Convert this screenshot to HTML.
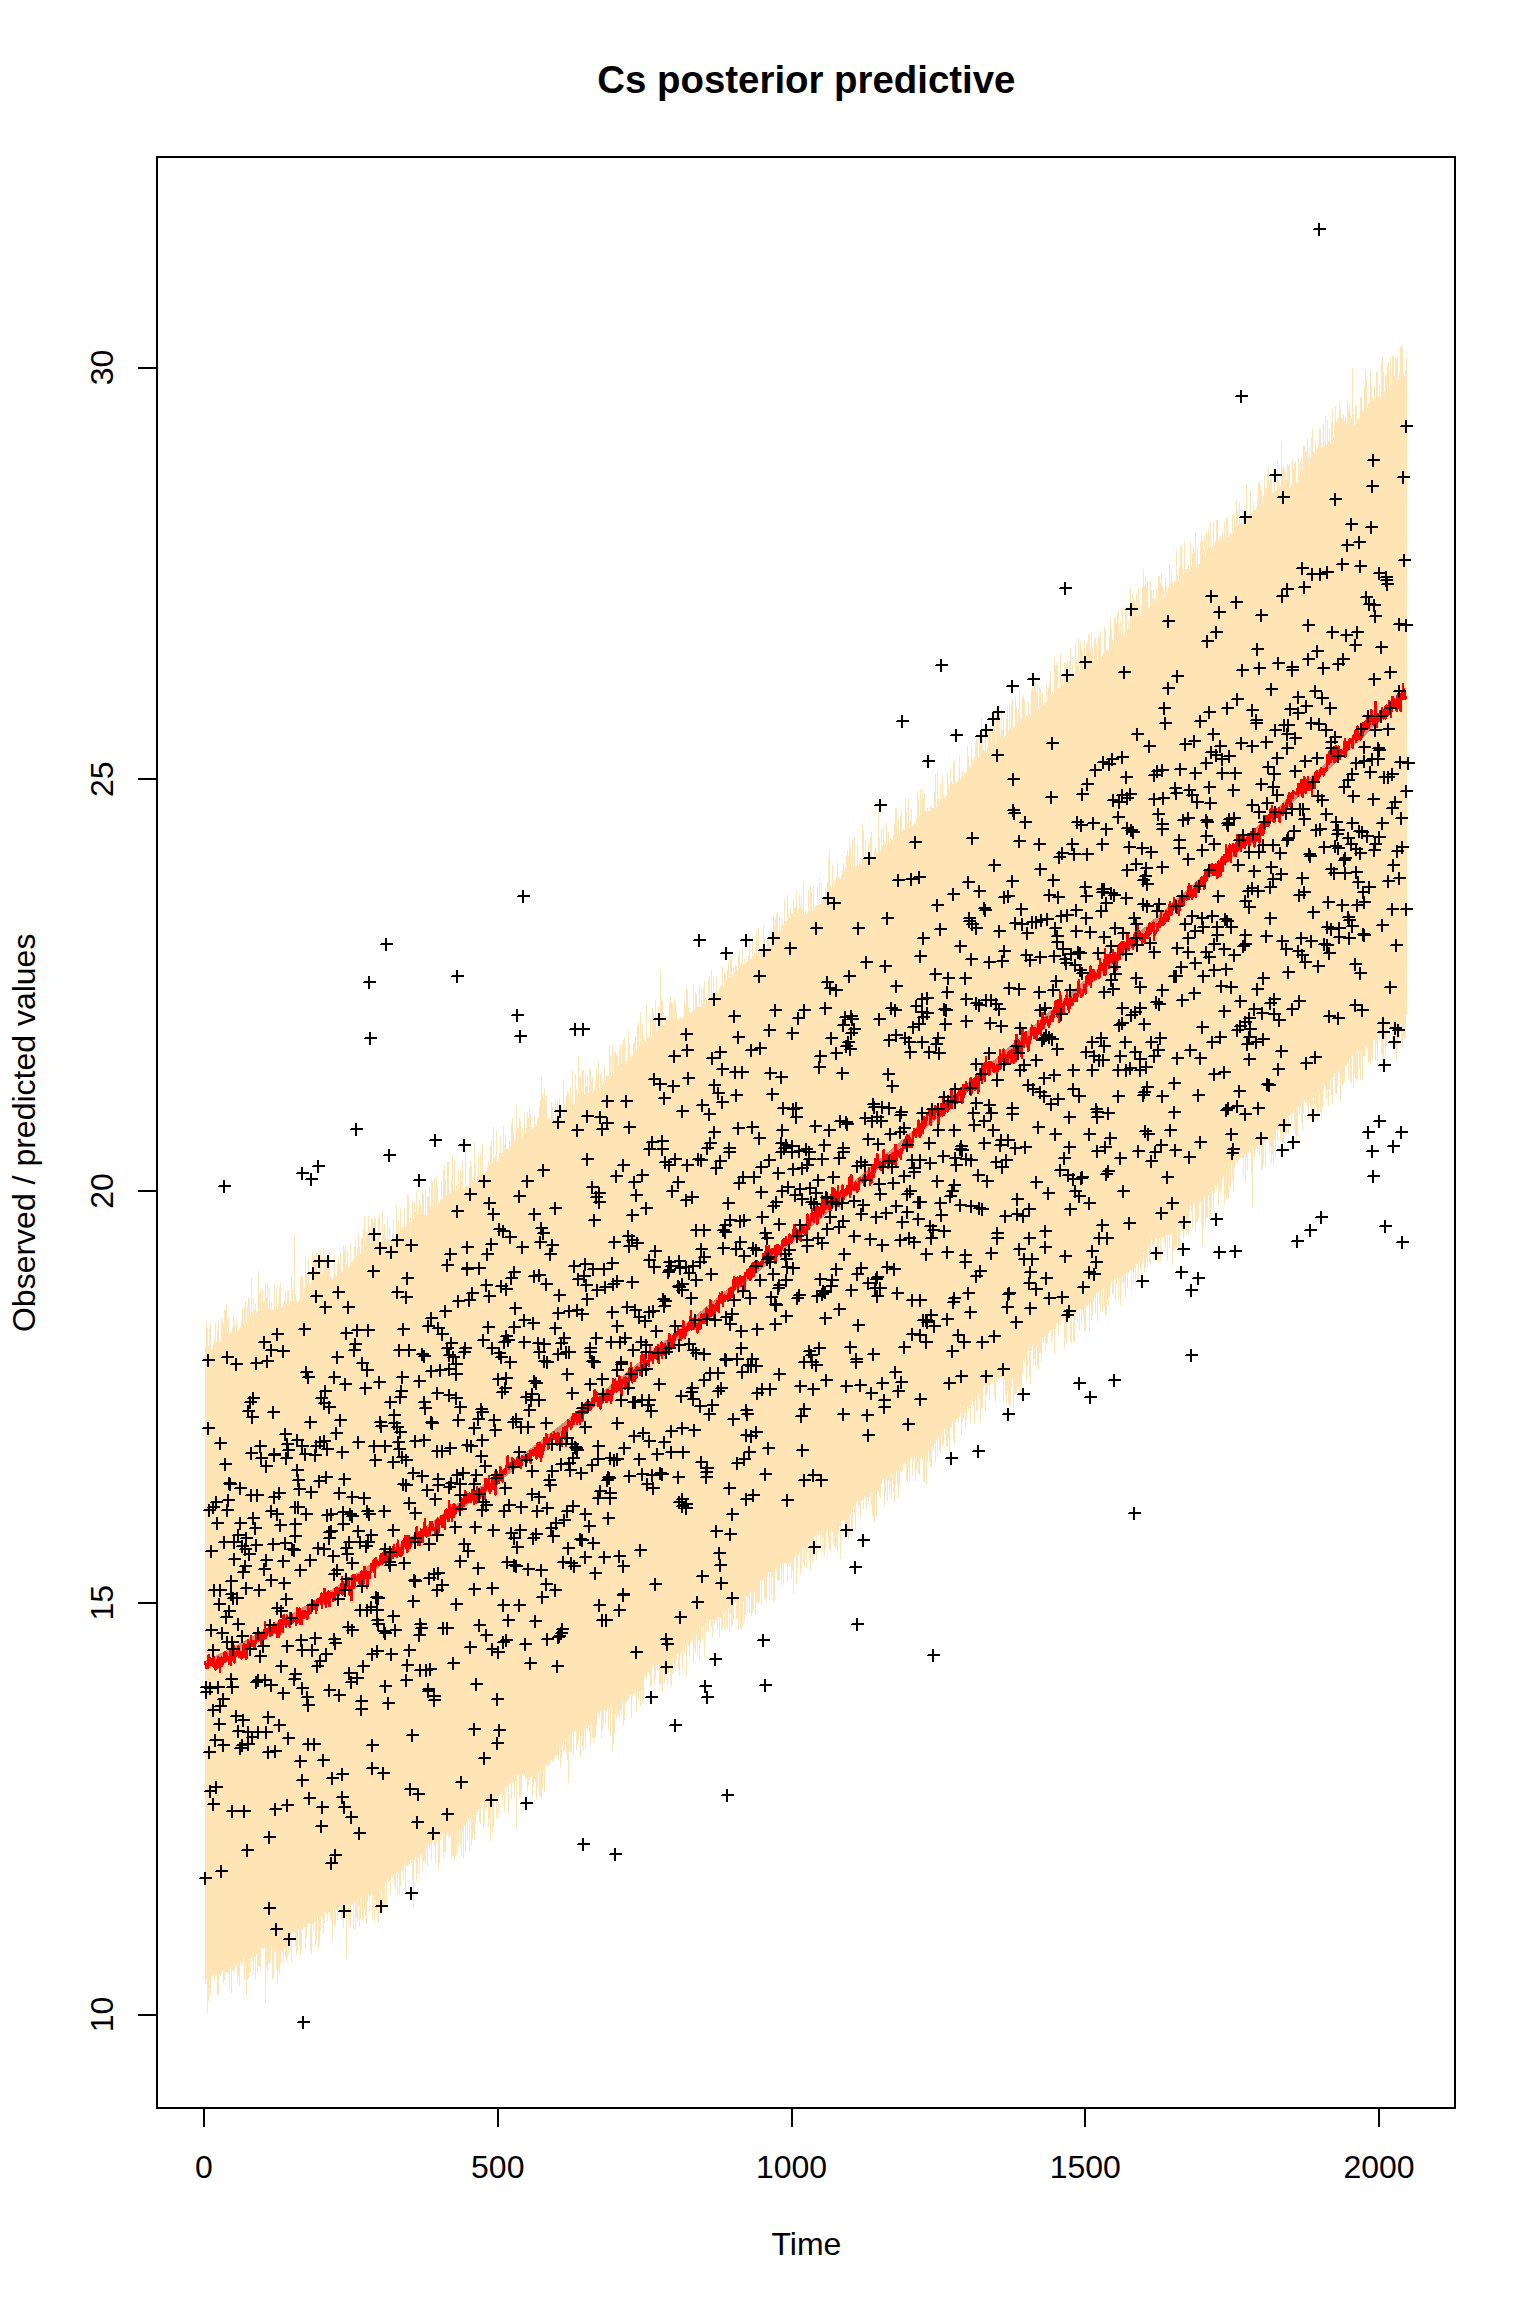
<!DOCTYPE html>
<html><head><meta charset="utf-8"><title>Cs posterior predictive</title>
<style>html,body{margin:0;padding:0;background:#fff}svg{display:block}text{font-family:"Liberation Sans",Arial,sans-serif;font-size:32px;fill:#000}</style></head>
<body><svg width="1536" height="2304" viewBox="0 0 1536 2304">
<rect width="1536" height="2304" fill="#fff"/>
<g shape-rendering="crispEdges">
<path fill="#FFE4B5" d="M205 1347V1347H206V1322H207V1328H208V1346H209V1329H210V1323H211V1350H212V1349H213V1345H214V1339H215V1322H216V1342H217V1330H218V1320H219V1342H220V1341H221V1318H222V1321H223V1323H224V1310H225V1310H226V1304H227V1332H228V1318H229V1333H230V1333H231V1332H232V1327H233V1314H234V1324H235V1332H236V1319H237V1331H238V1330H239V1330H240V1327H241V1320H242V1308H243V1324H244V1306H245V1301H246V1322H247V1306H248V1298H249V1298H250V1315H251V1278H252V1312H253V1298H254V1310H255V1304H256V1313H257V1311H258V1271H259V1294H260V1291H261V1311H262V1289H263V1303H264V1301H265V1283H266V1297H267V1283H268V1308H269V1287H270V1309H271V1303H272V1310H273V1310H274V1284H275V1309H276V1289H277V1309H278V1304H279V1287H280V1283H281V1308H282V1307H283V1304H284V1300H285V1290H286V1304H287V1291H288V1290H289V1305H290V1301H291V1275H292V1290H293V1301H294V1235H295V1294H296V1300H297V1302H298V1301H299V1299H300V1277H301V1275H302V1276H303V1294H304V1288H305V1256H306V1273H307V1282H308V1259H309V1286H310V1284H311V1282H312V1251H313V1258H314V1256H315V1258H316V1253H317V1274H318V1273H319V1267H320V1250H321V1257H322V1274H323V1249H324V1258H325V1257H326V1260H327V1264H328V1258H329V1252H330V1277H331V1276H332V1279H333V1277H334V1255H335V1273H336V1276H337V1263H338V1258H339V1269H340V1252H341V1272H342V1271H343V1245H344V1250H345V1247H346V1264H347V1251H348V1267H349V1266H350V1244H351V1262H352V1262H353V1261H354V1247H355V1240H356V1256H357V1248H358V1234H359V1247H360V1254H361V1239H362V1238H363V1229H364V1216H365V1247H366V1231H367V1233H368V1216H369V1225H370V1243H371V1218H372V1219H373V1223H374V1217H375V1219H376V1240H377V1239H378V1217H379V1215H380V1242H381V1242H382V1211H383V1234H384V1224H385V1236H386V1242H387V1218H388V1239H389V1228H390V1240H391V1239H392V1235H393V1219H394V1239H395V1236H396V1205H397V1236H398V1220H399V1232H400V1208H401V1230H402V1227H403V1228H404V1207H405V1227H406V1226H407V1194H408V1196H409V1222H410V1218H411V1222H412V1202H413V1219H414V1202H415V1212H416V1191H417V1215H418V1207H419V1200H420V1204H421V1215H422V1189H423V1195H424V1215H425V1189H426V1215H427V1196H428V1197H429V1186H430V1207H431V1179H432V1182H433V1208H434V1178H435V1200H436V1176H437V1187H438V1203H439V1202H440V1200H441V1182H442V1199H443V1170H444V1165H445V1181H446V1195H447V1161H448V1161H449V1192H450V1193H451V1180H452V1155H453V1190H454V1159H455V1191H456V1185H457V1190H458V1170H459V1187H460V1171H461V1181H462V1161H463V1189H464V1188H465V1150H466V1186H467V1185H468V1186H469V1168H470V1161H471V1166H472V1180H473V1181H474V1143H475V1163H476V1182H477V1177H478V1156H479V1175H480V1154H481V1175H482V1144H483V1176H484V1173H485V1174H486V1171H487V1167H488V1162H489V1165H490V1145H491V1140H492V1163H493V1127H494V1158H495V1155H496V1131H497V1161H498V1159H499V1153H500V1137H501V1153H502V1153H503V1126H504V1145H505V1135H506V1149H507V1149H508V1149H509V1141H510V1146H511V1124H512V1118H513V1131H514V1141H515V1139H516V1106H517V1128H518V1128H519V1118H520V1121H521V1139H522V1128H523V1137H524V1113H525V1133H526V1128H527V1112H528V1117H529V1107H530V1114H531V1127H532V1129H533V1127H534V1116H535V1124H536V1126H537V1119H538V1117H539V1106H540V1100H541V1076H542V1094H543V1098H544V1089H545V1104H546V1096H547V1119H548V1118H549V1118H550V1120H551V1102H552V1107H553V1117H554V1121H555V1100H556V1119H557V1100H558V1109H559V1098H560V1119H561V1105H562V1118H563V1080H564V1104H565V1115H566V1095H567V1091H568V1093H569V1109H570V1087H571V1103H572V1071H573V1105H574V1103H575V1074H576V1089H577V1096H578V1056H579V1078H580V1076H581V1091H582V1070H583V1070H584V1095H585V1073H586V1086H587V1076H588V1093H589V1068H590V1070H591V1081H592V1078H593V1093H594V1090H595V1082H596V1069H597V1075H598V1062H599V1087H600V1075H601V1072H602V1085H603V1081H604V1067H605V1083H606V1075H607V1076H608V1076H609V1046H610V1056H611V1076H612V1045H613V1073H614V1053H615V1051H616V1055H617V1056H618V1065H619V1050H620V1045H621V1064H622V1044H623V1040H624V1038H625V1064H626V1061H627V1061H628V1031H629V1043H630V1054H631V1058H632V1055H633V1044H634V1042H635V1036H636V1050H637V1025H638V1022H639V1046H640V1012H641V1044H642V1023H643V1036H644V1042H645V1042H646V1005H647V1038H648V1036H649V1037H650V1019H651V1036H652V1008H653V1012H654V1024H655V1000H656V1031H657V1028H658V1007H659V1020H660V970H661V999H662V1000H663V1025H664V1025H665V1016H666V1017H667V1020H668V1018H669V1003H670V997H671V1002H672V1003H673V1020H674V999H675V1002H676V1011H677V1021H678V1020H679V1018H680V1017H681V1019H682V1018H683V1018H684V1001H685V1004H686V988H687V990H688V1007H689V1011H690V1013H691V1012H692V1011H693V984H694V1010H695V992H696V994H697V1006H698V1007H699V986H700V1007H701V988H702V1004H703V988H704V982H705V1004H706V1000H707V1002H708V978H709V976H710V1000H711V970H712V996H713V977H714V997H715V992H716V977H717V991H718V993H719V988H720V986H721V985H722V967H723V986H724V971H725V974H726V980H727V970H728V962H729V977H730V956H731V959H732V975H733V966H734V972H735V965H736V966H737V970H738V956H739V951H740V965H741V963H742V949H743V964H744V959H745V963H746V962H747V961H748V956H749V934H750V959H751V958H752V937H753V956H754V953H755V953H756V930H757V955H758V928H759V952H760V950H761V947H762V953H763V925H764V939H765V951H766V948H767V939H768V940H769V931H770V946H771V930H772V941H773V916H774V925H775V919H776V914H777V912H778V934H779V917H780V931H781V918H782V924H783V925H784V899H785V921H786V921H787V895H788V913H789V917H790V908H791V914H792V913H793V900H794V908H795V907H796V890H797V913H798V909H799V895H800V905H801V898H802V909H803V882H804V914H805V911H806V914H807V913H808V890H809V911H810V886H811V892H812V911H813V886H814V907H815V906H816V905H817V887H818V905H819V878H820V904H821V883H822V902H823V899H824V898H825V889H826V893H827V882H828V858H829V850H830V885H831V888H832V865H833V888H834V880H835V884H836V877H837V863H838V877H839V878H840V879H841V875H842V870H843V863H844V871H845V868H846V855H847V850H848V856H849V842H850V847H851V867H852V839H853V864H854V837H855V866H856V866H857V846H858V866H859V863H860V862H861V864H862V824H863V831H864V857H865V840H866V860H867V861H868V842H869V857H870V837H871V832H872V858H873V857H874V852H875V847H876V852H877V854H878V809H879V838H880V851H881V829H882V846H883V827H884V841H885V844H886V823H887V845H888V832H889V842H890V838H891V839H892V840H893V835H894V824H895V808H896V808H897V834H898V819H899V833H900V816H901V812H902V831H903V828H904V830H905V798H906V811H907V824H908V799H909V828H910V821H911V809H912V826H913V825H914V823H915V824H916V818H917V791H918V799H919V816H920V789H921V815H922V790H923V798H924V793H925V811H926V812H927V808H928V811H929V811H930V807H931V806H932V808H933V808H934V792H935V774H936V807H937V771H938V799H939V802H940V783H941V799H942V776H943V795H944V798H945V796H946V796H947V773H948V784H949V790H950V769H951V782H952V784H953V762H954V760H955V781H956V783H957V782H958V778H959V756H960V779H961V777H962V771H963V776H964V774H965V772H966V772H967V746H968V756H969V765H970V768H971V746H972V760H973V764H974V757H975V743H976V739H977V739H978V758H979V735H980V733H981V718H982V732H983V750H984V751H985V732H986V752H987V747H988V729H989V730H990V726H991V742H992V732H993V726H994V721H995V744H996V708H997V707H998V719H999V714H1000V738H1001V709H1002V729H1003V719H1004V737H1005V736H1006V719H1007V706H1008V731H1009V705H1010V728H1011V705H1012V700H1013V728H1014V727H1015V696H1016V707H1017V722H1018V710H1019V690H1020V721H1021V717H1022V698H1023V695H1024V700H1025V720H1026V715H1027V716H1028V701H1029V713H1030V717H1031V690H1032V688H1033V691H1034V682H1035V682H1036V692H1037V683H1038V709H1039V687H1040V689H1041V702H1042V693H1043V705H1044V703H1045V702H1046V684H1047V701H1048V688H1049V682H1050V671H1051V695H1052V692H1053V694H1054V657H1055V665H1056V663H1057V665H1058V688H1059V689H1060V654H1061V684H1062V679H1063V685H1064V662H1065V684H1066V663H1067V660H1068V679H1069V661H1070V648H1071V678H1072V662H1073V679H1074V677H1075V644H1076V661H1077V665H1078V639H1079V672H1080V643H1081V649H1082V651H1083V669H1084V640H1085V668H1086V644H1087V642H1088V634H1089V635H1090V651H1091V632H1092V647H1093V661H1094V639H1095V637H1096V644H1097V659H1098V637H1099V636H1100V631H1101V657H1102V655H1103V653H1104V627H1105V630H1106V651H1107V650H1108V650H1109V636H1110V617H1111V629H1112V639H1113V643H1114V618H1115V617H1116V623H1117V613H1118V610H1119V633H1120V621H1121V635H1122V607H1123V635H1124V633H1125V613H1126V605H1127V629H1128V621H1129V630H1130V588H1131V602H1132V594H1133V599H1134V602H1135V605H1136V594H1137V617H1138V588H1139V605H1140V615H1141V604H1142V587H1143V569H1144V586H1145V578H1146V587H1147V581H1148V608H1149V607H1150V580H1151V590H1152V598H1153V590H1154V601H1155V598H1156V589H1157V604H1158V576H1159V576H1160V583H1161V573H1162V585H1163V588H1164V597H1165V578H1166V586H1167V592H1168V587H1169V564H1170V584H1171V570H1172V582H1173V586H1174V580H1175V582H1176V551H1177V575H1178V581H1179V567H1180V546H1181V547H1182V567H1183V575H1184V541H1185V569H1186V569H1187V569H1188V565H1189V570H1190V542H1191V566H1192V553H1193V547H1194V551H1195V532H1196V568H1197V548H1198V564H1199V564H1200V542H1201V536H1202V540H1203V550H1204V536H1205V558H1206V531H1207V551H1208V529H1209V548H1210V522H1211V549H1212V547H1213V522H1214V545H1215V541H1216V520H1217V520H1218V540H1219V536H1220V540H1221V536H1222V533H1223V540H1224V521H1225V536H1226V518H1227V518H1228V537H1229V536H1230V532H1231V535H1232V514H1233V533H1234V516H1235V527H1236V500H1237V511H1238V525H1239V502H1240V524H1241V518H1242V523H1243V510H1244V517H1245V510H1246V484H1247V518H1248V516H1249V514H1250V491H1251V513H1252V511H1253V502H1254V510H1255V510H1256V507H1257V501H1258V483H1259V481H1260V486H1261V490H1262V503H1263V496H1264V476H1265V488H1266V488H1267V474H1268V467H1269V483H1270V479H1271V477H1272V493H1273V493H1274V470H1275V491H1276V490H1277V460H1278V479H1279V485H1280V486H1281V442H1282V467H1283V466H1284V470H1285V472H1286V480H1287V464H1288V466H1289V464H1290V487H1291V485H1292V460H1293V469H1294V463H1295V462H1296V483H1297V482H1298V458H1299V476H1300V461H1301V457H1302V469H1303V446H1304V446H1305V452H1306V451H1307V439H1308V461H1309V447H1310V458H1311V438H1312V428H1313V451H1314V453H1315V439H1316V449H1317V448H1318V443H1319V429H1320V429H1321V448H1322V447H1323V424H1324V446H1325V416H1326V445H1327V420H1328V441H1329V428H1330V443H1331V422H1332V410H1333V437H1334V425H1335V407H1336V422H1337V419H1338V417H1339V403H1340V409H1341V418H1342V418H1343V414H1344V421H1345V417H1346V423H1347V401H1348V409H1349V403H1350V415H1351V418H1352V368H1353V415H1354V425H1355V406H1356V405H1357V420H1358V418H1359V419H1360V397H1361V396H1362V411H1363V410H1364V387H1365V370H1366V379H1367V408H1368V404H1369V403H1370V371H1371V385H1372V398H1373V400H1374V386H1375V399H1376V371H1377V372H1378V396H1379V385H1380V397H1381V364H1382V357H1383V372H1384V391H1385V376H1386V374H1387V366H1388V363H1389V390H1390V358H1391V385H1392V355H1393V357H1394V376H1395V359H1396V360H1397V357H1398V380H1399V372H1400V347H1401V345H1402V348H1403V373H1404V376H1405V370H1406V357H1407V1015H1406V1038H1405V1039H1404V1037H1403V1048H1402V1042H1401V1024H1400V1039H1399V1029H1398V1050H1397V1060H1396V1054H1395V1043H1394V1028H1393V1041H1392V1028H1391V1029H1390V1039H1389V1026H1388V1031H1387V1045H1386V1054H1385V1039H1384V1057H1383V1057H1382V1054H1381V1032H1380V1041H1379V1035H1378V1065H1377V1044H1376V1060H1375V1039H1374V1040H1373V1059H1372V1056H1371V1065H1370V1062H1369V1063H1368V1048H1367V1049H1366V1047H1365V1056H1364V1057H1363V1080H1362V1052H1361V1080H1360V1069H1359V1051H1358V1080H1357V1081H1356V1078H1355V1074H1354V1087H1353V1056H1352V1083H1351V1082H1350V1059H1349V1079H1348V1062H1347V1065H1346V1066H1345V1081H1344V1084H1343V1086H1342V1084H1341V1101H1340V1073H1339V1070H1338V1087H1337V1094H1336V1093H1335V1073H1334V1077H1333V1104H1332V1095H1331V1080H1330V1090H1329V1106H1328V1089H1327V1099H1326V1087H1325V1085H1324V1089H1323V1107H1322V1118H1321V1112H1320V1094H1319V1113H1318V1121H1317V1108H1316V1104H1315V1119H1314V1097H1313V1119H1312V1115H1311V1107H1310V1103H1309V1121H1308V1106H1307V1103H1306V1103H1305V1100H1304V1113H1303V1130H1302V1122H1301V1107H1300V1114H1299V1106H1298V1136H1297V1141H1296V1135H1295V1130H1294V1110H1293V1113H1292V1128H1291V1115H1290V1115H1289V1134H1288V1119H1287V1134H1286V1136H1285V1121H1284V1143H1283V1150H1282V1123H1281V1139H1280V1127H1279V1129H1278V1141H1277V1130H1276V1158H1275V1140H1274V1165H1273V1154H1272V1164H1271V1146H1270V1153H1269V1140H1268V1136H1267V1138H1266V1167H1265V1142H1264V1165H1263V1169H1262V1170H1261V1142H1260V1156H1259V1145H1258V1149H1257V1147H1256V1151H1255V1157H1254V1147H1253V1207H1252V1174H1251V1153H1250V1151H1249V1153H1248V1171H1247V1157H1246V1180H1245V1154H1244V1176H1243V1158H1242V1157H1241V1158H1240V1159H1239V1160H1238V1162H1237V1162H1236V1160H1235V1168H1234V1192H1233V1180H1232V1163H1231V1188H1230V1185H1229V1198H1228V1200H1227V1199H1226V1194H1225V1204H1224V1176H1223V1178H1222V1189H1221V1193H1220V1184H1219V1205H1218V1184H1217V1189H1216V1185H1215V1193H1214V1211H1213V1191H1212V1209H1211V1219H1210V1224H1209V1195H1208V1218H1207V1218H1206V1226H1205V1198H1204V1229H1203V1246H1202V1224H1201V1201H1200V1202H1199V1219H1198V1222H1197V1222H1196V1232H1195V1204H1194V1202H1193V1228H1192V1212H1191V1206H1190V1212H1189V1234H1188V1220H1187V1235H1186V1223H1185V1229H1184V1238H1183V1234H1182V1227H1181V1225H1180V1246H1179V1248H1178V1226H1177V1248H1176V1246H1175V1251H1174V1251H1173V1265H1172V1233H1171V1235H1170V1248H1169V1235H1168V1261H1167V1235H1166V1248H1165V1243H1164V1238H1163V1237H1162V1236H1161V1261H1160V1238H1159V1263H1158V1255H1157V1239H1156V1237H1155V1243H1154V1260H1153V1246H1152V1238H1151V1264H1150V1263H1149V1246H1148V1267H1147V1258H1146V1268H1145V1272H1144V1252H1143V1263H1142V1274H1141V1269H1140V1259H1139V1281H1138V1264H1137V1264H1136V1285H1135V1269H1134V1284H1133V1271H1132V1290H1131V1270H1130V1270H1129V1273H1128V1288H1127V1273H1126V1297H1125V1282H1124V1285H1123V1276H1122V1283H1121V1305H1120V1280H1119V1299H1118V1278H1117V1284H1116V1301H1115V1279H1114V1294H1113V1294H1112V1281H1111V1286H1110V1297H1109V1305H1108V1300H1107V1315H1106V1316H1105V1306H1104V1288H1103V1311H1102V1289H1101V1311H1100V1303H1099V1292H1098V1321H1097V1293H1096V1313H1095V1296H1094V1302H1093V1315H1092V1320H1091V1303H1090V1332H1089V1304H1088V1306H1087V1305H1086V1330H1085V1331H1084V1317H1083V1310H1082V1324H1081V1309H1080V1331H1079V1310H1078V1323H1077V1313H1076V1320H1075V1343H1074V1341H1073V1315H1072V1343H1071V1341H1070V1313H1069V1318H1068V1317H1067V1343H1066V1338H1065V1349H1064V1320H1063V1319H1062V1318H1061V1325H1060V1321H1059V1335H1058V1322H1057V1324H1056V1329H1055V1353H1054V1329H1053V1338H1052V1343H1051V1330H1050V1331H1049V1333H1048V1343H1047V1344H1046V1351H1045V1337H1044V1343H1043V1338H1042V1361H1041V1353H1040V1353H1039V1369H1038V1366H1037V1346H1036V1367H1035V1359H1034V1365H1033V1345H1032V1351H1031V1384H1030V1376H1029V1351H1028V1367H1027V1380H1026V1357H1025V1363H1024V1360H1023V1374H1022V1385H1021V1392H1020V1391H1019V1387H1018V1387H1017V1394H1016V1394H1015V1395H1014V1420H1013V1378H1012V1388H1011V1406H1010V1406H1009V1403H1008V1391H1007V1403H1006V1394H1005V1380H1004V1404H1003V1377H1002V1381H1001V1377H1000V1378H999V1379H998V1377H997V1382H996V1402H995V1397H994V1377H993V1383H992V1381H991V1384H990V1400H989V1385H988V1393H987V1396H986V1411H985V1385H984V1389H983V1409H982V1408H981V1421H980V1399H979V1393H978V1412H977V1410H976V1397H975V1423H974V1406H973V1401H972V1405H971V1424H970V1408H969V1410H968V1406H967V1420H966V1429H965V1413H964V1418H963V1422H962V1435H961V1413H960V1417H959V1422H958V1418H957V1419H956V1423H955V1444H954V1439H953V1422H952V1427H951V1428H950V1451H949V1439H948V1447H947V1447H946V1434H945V1429H944V1445H943V1446H942V1432H941V1453H940V1450H939V1436H938V1457H937V1440H936V1463H935V1444H934V1450H933V1447H932V1468H931V1466H930V1462H929V1451H928V1461H927V1484H926V1452H925V1482H924V1481H923V1460H922V1455H921V1459H920V1475H919V1474H918V1462H917V1470H916V1481H915V1456H914V1463H913V1476H912V1457H911V1460H910V1482H909V1468H908V1482H907V1480H906V1462H905V1463H904V1464H903V1471H902V1472H901V1470H900V1486H899V1498H898V1485H897V1471H896V1486H895V1502H894V1492H893V1475H892V1499H891V1486H890V1495H889V1480H888V1501H887V1477H886V1492H885V1506H884V1479H883V1480H882V1484H881V1498H880V1496H879V1492H878V1490H877V1516H876V1494H875V1522H874V1516H873V1517H872V1505H871V1492H870V1497H869V1501H868V1497H867V1509H866V1499H865V1496H864V1509H863V1500H862V1501H861V1517H860V1509H859V1506H858V1501H857V1502H856V1530H855V1513H854V1507H853V1532H852V1538H851V1514H850V1535H849V1539H848V1535H847V1535H846V1535H845V1521H844V1519H843V1521H842V1521H841V1559H840V1526H839V1533H838V1552H837V1546H836V1549H835V1547H834V1543H833V1532H832V1528H831V1551H830V1550H829V1543H828V1529H827V1531H826V1550H825V1556H824V1537H823V1552H822V1531H821V1545H820V1536H819V1534H818V1535H817V1560H816V1537H815V1536H814V1555H813V1562H812V1542H811V1570H810V1558H809V1543H808V1552H807V1568H806V1550H805V1567H804V1563H803V1547H802V1569H801V1574H800V1551H799V1556H798V1568H797V1584H796V1557H795V1558H794V1593H793V1571H792V1579H791V1563H790V1566H789V1564H788V1581H787V1564H786V1563H785V1563H784V1584H783V1566H782V1585H781V1565H780V1580H779V1581H778V1581H777V1570H776V1568H775V1600H774V1602H773V1577H772V1595H771V1572H770V1600H769V1572H768V1577H767V1601H766V1598H765V1598H764V1578H763V1580H762V1605H761V1581H760V1602H759V1604H758V1601H757V1603H756V1615H755V1592H754V1610H753V1613H752V1616H751V1592H750V1613H749V1598H748V1613H747V1596H746V1615H745V1620H744V1601H743V1626H742V1631H741V1628H740V1600H739V1629H738V1618H737V1619H736V1602H735V1603H734V1619H733V1624H732V1627H731V1614H730V1632H729V1608H728V1630H727V1628H726V1610H725V1630H724V1613H723V1628H722V1631H721V1617H720V1638H719V1617H718V1630H717V1620H716V1620H715V1625H714V1619H713V1637H712V1627H711V1620H710V1620H709V1632H708V1623H707V1632H706V1623H705V1657H704V1626H703V1640H702V1627H701V1643H700V1661H699V1640H698V1655H697V1634H696V1653H695V1649H694V1663H693V1641H692V1640H691V1643H690V1657H689V1646H688V1643H687V1677H686V1646H685V1653H684V1648H683V1670H682V1651H681V1653H680V1676H679V1670H678V1654H677V1659H676V1667H675V1667H674V1657H673V1674H672V1687H671V1684H670V1668H669V1673H668V1685H667V1661H666V1660H665V1683H664V1664H663V1692H662V1684H661V1683H660V1685H659V1664H658V1670H657V1665H656V1679H655V1686H654V1665H653V1666H652V1687H651V1687H650V1676H649V1672H648V1672H647V1678H646V1676H645V1677H644V1699H643V1700H642V1689H641V1706H640V1691H639V1699H638V1691H637V1712H636V1695H635V1693H634V1694H633V1696H632V1718H631V1695H630V1696H629V1699H628V1701H627V1703H626V1701H625V1720H624V1726H623V1701H622V1715H621V1710H620V1718H619V1716H618V1704H617V1718H616V1713H615V1733H614V1744H613V1752H612V1704H611V1736H610V1709H609V1729H608V1707H607V1712H606V1723H605V1710H604V1723H603V1730H602V1738H601V1710H600V1718H599V1714H598V1713H597V1726H596V1736H595V1743H594V1738H593V1738H592V1721H591V1745H590V1732H589V1725H588V1729H587V1728H586V1749H585V1731H584V1751H583V1746H582V1736H581V1757H580V1732H579V1740H578V1744H577V1750H576V1731H575V1731H574V1756H573V1732H572V1753H571V1752H570V1734H569V1783H568V1760H567V1754H566V1739H565V1750H564V1753H563V1745H562V1759H561V1767H560V1748H559V1760H558V1755H557V1755H556V1756H555V1758H554V1762H553V1761H552V1760H551V1761H550V1766H549V1763H548V1767H547V1765H546V1766H545V1792H544V1770H543V1789H542V1799H541V1796H540V1796H539V1772H538V1789H537V1800H536V1782H535V1779H534V1787H533V1795H532V1777H531V1777H530V1780H529V1785H528V1791H527V1778H526V1781H525V1775H524V1776H523V1774H522V1792H521V1797H520V1797H519V1775H518V1776H517V1828H516V1781H515V1798H514V1782H513V1783H512V1799H511V1783H510V1784H509V1813H508V1788H507V1787H506V1788H505V1812H504V1795H503V1806H502V1792H501V1794H500V1794H499V1815H498V1796H497V1819H496V1796H495V1801H494V1827H493V1833H492V1800H491V1841H490V1818H489V1827H488V1798H487V1810H486V1800H485V1823H484V1828H483V1803H482V1807H481V1824H480V1822H479V1809H478V1812H477V1815H476V1824H475V1840H474V1834H473V1839H472V1846H471V1818H470V1851H469V1819H468V1840H467V1823H466V1852H465V1826H464V1858H463V1830H462V1856H461V1845H460V1829H459V1847H458V1830H457V1855H456V1856H455V1861H454V1856H453V1856H452V1859H451V1834H450V1836H449V1838H448V1832H447V1836H446V1852H445V1852H444V1858H443V1833H442V1835H441V1840H440V1863H439V1869H438V1837H437V1841H436V1863H435V1846H434V1840H433V1842H432V1861H431V1846H430V1850H429V1844H428V1866H427V1848H426V1864H425V1859H424V1861H423V1872H422V1854H421V1854H420V1874H419V1858H418V1873H417V1881H416V1857H415V1860H414V1908H413V1880H412V1863H411V1859H410V1865H409V1864H408V1866H407V1866H406V1893H405V1865H404V1880H403V1871H402V1869H401V1886H400V1895H399V1874H398V1896H397V1872H396V1890H395V1886H394V1875H393V1878H392V1876H391V1895H390V1881H389V1882H388V1880H387V1904H386V1882H385V1906H384V1908H383V1911H382V1890H381V1902H380V1903H379V1923H378V1903H377V1910H376V1900H375V1921H374V1896H373V1919H372V1894H371V1896H370V1913H369V1895H368V1902H367V1924H366V1916H365V1909H364V1918H363V1920H362V1896H361V1919H360V1927H359V1906H358V1922H357V1918H356V1930H355V1902H354V1929H353V1904H352V1902H351V1928H350V1927H349V1918H348V1904H347V1959H346V1902H345V1904H344V1928H343V1918H342V1920H341V1907H340V1907H339V1908H338V1920H337V1910H336V1924H335V1926H334V1909H333V1940H332V1921H331V1918H330V1913H329V1912H328V1921H327V1913H326V1912H325V1923H324V1934H323V1918H322V1916H321V1931H320V1945H319V1949H318V1917H317V1941H316V1945H315V1921H314V1931H313V1924H312V1955H311V1950H310V1924H309V1923H308V1924H307V1938H306V1949H305V1927H304V1925H303V1930H302V1949H301V1956H300V1946H299V1929H298V1951H297V1955H296V1946H295V1932H294V1932H293V1934H292V1962H291V1935H290V1936H289V1954H288V1957H287V1962H286V1958H285V1949H284V1964H283V1952H282V1951H281V1963H280V1974H279V1970H278V1983H277V1969H276V1946H275V1952H274V1979H273V1979H272V1946H271V1959H270V1964H269V1964H268V1971H267V1967H266V2003H265V1947H264V1949H263V1948H262V1948H261V1971H260V1967H259V1966H258V1973H257V1954H256V1980H255V1957H254V1975H253V1961H252V1957H251V1973H250V1959H249V1978H248V1980H247V1995H246V1961H245V1980H244V1958H243V1966H242V1964H241V1962H240V1987H239V1976H238V1983H237V1965H236V1966H235V1971H234V1973H233V1970H232V1993H231V1967H230V1990H229V1974H228V1972H227V1972H226V1972H225V1980H224V1983H223V1971H222V1973H221V1976H220V1975H219V1995H218V1996H217V1975H216V1976H215V1981H214V1975H213V1976H212V1976H211V1994H210V1988H209V2001H208V2013H207V1979H206V1984H205Z"/>
<polygon fill="#CD8C78" points="204.6,1661.4 209.3,1659.1 214,1656.7 218.7,1654.3 223.4,1651.9 228.1,1649.5 232.8,1647 237.5,1644.5 242.2,1642 246.9,1639.5 251.6,1636.9 256.3,1634.3 261,1631.7 265.7,1629 270.4,1626.4 275.1,1623.7 279.8,1621 284.5,1618.2 289.2,1615.4 293.9,1612.7 298.6,1609.8 303.3,1607 308,1604.2 312.7,1601.3 317.4,1598.4 322.1,1595.5 326.8,1592.5 331.5,1589.6 336.2,1586.6 340.9,1583.6 345.6,1580.5 350.3,1577.5 355,1574.4 359.7,1571.4 364.4,1568.3 369.1,1565.1 373.8,1562 378.5,1558.8 383.2,1555.7 387.9,1552.5 392.6,1549.3 397.3,1546 402,1542.8 406.7,1539.5 411.4,1536.3 416.1,1533 420.8,1529.7 425.5,1526.3 430.2,1523 434.9,1519.6 439.6,1516.3 444.3,1512.9 449,1509.5 453.7,1506.1 458.4,1502.6 463.1,1499.2 467.8,1495.7 472.5,1492.3 477.2,1488.8 481.9,1485.3 486.6,1481.8 491.3,1478.3 496,1474.7 500.7,1471.2 505.4,1467.6 510.1,1464.1 514.8,1460.5 519.5,1456.9 524.2,1453.3 528.9,1449.7 533.6,1446 538.3,1442.4 543,1438.7 547.7,1435.1 552.4,1431.4 557.1,1427.7 561.8,1424 566.5,1420.3 571.2,1416.6 575.9,1412.9 580.6,1409.2 585.3,1405.5 590,1401.7 594.7,1398 599.4,1394.2 604.1,1390.4 608.8,1386.6 613.5,1382.9 618.2,1379.1 622.9,1375.3 627.6,1371.4 632.3,1367.6 637,1363.8 641.7,1360 646.4,1356.1 651.1,1352.3 655.8,1348.4 660.5,1344.6 665.2,1340.7 669.9,1336.8 674.6,1333 679.3,1329.1 684,1325.2 688.7,1321.3 693.4,1317.4 698.1,1313.5 702.8,1309.6 707.5,1305.6 712.2,1301.7 716.9,1297.8 721.6,1293.8 726.3,1289.9 731,1286 735.7,1282 740.4,1278.1 745.1,1274.1 749.8,1270.1 754.5,1266.2 759.2,1262.2 763.9,1258.2 768.6,1254.2 773.3,1250.3 778,1246.3 782.7,1242.3 787.4,1238.3 792.1,1234.3 796.8,1230.3 801.5,1226.3 806.2,1222.3 810.9,1218.3 815.6,1214.3 820.3,1210.2 825,1206.2 829.7,1202.2 834.4,1198.2 839.1,1194.1 843.8,1190.1 848.5,1186.1 853.2,1182 857.9,1178 862.6,1173.9 867.3,1169.9 872,1165.8 876.7,1161.8 881.4,1157.7 886.1,1153.7 890.8,1149.6 895.5,1145.6 900.2,1141.5 904.9,1137.4 909.6,1133.4 914.3,1129.3 919,1125.2 923.7,1121.2 928.4,1117.1 933.1,1113 937.8,1108.9 942.5,1104.8 947.2,1100.8 951.9,1096.7 956.6,1092.6 961.3,1088.5 966,1084.4 970.7,1080.3 975.4,1076.2 980.1,1072.1 984.8,1068 989.5,1063.9 994.2,1059.8 998.9,1055.7 1003.6,1051.6 1008.3,1047.5 1013,1043.4 1017.7,1039.3 1022.4,1035.1 1027.1,1031 1031.8,1026.9 1036.5,1022.8 1041.2,1018.7 1045.9,1014.5 1050.6,1010.4 1055.3,1006.3 1060,1002.1 1064.7,998 1069.4,993.9 1074.1,989.7 1078.8,985.6 1083.5,981.5 1088.2,977.3 1092.9,973.2 1097.6,969 1102.3,964.9 1107,960.7 1111.7,956.5 1116.4,952.4 1121.1,948.2 1125.8,944 1130.5,939.9 1135.2,935.7 1139.9,931.5 1144.6,927.4 1149.3,923.2 1154,919 1158.7,914.8 1163.4,910.6 1168.1,906.4 1172.8,902.2 1177.5,898 1182.2,893.8 1186.9,889.6 1191.6,885.4 1196.3,881.2 1201,877 1205.7,872.7 1210.4,868.5 1215.1,864.3 1219.8,860 1224.5,855.8 1229.2,851.6 1233.9,847.3 1238.6,843.1 1243.3,838.8 1248,834.5 1252.7,830.3 1257.4,826 1262.1,821.7 1266.8,817.4 1271.5,813.1 1276.2,808.8 1280.9,804.5 1285.6,800.2 1290.3,795.9 1295,791.6 1299.7,787.3 1304.4,782.9 1309.1,778.6 1313.8,774.3 1318.5,769.9 1323.2,765.6 1327.9,761.2 1332.6,756.8 1337.3,752.4 1342,748.1 1346.7,743.7 1351.4,739.3 1356.1,734.8 1360.8,730.4 1365.5,726 1370.2,721.6 1374.9,717.1 1379.6,712.7 1384.3,708.2 1389,703.7 1393.7,699.3 1398.4,694.8 1403.1,690.3 1406,696.5 1401.3,701 1396.6,705.5 1391.9,710 1387.2,714.5 1382.5,718.9 1377.8,723.4 1373.1,727.9 1368.4,732.3 1363.7,736.7 1359,741.1 1354.3,745.6 1349.6,750 1344.9,754.4 1340.2,758.8 1335.5,763.1 1330.8,767.5 1326.1,771.9 1321.4,776.2 1316.7,780.6 1312,785 1307.3,789.3 1302.6,793.6 1297.9,798 1293.2,802.3 1288.5,806.6 1283.8,810.9 1279.1,815.2 1274.4,819.5 1269.7,823.8 1265,828.1 1260.3,832.4 1255.6,836.7 1250.9,840.9 1246.2,845.2 1241.5,849.5 1236.8,853.7 1232.1,858 1227.4,862.2 1222.7,866.5 1218,870.7 1213.3,874.9 1208.6,879.2 1203.9,883.4 1199.2,887.6 1194.5,891.8 1189.8,896 1185.1,900.2 1180.4,904.5 1175.7,908.7 1171,912.9 1166.3,917.1 1161.6,921.2 1156.9,925.4 1152.2,929.6 1147.5,933.8 1142.8,938 1138.1,942.2 1133.4,946.3 1128.7,950.5 1124,954.7 1119.3,958.8 1114.6,963 1109.9,967.2 1105.2,971.3 1100.5,975.5 1095.8,979.6 1091.1,983.8 1086.4,987.9 1081.7,992.1 1077,996.2 1072.3,1000.3 1067.6,1004.5 1062.9,1008.6 1058.2,1012.8 1053.5,1016.9 1048.8,1021 1044.1,1025.1 1039.4,1029.3 1034.7,1033.4 1030,1037.5 1025.3,1041.6 1020.6,1045.7 1015.9,1049.9 1011.2,1054 1006.5,1058.1 1001.8,1062.2 997.1,1066.3 992.4,1070.4 987.7,1074.5 983,1078.6 978.3,1082.7 973.6,1086.8 968.9,1090.9 964.2,1095 959.5,1099.1 954.8,1103.2 950.1,1107.3 945.4,1111.3 940.7,1115.4 936,1119.5 931.3,1123.6 926.6,1127.7 921.9,1131.7 917.2,1135.8 912.5,1139.9 907.8,1144 903.1,1148 898.4,1152.1 893.7,1156.1 889,1160.2 884.3,1164.3 879.6,1168.3 874.9,1172.4 870.2,1176.4 865.5,1180.5 860.8,1184.5 856.1,1188.6 851.4,1192.6 846.7,1196.6 842,1200.7 837.3,1204.7 832.6,1208.7 827.9,1212.8 823.2,1216.8 818.5,1220.8 813.8,1224.8 809.1,1228.8 804.4,1232.8 799.7,1236.8 795,1240.9 790.3,1244.9 785.6,1248.8 780.9,1252.8 776.2,1256.8 771.5,1260.8 766.8,1264.8 762.1,1268.8 757.4,1272.8 752.7,1276.7 748,1280.7 743.3,1284.6 738.6,1288.6 733.9,1292.6 729.2,1296.5 724.5,1300.4 719.8,1304.4 715.1,1308.3 710.4,1312.2 705.7,1316.2 701,1320.1 696.3,1324 691.6,1327.9 686.9,1331.8 682.2,1335.7 677.5,1339.6 672.8,1343.5 668.1,1347.3 663.4,1351.2 658.7,1355.1 654,1358.9 649.3,1362.8 644.6,1366.6 639.9,1370.5 635.2,1374.3 630.5,1378.1 625.8,1381.9 621.1,1385.7 616.4,1389.5 611.7,1393.3 607,1397.1 602.3,1400.9 597.6,1404.7 592.9,1408.4 588.2,1412.2 583.5,1415.9 578.8,1419.6 574.1,1423.4 569.4,1427.1 564.7,1430.8 560,1434.5 555.3,1438.2 550.6,1441.8 545.9,1445.5 541.2,1449.2 536.5,1452.8 531.8,1456.4 527.1,1460.1 522.4,1463.7 517.7,1467.3 513,1470.9 508.3,1474.5 503.6,1478 498.9,1481.6 494.2,1485.1 489.5,1488.6 484.8,1492.2 480.1,1495.7 475.4,1499.2 470.7,1502.6 466,1506.1 461.3,1509.6 456.6,1513 451.9,1516.4 447.2,1519.8 442.5,1523.2 437.8,1526.6 433.1,1530 428.4,1533.3 423.7,1536.6 419,1540 414.3,1543.3 409.6,1546.6 404.9,1549.8 400.2,1553.1 395.5,1556.3 390.8,1559.5 386.1,1562.7 381.4,1565.9 376.7,1569.1 372,1572.2 367.3,1575.4 362.6,1578.5 357.9,1581.6 353.2,1584.6 348.5,1587.7 343.8,1590.7 339.1,1593.8 334.4,1596.8 329.7,1599.7 325,1602.7 320.3,1605.6 315.6,1608.5 310.9,1611.4 306.2,1614.3 301.5,1617.1 296.8,1620 292.1,1622.8 287.4,1625.5 282.7,1628.3 278,1631 273.3,1633.7 268.6,1636.4 263.9,1639.1 259.2,1641.7 254.5,1644.3 249.8,1646.9 245.1,1649.5 240.4,1652 235.7,1654.5 231,1657 226.3,1659.5 221.6,1661.9 216.9,1664.3 212.2,1666.7 207.5,1669"/>
<polyline fill="none" stroke="#FF0000" stroke-width="2.4" stroke-linejoin="round" points="204.6,1664.2 205.2,1662.3 205.8,1665.1 206.3,1668.1 206.9,1665.4 207.5,1668 208.1,1662.1 208.7,1654.9 209.3,1664.5 209.9,1664.9 210.5,1658.6 211.1,1659.1 211.6,1660.1 212.2,1665.4 212.8,1660.4 213.4,1656.2 214,1666.9 214.6,1662 215.2,1669.5 215.8,1666 216.3,1668.8 216.9,1660.1 217.5,1665.4 218.1,1657 218.7,1657.5 219.3,1659.3 219.9,1671.6 220.4,1660.9 221,1658.2 221.6,1657.3 222.2,1666 222.8,1660.3 223.4,1662.9 224,1661.9 224.6,1651.9 225.2,1661.8 225.7,1657.6 226.3,1652.7 226.9,1660.5 227.5,1657.9 228.1,1656.7 228.7,1656.9 229.3,1663.7 229.8,1656.6 230.4,1649.7 231,1665.1 231.6,1652.1 232.2,1656 232.8,1659.9 233.4,1645.6 234,1652.1 234.6,1662.4 235.1,1655.3 235.7,1652.4 236.3,1656.3 236.9,1651.4 237.5,1655.1 238.1,1650.9 238.7,1646.5 239.2,1657.4 239.8,1652.4 240.4,1655.6 241,1652 241.6,1658.6 242.2,1654.9 242.8,1652.4 243.4,1646.1 243.9,1644.3 244.5,1657 245.1,1653.6 245.7,1645.4 246.3,1659 246.9,1650.3 247.5,1647.9 248.1,1640.1 248.7,1642.7 249.2,1647.6 249.8,1647.4 250.4,1646.2 251,1636.3 251.6,1646.3 252.2,1645.1 252.8,1641.1 253.3,1643.2 253.9,1643.2 254.5,1647.6 255.1,1641.3 255.7,1643.1 256.3,1634.1 256.9,1636.4 257.5,1639.6 258.1,1635.4 258.6,1640.4 259.2,1632.5 259.8,1637.7 260.4,1634.1 261,1643.7 261.6,1634.5 262.2,1645 262.8,1646.4 263.3,1636.7 263.9,1639.5 264.5,1633.4 265.1,1621.9 265.7,1637.9 266.3,1636.4 266.9,1631.6 267.4,1629.6 268,1632.8 268.6,1632.6 269.2,1627.3 269.8,1627.9 270.4,1635.9 271,1630.4 271.6,1629.4 272.1,1634.9 272.7,1627.5 273.3,1633.1 273.9,1623 274.5,1626.8 275.1,1627 275.7,1630.3 276.3,1627.4 276.9,1637.2 277.4,1632.2 278,1623.9 278.6,1636.9 279.2,1620.6 279.8,1634.2 280.4,1620.5 281,1628.8 281.6,1619.8 282.1,1622.9 282.7,1631.6 283.3,1616.4 283.9,1615 284.5,1622.8 285.1,1623.6 285.7,1622.8 286.2,1626.8 286.8,1615.5 287.4,1624 288,1621.1 288.6,1624.8 289.2,1623.7 289.8,1626.9 290.4,1613.1 290.9,1620.4 291.5,1614.2 292.1,1619.1 292.7,1622.6 293.3,1620.4 293.9,1621.4 294.5,1618.2 295.1,1620 295.6,1619.4 296.2,1624.9 296.8,1621.6 297.4,1608.2 298,1620.4 298.6,1622.2 299.2,1614.5 299.8,1608.5 300.4,1623.6 300.9,1616.6 301.5,1618.6 302.1,1624.4 302.7,1610.7 303.3,1614.5 303.9,1613.7 304.5,1617.8 305.1,1611.1 305.6,1616.1 306.2,1613.6 306.8,1618.5 307.4,1618.7 308,1604.7 308.6,1614.2 309.2,1609.5 309.8,1610.9 310.3,1612.6 310.9,1612.6 311.5,1606 312.1,1610.6 312.7,1609.3 313.3,1608 313.9,1601.3 314.4,1603.5 315,1604.6 315.6,1609.2 316.2,1613.2 316.8,1600.2 317.4,1599.6 318,1605 318.6,1600.9 319.1,1599.1 319.7,1598.4 320.3,1597.4 320.9,1604.3 321.5,1593.2 322.1,1607.6 322.7,1595.8 323.3,1597.3 323.9,1594.8 324.4,1588.9 325,1590.6 325.6,1604.2 326.2,1606.7 326.8,1592.8 327.4,1602.2 328,1596.4 328.6,1591.4 329.1,1604.2 329.7,1606.3 330.3,1593.2 330.9,1594 331.5,1595.1 332.1,1593.2 332.7,1597.7 333.2,1600.8 333.8,1593.2 334.4,1597.2 335,1600.4 335.6,1588.6 336.2,1591.3 336.8,1588.4 337.4,1595.6 338,1593.4 338.5,1594.9 339.1,1594 339.7,1587.9 340.3,1592.8 340.9,1586.4 341.5,1586.1 342.1,1576.8 342.6,1594.7 343.2,1582.2 343.8,1587.1 344.4,1586.4 345,1593.8 345.6,1588.1 346.2,1581.4 346.8,1585.5 347.4,1584.3 347.9,1586 348.5,1577.9 349.1,1583.9 349.7,1595.3 350.3,1586.9 350.9,1593.4 351.5,1600 352.1,1585.1 352.6,1574.9 353.2,1581.4 353.8,1587.7 354.4,1586.1 355,1574.7 355.6,1579.6 356.2,1579.9 356.8,1580.2 357.3,1579.4 357.9,1575 358.5,1576.1 359.1,1577.6 359.7,1584.1 360.3,1575.4 360.9,1581.5 361.5,1571.7 362,1584.1 362.6,1577.7 363.2,1576.7 363.8,1583.4 364.4,1566.7 365,1567.8 365.6,1577.7 366.1,1570.7 366.7,1572.4 367.3,1587.9 367.9,1572.1 368.5,1573.3 369.1,1572.1 369.7,1577.8 370.3,1572.9 370.9,1571.9 371.4,1564.1 372,1568.1 372.6,1569.4 373.2,1560.6 373.8,1571.2 374.4,1569.8 375,1576.9 375.6,1558.2 376.1,1560.9 376.7,1560.6 377.3,1561.4 377.9,1563.9 378.5,1562.8 379.1,1564.7 379.7,1563.9 380.2,1562 380.8,1553.7 381.4,1558.3 382,1561.1 382.6,1563.3 383.2,1563.2 383.8,1550.7 384.4,1556.1 385,1558 385.5,1559.8 386.1,1563.5 386.7,1557.5 387.3,1552.1 387.9,1558.5 388.5,1557.3 389.1,1556.9 389.6,1554.8 390.2,1563.6 390.8,1556.1 391.4,1559.1 392,1549.5 392.6,1558 393.2,1550.5 393.8,1545.2 394.4,1554.7 394.9,1556 395.5,1551.5 396.1,1552.2 396.7,1557.2 397.3,1549.1 397.9,1540.5 398.5,1552.3 399.1,1551.7 399.6,1555.8 400.2,1548.2 400.8,1556.2 401.4,1555.1 402,1541.9 402.6,1553.2 403.2,1542.2 403.8,1539.4 404.3,1545.8 404.9,1543.7 405.5,1535.8 406.1,1546.9 406.7,1548.5 407.3,1552.1 407.9,1544.1 408.5,1536 409,1538.2 409.6,1547.9 410.2,1547 410.8,1544.6 411.4,1539.8 412,1542 412.6,1539.2 413.1,1538.3 413.7,1541 414.3,1539.2 414.9,1537.4 415.5,1538.5 416.1,1534.9 416.7,1527.1 417.3,1533.5 417.9,1535.9 418.4,1544.8 419,1533.3 419.6,1545.3 420.2,1542 420.8,1529.5 421.4,1529.8 422,1534 422.6,1541.9 423.1,1534.4 423.7,1535.6 424.3,1528.2 424.9,1519.2 425.5,1529.7 426.1,1534.7 426.7,1536.5 427.2,1530.2 427.8,1530.5 428.4,1535.4 429,1528.3 429.6,1534.8 430.2,1522.4 430.8,1522.3 431.4,1521.9 432,1529.9 432.5,1524.3 433.1,1527.5 433.7,1528.5 434.3,1527.9 434.9,1532.7 435.5,1533.2 436.1,1520.8 436.6,1525.7 437.2,1523.2 437.8,1518.6 438.4,1532.8 439,1527.4 439.6,1521.8 440.2,1520.2 440.8,1523.9 441.4,1515.9 441.9,1519.8 442.5,1527 443.1,1525 443.7,1515.2 444.3,1516.5 444.9,1528.7 445.5,1510.8 446.1,1514.2 446.6,1509.7 447.2,1518.4 447.8,1517.4 448.4,1521.3 449,1501.1 449.6,1515.1 450.2,1505.1 450.8,1516.5 451.3,1511.5 451.9,1520.8 452.5,1513.3 453.1,1505.4 453.7,1516.7 454.3,1503.7 454.9,1507 455.5,1513.8 456,1510.3 456.6,1509.5 457.2,1506.7 457.8,1508.7 458.4,1509.7 459,1506.3 459.6,1509.6 460.2,1510.4 460.7,1503.3 461.3,1497.7 461.9,1510.1 462.5,1501.4 463.1,1504.5 463.7,1505.8 464.3,1495.5 464.9,1502.5 465.4,1491.3 466,1503.1 466.6,1496.4 467.2,1499.4 467.8,1501.8 468.4,1494.3 469,1497.9 469.6,1493.6 470.1,1496.7 470.7,1502 471.3,1496.4 471.9,1495.3 472.5,1490.1 473.1,1499.8 473.7,1494.9 474.2,1503.7 474.8,1490.7 475.4,1499.7 476,1503.3 476.6,1493.7 477.2,1487.2 477.8,1501.1 478.4,1498.5 478.9,1496.3 479.5,1498.1 480.1,1489.8 480.7,1495.8 481.3,1495.1 481.9,1487.8 482.5,1494.6 483.1,1487.9 483.7,1495.1 484.2,1496 484.8,1498.9 485.4,1478.7 486,1490 486.6,1486.5 487.2,1487.5 487.8,1486 488.4,1486.1 488.9,1475.7 489.5,1490.9 490.1,1493.2 490.7,1489.7 491.3,1490.9 491.9,1479.1 492.5,1478.2 493.1,1487.1 493.6,1488.8 494.2,1482.6 494.8,1472.6 495.4,1494.5 496,1475.9 496.6,1483.8 497.2,1471.8 497.8,1482.5 498.3,1477.6 498.9,1483.4 499.5,1479.9 500.1,1466.6 500.7,1468.9 501.3,1474.8 501.9,1476.6 502.4,1481.4 503,1472.8 503.6,1470.2 504.2,1469.8 504.8,1469.2 505.4,1474.1 506,1467.8 506.6,1467.1 507.2,1459.3 507.7,1455.7 508.3,1465.8 508.9,1468.6 509.5,1464.3 510.1,1466.7 510.7,1466.9 511.3,1462.8 511.9,1467.6 512.4,1458.3 513,1461.7 513.6,1459.4 514.2,1461.4 514.8,1463.9 515.4,1464.8 516,1460.7 516.5,1462.1 517.1,1457.6 517.7,1458.6 518.3,1465.6 518.9,1457.7 519.5,1465.1 520.1,1461 520.7,1459 521.2,1468.3 521.8,1456.6 522.4,1456 523,1457.5 523.6,1458.7 524.2,1458.3 524.8,1461.3 525.4,1457.3 526,1458.6 526.5,1455 527.1,1461.7 527.7,1453.8 528.3,1454 528.9,1455.3 529.5,1456.7 530.1,1451.1 530.7,1462.7 531.2,1451 531.8,1451.9 532.4,1451.4 533,1450.5 533.6,1455.7 534.2,1453.3 534.8,1448.2 535.4,1448.9 535.9,1449.7 536.5,1458.5 537.1,1447.2 537.7,1443.4 538.3,1443.8 538.9,1447.6 539.5,1456.7 540,1442.9 540.6,1448.3 541.2,1460.7 541.8,1444.7 542.4,1454.2 543,1452.8 543.6,1448.8 544.2,1438.1 544.8,1446.5 545.3,1442.6 545.9,1434.3 546.5,1434.7 547.1,1443.3 547.7,1443.6 548.3,1448.7 548.9,1445.2 549.5,1438.8 550,1438.5 550.6,1439.6 551.2,1434.5 551.8,1443.6 552.4,1439.3 553,1434.8 553.6,1435.2 554.2,1432.2 554.7,1435.5 555.3,1439 555.9,1435 556.5,1442 557.1,1445.1 557.7,1432.9 558.3,1436 558.9,1433.7 559.4,1444.1 560,1436.7 560.6,1437.6 561.2,1438.6 561.8,1445.7 562.4,1435.1 563,1428.1 563.5,1430.5 564.1,1435.3 564.7,1431.8 565.3,1427.2 565.9,1445.6 566.5,1431 567.1,1426.9 567.7,1425.7 568.2,1419.7 568.8,1422.2 569.4,1426.1 570,1425.6 570.6,1422.4 571.2,1428.9 571.8,1425.6 572.4,1419.9 573,1413.6 573.5,1424.3 574.1,1423 574.7,1421 575.3,1414.2 575.9,1420.8 576.5,1412.1 577.1,1424.4 577.7,1419.5 578.2,1418.9 578.8,1412.9 579.4,1410.8 580,1423.8 580.6,1419.9 581.2,1412.4 581.8,1417.1 582.4,1421 582.9,1406.6 583.5,1408.8 584.1,1408.2 584.7,1412.7 585.3,1404 585.9,1410.2 586.5,1402.5 587,1412.6 587.6,1411.8 588.2,1405.5 588.8,1409.9 589.4,1402 590,1403.7 590.6,1409.6 591.2,1403.8 591.8,1405.7 592.3,1398.5 592.9,1406.4 593.5,1405 594.1,1395.8 594.7,1390 595.3,1391 595.9,1401.1 596.5,1400 597,1392.7 597.6,1401.3 598.2,1405.6 598.8,1399.6 599.4,1397.6 600,1404.2 600.6,1408.4 601.2,1407 601.7,1395.6 602.3,1403 602.9,1399.4 603.5,1397.3 604.1,1394.9 604.7,1399.7 605.3,1395 605.9,1402.1 606.4,1399 607,1402.2 607.6,1390.3 608.2,1396.2 608.8,1399.6 609.4,1397.2 610,1396.1 610.5,1390.8 611.1,1402.6 611.7,1399.2 612.3,1395.2 612.9,1379.2 613.5,1387.1 614.1,1392.3 614.7,1387.4 615.2,1379.6 615.8,1391.3 616.4,1391.5 617,1382.4 617.6,1385.7 618.2,1384.1 618.8,1389.8 619.4,1376.2 620,1376.7 620.5,1382.2 621.1,1380.9 621.7,1394.8 622.3,1379.9 622.9,1383.7 623.5,1379.7 624.1,1377.7 624.7,1382.6 625.2,1389.1 625.8,1377.5 626.4,1382.8 627,1379.9 627.6,1380.8 628.2,1378.7 628.8,1388.7 629.4,1369.2 629.9,1373.7 630.5,1368.6 631.1,1363.3 631.7,1373.2 632.3,1382.4 632.9,1377 633.5,1378.2 634,1373.9 634.6,1370.2 635.2,1380.9 635.8,1367.8 636.4,1377.3 637,1367.1 637.6,1368.8 638.2,1369.5 638.8,1367.7 639.3,1369.8 639.9,1369.8 640.5,1375.1 641.1,1365.8 641.7,1355.3 642.3,1354.2 642.9,1357.3 643.5,1360.2 644,1367.2 644.6,1355.4 645.2,1363.1 645.8,1362.7 646.4,1363.5 647,1361.1 647.6,1363.5 648.2,1361.2 648.7,1366.1 649.3,1361.9 649.9,1347.3 650.5,1359.5 651.1,1360 651.7,1355.4 652.3,1354.1 652.9,1363.4 653.4,1358.1 654,1351.7 654.6,1354.7 655.2,1355 655.8,1346.9 656.4,1358.4 657,1353.8 657.5,1356.5 658.1,1345.2 658.7,1363.1 659.3,1355.8 659.9,1354.5 660.5,1347.5 661.1,1347.3 661.7,1342.5 662.2,1357.8 662.8,1344.8 663.4,1349.8 664,1351.2 664.6,1344.2 665.2,1351.4 665.8,1357 666.4,1347.2 667,1352.7 667.5,1347.5 668.1,1341.4 668.7,1341.1 669.3,1333.7 669.9,1342.7 670.5,1349.3 671.1,1344.5 671.7,1344.8 672.2,1345.9 672.8,1336.5 673.4,1341.7 674,1348.3 674.6,1333.5 675.2,1337.3 675.8,1334.3 676.4,1335.1 676.9,1331.8 677.5,1334.5 678.1,1327.6 678.7,1331.4 679.3,1331.1 679.9,1330.5 680.5,1340 681,1332.6 681.6,1332.6 682.2,1329.6 682.8,1337.5 683.4,1321 684,1328.7 684.6,1335.3 685.2,1337.5 685.8,1329.4 686.3,1328 686.9,1330.9 687.5,1326.2 688.1,1329.7 688.7,1322.9 689.3,1329.4 689.9,1325.4 690.5,1319.6 691,1310.7 691.6,1329.5 692.2,1326.3 692.8,1328 693.4,1319 694,1329 694.6,1325.2 695.2,1322.5 695.7,1327.2 696.3,1326.8 696.9,1324 697.5,1332.4 698.1,1328.6 698.7,1322.7 699.3,1319.4 699.9,1320.9 700.4,1329.1 701,1321.8 701.6,1314.7 702.2,1315.7 702.8,1318.8 703.4,1322.8 704,1314.3 704.5,1320.4 705.1,1323.2 705.7,1320.9 706.3,1308.5 706.9,1314.7 707.5,1309.3 708.1,1317.7 708.7,1309.8 709.2,1317.6 709.8,1314.9 710.4,1300.3 711,1309.1 711.6,1315.5 712.2,1312.8 712.8,1310.1 713.4,1304.9 714,1313.5 714.5,1319.7 715.1,1311.3 715.7,1309.2 716.3,1308.1 716.9,1301 717.5,1305.8 718.1,1302.5 718.6,1312.1 719.2,1300.8 719.8,1293.6 720.4,1300 721,1302 721.6,1301.9 722.2,1292.4 722.8,1306.2 723.4,1301.2 723.9,1297.4 724.5,1295.2 725.1,1300.8 725.7,1296.1 726.3,1298.5 726.9,1295.7 727.5,1296.4 728.1,1301.2 728.6,1294.5 729.2,1289.1 729.8,1298.3 730.4,1293.8 731,1288.4 731.6,1297.1 732.2,1289.8 732.8,1295.9 733.3,1283.6 733.9,1276.7 734.5,1277.7 735.1,1289.1 735.7,1283.4 736.3,1286.2 736.9,1285.7 737.5,1277.4 738,1292.2 738.6,1278.9 739.2,1284.2 739.8,1275.8 740.4,1281.8 741,1285.8 741.6,1280.1 742.1,1277.1 742.7,1280.3 743.3,1277.2 743.9,1282.1 744.5,1290.1 745.1,1273.3 745.7,1273.8 746.3,1276.1 746.9,1275.9 747.4,1270.1 748,1277.5 748.6,1278.2 749.2,1274.9 749.8,1266.9 750.4,1280.1 751,1265.6 751.6,1274.8 752.1,1276.7 752.7,1263.4 753.3,1270.1 753.9,1275.9 754.5,1270.3 755.1,1262.8 755.7,1260.8 756.2,1268.9 756.8,1263.8 757.4,1261.6 758,1268.3 758.6,1262.4 759.2,1263.9 759.8,1266 760.4,1265.2 761,1261.7 761.5,1261.4 762.1,1264 762.7,1262.8 763.3,1254.1 763.9,1258.4 764.5,1254.3 765.1,1252.2 765.6,1255 766.2,1245.5 766.8,1261.7 767.4,1252.5 768,1258.1 768.6,1246 769.2,1246.4 769.8,1265.6 770.4,1259.9 770.9,1250.7 771.5,1249.7 772.1,1249.6 772.7,1253.5 773.3,1250.3 773.9,1248.8 774.5,1252.3 775.1,1246 775.6,1263.2 776.2,1247.3 776.8,1255.8 777.4,1244.7 778,1250.7 778.6,1253.8 779.2,1246.6 779.8,1253 780.3,1252.6 780.9,1255.6 781.5,1246.9 782.1,1243.7 782.7,1240.4 783.3,1246.2 783.9,1239.3 784.5,1244.4 785,1244.5 785.6,1240.5 786.2,1237.4 786.8,1244.4 787.4,1243.4 788,1242.5 788.6,1240.7 789.1,1245.4 789.7,1234.5 790.3,1241.7 790.9,1236.5 791.5,1242.8 792.1,1235.9 792.7,1235.2 793.3,1239 793.9,1225.4 794.4,1233.7 795,1225.6 795.6,1229.4 796.2,1237.5 796.8,1235.4 797.4,1230.5 798,1231.9 798.6,1231.4 799.1,1232.6 799.7,1240.2 800.3,1231.1 800.9,1241.2 801.5,1226.8 802.1,1232.1 802.7,1231.5 803.2,1228.2 803.8,1225 804.4,1233.6 805,1234.7 805.6,1230.5 806.2,1235.1 806.8,1228.8 807.4,1214.6 808,1228.2 808.5,1218.5 809.1,1228.7 809.7,1219.2 810.3,1222 810.9,1220 811.5,1216.1 812.1,1209.2 812.6,1217 813.2,1216.8 813.8,1222.1 814.4,1213.2 815,1217.1 815.6,1210.8 816.2,1214.9 816.8,1204.7 817.4,1224.1 817.9,1214.5 818.5,1207.6 819.1,1213.6 819.7,1215.4 820.3,1211.9 820.9,1217.3 821.5,1208.7 822.1,1195.6 822.6,1201.9 823.2,1213.4 823.8,1211.5 824.4,1208.3 825,1200.2 825.6,1209.3 826.2,1207.9 826.8,1198.9 827.3,1198.4 827.9,1204.4 828.5,1207.7 829.1,1209.4 829.7,1204.3 830.3,1211.9 830.9,1195.4 831.5,1202.2 832,1195.7 832.6,1187.8 833.2,1191 833.8,1202.9 834.4,1191.6 835,1189.6 835.6,1199.3 836.1,1200 836.7,1195.1 837.3,1202.7 837.9,1185.9 838.5,1206.3 839.1,1199 839.7,1194.2 840.3,1193.7 840.9,1191.3 841.4,1190.5 842,1192.9 842.6,1185.4 843.2,1202.7 843.8,1191.1 844.4,1194.7 845,1190 845.6,1189.3 846.1,1195.2 846.7,1193.5 847.3,1185.7 847.9,1187.9 848.5,1193.2 849.1,1178.4 849.7,1176.8 850.2,1196.7 850.8,1187.1 851.4,1175 852,1184 852.6,1186.7 853.2,1188.8 853.8,1190.3 854.4,1188.2 855,1189.7 855.5,1182.4 856.1,1188.2 856.7,1188 857.3,1191.7 857.9,1185.1 858.5,1189.2 859.1,1185 859.6,1177.9 860.2,1181.1 860.8,1179.8 861.4,1180.1 862,1181.1 862.6,1181.5 863.2,1181.9 863.8,1175.7 864.4,1184.9 864.9,1171.4 865.5,1177.8 866.1,1181.4 866.7,1179.4 867.3,1179.8 867.9,1174.7 868.5,1178.8 869.1,1168.2 869.6,1177.9 870.2,1185.3 870.8,1176.5 871.4,1182.8 872,1171.7 872.6,1165.2 873.2,1166.9 873.8,1177 874.3,1173.4 874.9,1159.3 875.5,1166.6 876.1,1167.8 876.7,1161.7 877.3,1153.8 877.9,1159.5 878.5,1165.3 879,1163.7 879.6,1161.8 880.2,1168 880.8,1169.9 881.4,1163.6 882,1168.5 882.6,1163.4 883.1,1162.2 883.7,1149.7 884.3,1166.4 884.9,1162.1 885.5,1162 886.1,1158.3 886.7,1154.7 887.3,1162.5 887.9,1163.8 888.4,1167.8 889,1163.5 889.6,1155.2 890.2,1157.4 890.8,1162.6 891.4,1158.8 892,1156.1 892.6,1153.2 893.1,1158.6 893.7,1156.3 894.3,1164.3 894.9,1160.2 895.5,1144.9 896.1,1164.8 896.7,1154.4 897.2,1151 897.8,1153.6 898.4,1155.4 899,1150.9 899.6,1150.1 900.2,1150 900.8,1159 901.4,1149.2 902,1152.5 902.5,1150.3 903.1,1145.5 903.7,1142.7 904.3,1140.8 904.9,1147.6 905.5,1139.4 906.1,1137.5 906.6,1137.1 907.2,1135.1 907.8,1142.7 908.4,1142.2 909,1136.2 909.6,1147.3 910.2,1138.2 910.8,1141.5 911.4,1140 911.9,1146.7 912.5,1141.5 913.1,1136.2 913.7,1130.7 914.3,1129.4 914.9,1134.5 915.5,1134.4 916.1,1137.2 916.6,1129.9 917.2,1132.7 917.8,1127.5 918.4,1120.7 919,1129.6 919.6,1136.8 920.2,1132.7 920.8,1135.2 921.3,1133.2 921.9,1119.1 922.5,1124.2 923.1,1132.9 923.7,1120.7 924.3,1116.8 924.9,1124.8 925.5,1125.9 926,1123.4 926.6,1119.5 927.2,1117 927.8,1113.4 928.4,1112.7 929,1112.3 929.6,1110.8 930.1,1114 930.7,1125.2 931.3,1117.2 931.9,1114.3 932.5,1117.5 933.1,1110.2 933.7,1116.5 934.3,1119.1 934.9,1106.1 935.4,1109.8 936,1111.9 936.6,1107.7 937.2,1106.7 937.8,1110.2 938.4,1124.9 939,1115 939.6,1113.5 940.1,1116 940.7,1109.4 941.3,1103.7 941.9,1112.4 942.5,1115.5 943.1,1098.3 943.7,1111.2 944.2,1115.1 944.8,1106.9 945.4,1105.6 946,1111.3 946.6,1102.9 947.2,1109.4 947.8,1111.4 948.4,1105.2 949,1101.6 949.5,1108.8 950.1,1103.3 950.7,1105.1 951.3,1089.1 951.9,1107.6 952.5,1096 953.1,1103.2 953.6,1103.2 954.2,1098.2 954.8,1096.8 955.4,1094.3 956,1098.9 956.6,1103.3 957.2,1102.5 957.8,1096.3 958.4,1095.4 958.9,1090.5 959.5,1095.2 960.1,1091.1 960.7,1088.1 961.3,1094.8 961.9,1103 962.5,1100.8 963.1,1101.6 963.6,1084.8 964.2,1097.2 964.8,1085.5 965.4,1088.4 966,1081.8 966.6,1085 967.2,1090.3 967.8,1090.3 968.3,1088.2 968.9,1087.1 969.5,1090.3 970.1,1087.1 970.7,1077.7 971.3,1094.8 971.9,1083.8 972.5,1089.4 973,1083 973.6,1078.9 974.2,1083.1 974.8,1078.1 975.4,1090.2 976,1075.2 976.6,1083.7 977.1,1076.6 977.7,1078.4 978.3,1092.6 978.9,1082.2 979.5,1076.4 980.1,1068.7 980.7,1074.8 981.3,1074.4 981.9,1082.8 982.4,1067 983,1064.4 983.6,1073.3 984.2,1074.1 984.8,1081 985.4,1067.1 986,1056.8 986.6,1066.9 987.1,1063.5 987.7,1066.9 988.3,1074.5 988.9,1061.6 989.5,1074.9 990.1,1069 990.7,1065.9 991.2,1062.2 991.8,1064.2 992.4,1063.9 993,1069.7 993.6,1072 994.2,1064.4 994.8,1068.1 995.4,1070.9 996,1070.3 996.5,1065.7 997.1,1072.6 997.7,1069.5 998.3,1070.7 998.9,1060.6 999.5,1059 1000.1,1050.1 1000.6,1068.5 1001.2,1063.7 1001.8,1054.8 1002.4,1060.5 1003,1060.7 1003.6,1049.5 1004.2,1060.1 1004.8,1064.1 1005.4,1064.6 1005.9,1055.4 1006.5,1055.2 1007.1,1063.7 1007.7,1061.3 1008.3,1052.7 1008.9,1052.1 1009.5,1058.2 1010.1,1051 1010.6,1050.8 1011.2,1063 1011.8,1054.6 1012.4,1050.3 1013,1055 1013.6,1062.9 1014.2,1052.5 1014.8,1046.4 1015.3,1041.4 1015.9,1061.1 1016.5,1034.9 1017.1,1054.3 1017.7,1042.7 1018.3,1040.6 1018.9,1041.5 1019.5,1045.4 1020,1051.9 1020.6,1041.8 1021.2,1048.5 1021.8,1057.7 1022.4,1028.5 1023,1039.4 1023.6,1032.9 1024.2,1047.1 1024.7,1033.8 1025.3,1032.7 1025.9,1032.4 1026.5,1040.4 1027.1,1046.2 1027.7,1040.3 1028.3,1050.6 1028.8,1047.5 1029.4,1037.4 1030,1042.7 1030.6,1037.8 1031.2,1036.9 1031.8,1025.5 1032.4,1028.4 1033,1035 1033.6,1027.8 1034.1,1037.9 1034.7,1034.9 1035.3,1027.7 1035.9,1038.6 1036.5,1032.9 1037.1,1037.9 1037.7,1029.6 1038.2,1020.9 1038.8,1033.1 1039.4,1027.2 1040,1032.7 1040.6,1033.4 1041.2,1033.3 1041.8,1018.2 1042.4,1012.8 1043,1022.2 1043.5,1028 1044.1,1019.7 1044.7,1024.6 1045.3,1017.9 1045.9,1019.9 1046.5,1019.3 1047.1,1016.8 1047.7,1022.5 1048.2,1020.9 1048.8,1027.2 1049.4,1019.7 1050,1024.2 1050.6,1016.7 1051.2,1020.4 1051.8,1014 1052.3,1011.5 1052.9,1020.8 1053.5,1016.9 1054.1,1017 1054.7,1007.3 1055.3,1001.6 1055.9,1005.6 1056.5,1011.5 1057.1,1001.2 1057.6,1016.6 1058.2,1000 1058.8,1011.1 1059.4,1022 1060,992.5 1060.6,997.8 1061.2,1011.4 1061.8,1004.6 1062.3,1006.2 1062.9,1004.2 1063.5,1012.3 1064.1,1007.7 1064.7,1001.2 1065.3,1002.2 1065.9,996.6 1066.5,1002.3 1067,989.9 1067.6,1006 1068.2,1000.4 1068.8,1011.7 1069.4,1007.9 1070,993.7 1070.6,1005.5 1071.2,997.3 1071.7,1000.1 1072.3,1005 1072.9,1000.9 1073.5,1001.4 1074.1,1000.8 1074.7,993.7 1075.3,993.8 1075.8,999.9 1076.4,1001.2 1077,994.3 1077.6,995.9 1078.2,989.3 1078.8,980.1 1079.4,989.2 1080,993.4 1080.6,993.5 1081.1,996.6 1081.7,996.3 1082.3,996.2 1082.9,992.3 1083.5,991.9 1084.1,984.9 1084.7,990.4 1085.2,988.6 1085.8,993.4 1086.4,977.4 1087,982.8 1087.6,975.2 1088.2,979.8 1088.8,975.3 1089.4,983.9 1090,977.9 1090.5,966.5 1091.1,986.8 1091.7,973.2 1092.3,969.7 1092.9,975.7 1093.5,973.2 1094.1,969.7 1094.7,979.4 1095.2,972.9 1095.8,979.1 1096.4,977.4 1097,976.4 1097.6,973.1 1098.2,970.9 1098.8,968.6 1099.3,978.2 1099.9,959 1100.5,962.9 1101.1,964.6 1101.7,970 1102.3,968 1102.9,963.9 1103.5,964.1 1104.1,975 1104.6,961.2 1105.2,948.8 1105.8,974.4 1106.4,958.3 1107,961.2 1107.6,963.4 1108.2,954.7 1108.8,968.3 1109.3,960.4 1109.9,952.8 1110.5,961.5 1111.1,962.2 1111.7,958.8 1112.3,961.5 1112.9,950 1113.5,963.1 1114,952.8 1114.6,964 1115.2,953 1115.8,956.8 1116.4,969.9 1117,955.2 1117.6,960.5 1118.2,956.6 1118.7,945.1 1119.3,959.2 1119.9,958.4 1120.5,944 1121.1,950.8 1121.7,942.4 1122.3,948.5 1122.8,954.6 1123.4,949.5 1124,941.8 1124.6,942.8 1125.2,947.4 1125.8,946.5 1126.4,946.8 1127,948.8 1127.6,934.4 1128.1,944.4 1128.7,950 1129.3,945.9 1129.9,938.7 1130.5,938.6 1131.1,942.3 1131.7,944.7 1132.2,940.4 1132.8,949.2 1133.4,946.7 1134,934.6 1134.6,941.2 1135.2,936 1135.8,931 1136.4,933.7 1137,936.7 1137.5,924.7 1138.1,932.4 1138.7,937.7 1139.3,931.3 1139.9,932.8 1140.5,939.5 1141.1,934.1 1141.7,935.1 1142.2,944.7 1142.8,934.6 1143.4,934.9 1144,935.5 1144.6,941.9 1145.2,934.6 1145.8,932.6 1146.3,931.6 1146.9,938.1 1147.5,928.1 1148.1,938 1148.7,932.3 1149.3,923.6 1149.9,934.3 1150.5,933 1151.1,924 1151.6,931.7 1152.2,930.9 1152.8,927.7 1153.4,922.7 1154,940.2 1154.6,932.3 1155.2,932.8 1155.8,932.8 1156.3,931.1 1156.9,930.5 1157.5,923.8 1158.1,929.8 1158.7,923.7 1159.3,921.7 1159.9,927.4 1160.5,922.1 1161,913.3 1161.6,919.9 1162.2,924.6 1162.8,920.9 1163.4,925 1164,917.9 1164.6,914.1 1165.2,922.7 1165.7,918.8 1166.3,911 1166.9,919.2 1167.5,914.8 1168.1,920.9 1168.7,919.1 1169.3,916.8 1169.8,901.8 1170.4,915 1171,915 1171.6,914.6 1172.2,911.8 1172.8,906.8 1173.4,908.6 1174,898 1174.6,907.2 1175.1,899.9 1175.7,905.5 1176.3,903.1 1176.9,913.4 1177.5,905.7 1178.1,904.7 1178.7,905 1179.2,914.6 1179.8,897.7 1180.4,903.8 1181,903.5 1181.6,901.9 1182.2,901.1 1182.8,897.1 1183.4,905.4 1184,903 1184.5,895.8 1185.1,896 1185.7,898.2 1186.3,898.6 1186.9,899.4 1187.5,894.6 1188.1,887.4 1188.7,898.8 1189.2,884.3 1189.8,887.4 1190.4,893.7 1191,886.5 1191.6,897.9 1192.2,898.7 1192.8,895.8 1193.3,890.4 1193.9,889.4 1194.5,889.8 1195.1,885.9 1195.7,897.3 1196.3,882.6 1196.9,892.3 1197.5,887.7 1198.1,885.9 1198.6,889.3 1199.2,889.9 1199.8,887.4 1200.4,881.6 1201,877.9 1201.6,877.5 1202.2,885.3 1202.8,883.7 1203.3,883.9 1203.9,876.1 1204.5,888.9 1205.1,870.8 1205.7,879.5 1206.3,880.6 1206.9,874.1 1207.5,869.9 1208,873.1 1208.6,868.7 1209.2,873.1 1209.8,866.7 1210.4,866.1 1211,872.8 1211.6,864 1212.2,870.3 1212.7,870.2 1213.3,875 1213.9,871.1 1214.5,864.8 1215.1,875.4 1215.7,864.4 1216.3,865.4 1216.8,865.2 1217.4,878 1218,866.1 1218.6,861.5 1219.2,868.5 1219.8,863.3 1220.4,876 1221,859.1 1221.6,865.6 1222.1,856.8 1222.7,870.8 1223.3,856.6 1223.9,861 1224.5,854.8 1225.1,863.5 1225.7,861.3 1226.2,845.4 1226.8,861.2 1227.4,859.9 1228,857 1228.6,860.4 1229.2,848 1229.8,844.6 1230.4,857 1231,861.9 1231.5,845.8 1232.1,845.6 1232.7,846.6 1233.3,844.2 1233.9,854.6 1234.5,850.3 1235.1,856.3 1235.7,856 1236.2,842.7 1236.8,851.1 1237.4,834.8 1238,846.2 1238.6,849.6 1239.2,841.5 1239.8,835.7 1240.4,842.4 1240.9,851.1 1241.5,842.2 1242.1,836.5 1242.7,846.1 1243.3,847.2 1243.9,837.3 1244.5,841.6 1245,847.8 1245.6,843.6 1246.2,845.2 1246.8,839.2 1247.4,839.8 1248,833.8 1248.6,835.8 1249.2,847.6 1249.8,836.6 1250.3,833.6 1250.9,835.5 1251.5,832 1252.1,840 1252.7,841.7 1253.3,831.1 1253.9,841.3 1254.5,846.7 1255,829.1 1255.6,838 1256.2,835.2 1256.8,840.5 1257.4,839.6 1258,838.1 1258.6,833.3 1259.2,828.8 1259.7,842.5 1260.3,825.6 1260.9,835.3 1261.5,834.1 1262.1,824.2 1262.7,827.7 1263.3,834.9 1263.9,816.2 1264.4,830.1 1265,823.6 1265.6,823.3 1266.2,816.2 1266.8,825.6 1267.4,817.2 1268,826 1268.5,815.5 1269.1,825 1269.7,822.3 1270.3,809.6 1270.9,817.5 1271.5,818.1 1272.1,806.1 1272.7,815.6 1273.2,821.4 1273.8,812.5 1274.4,822.2 1275,809.3 1275.6,808.3 1276.2,817.3 1276.8,817.1 1277.4,812.2 1278,812.5 1278.5,817.3 1279.1,808.5 1279.7,821.9 1280.3,812.7 1280.9,812 1281.5,810.7 1282.1,807.1 1282.7,814.7 1283.2,804.4 1283.8,807.9 1284.4,809.8 1285,813.1 1285.6,811.5 1286.2,802.7 1286.8,809.2 1287.4,803.1 1287.9,797.2 1288.5,796.8 1289.1,793.3 1289.7,802.7 1290.3,806.4 1290.9,794.5 1291.5,797.7 1292,792.8 1292.6,798.2 1293.2,791.3 1293.8,792.6 1294.4,792.8 1295,793.4 1295.6,793.5 1296.2,793.8 1296.8,793.4 1297.3,788.8 1297.9,796.4 1298.5,783.8 1299.1,793.2 1299.7,786.9 1300.3,792.2 1300.9,792.6 1301.5,780 1302,792.1 1302.6,796.9 1303.2,793.4 1303.8,790.9 1304.4,777.3 1305,787.3 1305.6,783 1306.2,793 1306.7,785.3 1307.3,783.2 1307.9,776.7 1308.5,789.6 1309.1,782.3 1309.7,783.4 1310.3,790.1 1310.9,784.2 1311.4,785.1 1312,795.6 1312.6,779.5 1313.2,779.3 1313.8,784 1314.4,788.3 1315,772.7 1315.5,778.6 1316.1,774 1316.7,771.3 1317.3,781 1317.9,773.2 1318.5,778.2 1319.1,776.6 1319.7,776.1 1320.2,775 1320.8,768.3 1321.4,772.9 1322,773.7 1322.6,773.6 1323.2,769.5 1323.8,775.4 1324.4,772.6 1325,769.4 1325.5,771.4 1326.1,768.2 1326.7,770.1 1327.3,755.3 1327.9,758.1 1328.5,762.1 1329.1,764 1329.7,751.2 1330.2,760.5 1330.8,762 1331.4,759.2 1332,758.5 1332.6,751.9 1333.2,758.9 1333.8,746.9 1334.4,762.2 1334.9,753.1 1335.5,761.6 1336.1,745.9 1336.7,756.8 1337.3,754.7 1337.9,748.9 1338.5,746.6 1339,758.7 1339.6,754 1340.2,759 1340.8,750.3 1341.4,751 1342,751.8 1342.6,753 1343.2,750.9 1343.8,752.2 1344.3,744.8 1344.9,739 1345.5,756.9 1346.1,746.6 1346.7,747.7 1347.3,742.3 1347.9,749.5 1348.5,744.6 1349,748.8 1349.6,738.9 1350.2,741.5 1350.8,742.4 1351.4,738.9 1352,741.6 1352.6,748 1353.2,735.9 1353.7,737 1354.3,738.7 1354.9,732 1355.5,730.2 1356.1,741.9 1356.7,739.6 1357.3,726.6 1357.9,726.6 1358.4,737.5 1359,739.3 1359.6,735.7 1360.2,734.3 1360.8,739.5 1361.4,730.2 1362,736.5 1362.5,735.5 1363.1,723.5 1363.7,731.4 1364.3,727.5 1364.9,723.1 1365.5,721.4 1366.1,727 1366.7,724.3 1367.2,728.3 1367.8,713.9 1368.4,719.2 1369,728 1369.6,721.5 1370.2,717.1 1370.8,717.8 1371.4,710.1 1372,712 1372.5,721.7 1373.1,718.8 1373.7,724.6 1374.3,716 1374.9,716 1375.5,701.9 1376.1,715.4 1376.7,726.7 1377.2,718.7 1377.8,714 1378.4,721 1379,718.5 1379.6,715.4 1380.2,711.2 1380.8,713.6 1381.4,717.1 1381.9,707.8 1382.5,714.6 1383.1,714 1383.7,718.4 1384.3,714.9 1384.9,706.9 1385.5,718.8 1386,710.2 1386.6,705.7 1387.2,711.2 1387.8,707.6 1388.4,714.6 1389,701.2 1389.6,702 1390.2,706.3 1390.8,716.6 1391.3,712.4 1391.9,701.2 1392.5,696.9 1393.1,704 1393.7,698.5 1394.3,708 1394.9,705.2 1395.5,703.7 1396,700.9 1396.6,710.9 1397.2,697.1 1397.8,694.5 1398.4,707.1 1399,707.6 1399.6,697.9 1400.2,702.6 1400.7,711.2 1401.3,693.5 1401.9,696.3 1402.5,699 1403.1,684.5 1403.7,694.3 1404.3,698.4 1404.9,693.1 1405.4,698.5 1406,696.3"/>
<path stroke="#000" stroke-width="2" fill="none" d="M523 890v13M386 938v13M457 970v13M369 976v13M517 1009v13M520 1030v13M370 1032v13M575 1023v13M583 1023v13M356 1123v13M435 1134v13M464 1139v13M389 1149v13M318 1160v13M302 1167v13M311 1173v13M419 1174v13M224 1180v13M560 1105v13M558 1116v13M587 1110v13M577 1124v13M543 1164v13M484 1175v13M527 1175v13M470 1188v13M519 1190v13M457 1205v13M489 1197v13M374 1228v13M397 1234v13M411 1239v13M380 1242v13M391 1246v13M319 1255v13M328 1255v13M313 1267v13M373 1265v13M407 1272v13M316 1290v13M338 1286v13M325 1301v13M348 1301v13M397 1286v13M406 1291v13M277 1328v13M304 1323v13M264 1336v13M271 1344v13M283 1345v13M208 1354v13M227 1351v13M236 1358v13M256 1357v13M267 1355v13M941 659v13M902 715v13M956 729v13M981 730v13M986 724v13M928 755v13M880 799v13M699 934v13M746 934v13M773 932v13M726 947v13M764 944v13M790 942v13M915 836v13M972 832v13M869 852v13M898 874v13M911 873v13M919 871v13M968 876v13M953 888v13M979 885v13M937 899v13M828 892v13M834 897v13M887 912v13M816 922v13M858 922v13M940 923v13M759 970v13M866 956v13M885 960v13M920 950v13M849 970v13M827 976v13M836 984v13M714 993v13M659 1013v13M734 1010v13M775 1004v13M686 1028v13M738 1031v13M769 1024v13M674 1050v13M687 1044v13M712 1052v13M720 1046v13M751 1044v13M760 1042v13M654 1073v13M660 1078v13M673 1080v13M688 1072v13M607 1095v13M626 1095v13M1241 390v13M1065 582v13M1275 469v13M1131 603v13M1012 680v13M1033 673v13M998 706v13M993 713v13M1283 491v13M1245 511v13M1373 454v13M1372 480v13M1335 493v13M1351 518v13M1371 521v13M1347 539v13M1359 536v13M1302 562v13M1312 568v13M1320 568v13M1327 566v13M1342 558v13M1360 560v13M1379 567v13M1386 574v13M1287 583v13M1282 590v13M1304 581v13M1211 590v13M1236 596v13M1219 606v13M1261 609v13M1168 615v13M1216 626v13M1207 635v13M1308 619v13M1366 591v13M1369 598v13M1374 599v13M1375 610v13M1085 656v13M1067 669v13M1124 666v13M1177 670v13M1168 682v13M1052 737v13M997 749v13M1164 702v13M1165 717v13M1137 728v13M1200 715v13M1319 223v13M1406 420v13M1403 471v13M1404 554v13M1386 571v13M1387 578v13M303 2016v13M411 1887v13M381 1900v13M344 1905v13M583 1838v13M526 1797v13M289 1933v13M276 1923v13M269 1902v13M205 1872v13M221 1865v13M331 1857v13M335 1849v13M247 1844v13M359 1827v13M433 1827v13M321 1820v13M417 1816v13M351 1811v13M447 1808v13M244 1805v13M275 1803v13M287 1799v13M322 1801v13M344 1801v13M213 1798v13M491 1794v13M309 1792v13M342 1791v13M418 1788v13M410 1783v13M210 1785v13M216 1781v13M461 1776v13M332 1772v13M342 1768v13M383 1767v13M372 1762v13M300 1755v13M323 1754v13M484 1752v13M209 1746v13M268 1746v13M275 1745v13M240 1742v13M242 1739v13M248 1738v13M223 1739v13M308 1738v13M314 1738v13M372 1739v13M497 1737v13M215 1734v13M288 1732v13M252 1731v13M412 1729v13M238 1725v13M248 1726v13M258 1726v13M266 1726v13M474 1723v13M499 1724v13M279 1719v13M219 1718v13M268 1711v13M236 1710v13M243 1714v13M213 1704v13M220 1700v13M361 1703v13M361 1695v13M308 1699v13M307 1691v13M388 1697v13M434 1694v13M497 1693v13M223 1693v13M339 1689v13M329 1684v13M283 1687v13M428 1683v13M428 1685v13M385 1680v13M476 1678v13M206 1681v13M210 1682v13M206 1686v13M218 1681v13M232 1681v13M258 1674v13M265 1674v13M271 1679v13M294 1673v13M295 1668v13M281 1660v13M351 1676v13M357 1672v13M349 1667v13M363 1660v13M406 1674v13M407 1659v13M420 1664v13M426 1664v13M430 1663v13M453 1657v13M530 1657v13M557 1660v13M317 1660v13M320 1655v13M260 1650v13M372 1648v13M377 1645v13M391 1648v13M409 1644v13M213 1644v13M233 1643v13M250 1643v13M302 1644v13M312 1644v13M470 1641v13M492 1643v13M498 1646v13M525 1638v13M335 1637v13M615 1848v13M727 1789v13M675 1719v13M651 1691v13M705 1680v13M707 1691v13M765 1679v13M715 1653v13M763 1634v13M857 1618v13M933 1649v13M855 1561v13M863 1534v13M846 1524v13M814 1541v13M951 1452v13M978 1445v13M666 1661v13M636 1646v13M666 1633v13M667 1638v13M680 1611v13M602 1614v13M606 1614v13M619 1604v13M697 1596v13M732 1592v13M623 1589v13M623 1588v13M655 1578v13M721 1577v13M702 1570v13M595 1567v13M720 1559v13M623 1560v13M719 1547v13M604 1551v13M619 1550v13M640 1544v13M593 1537v13M716 1525v13M730 1528v13M608 1512v13M732 1508v13M787 1494v13M746 1493v13M753 1489v13M679 1496v13M682 1493v13M686 1498v13M729 1482v13M804 1474v13M813 1469v13M821 1474v13M765 1468v13M802 1444v13M768 1442v13M868 1429v13M908 1418v13M843 1408v13M867 1409v13M884 1401v13M920 1393v13M801 1410v13M804 1403v13M884 1394v13M871 1387v13M898 1385v13M949 1377v13M961 1370v13M986 1370v13M901 1376v13M895 1366v13M882 1377v13M846 1380v13M860 1379v13M1134 1507v13M1008 1408v13M1023 1388v13M1090 1391v13M1079 1377v13M1114 1374v13M1191 1349v13M1191 1284v13M1198 1272v13M1181 1266v13M1142 1275v13M1156 1247v13M1183 1243v13M1219 1246v13M1235 1245v13M1216 1213v13M1184 1216v13M1297 1235v13M1310 1224v13M1321 1211v13M1385 1220v13M1373 1170v13M1372 1145v13M1368 1126v13M1379 1115v13M1384 1059v13M1282 1144v13M1293 1136v13M1313 1109v13M1284 1119v13M1003 1363v13M994 1330v13M1016 1316v13M1067 1309v13M1069 1305v13M1007 1301v13M1030 1302v13M1049 1292v13M1062 1291v13M1008 1288v13M1009 1287v13M1083 1281v13M1029 1277v13M1036 1283v13M1046 1272v13M1089 1266v13M1094 1268v13M1030 1266v13M1096 1256v13M1024 1253v13M1032 1253v13M1065 1250v13M1092 1245v13M1019 1243v13M1045 1241v13M991 1247v13M1099 1232v13M1107 1232v13M1029 1232v13M1045 1225v13M997 1227v13M997 1232v13M1102 1219v13M1129 1217v13M1005 1210v13M1017 1208v13M1023 1210v13M1029 1203v13M1070 1203v13M1089 1197v13M1161 1207v13M1172 1197v13M1017 1193v13M1048 1187v13M1075 1185v13M1123 1185v13M1036 1176v13M1167 1171v13M1060 1164v13M1068 1169v13M1073 1173v13M1081 1172v13M1082 1171v13M1106 1168v13M1108 1165v13M1151 1155v13M1189 1151v13M1120 1152v13M1064 1152v13M1232 1147v13M1233 1143v13M1138 1145v13M1155 1146v13M1161 1139v13M1175 1144v13M1097 1145v13M1105 1141v13M1069 1141v13M1200 1136v13M1261 1132v13M1231 1128v13M1148 1128v13M1170 1124v13M1089 1128v13M1055 1128v13M1038 1121v13M1226 1104v13M1228 1102v13M1237 1100v13M1245 1108v13M1258 1102v13M1198 1089v13M1239 1085v13M1267 1078v13M1269 1079v13M1224 1066v13M1278 1063v13M1306 1057v13M1315 1051v13M1249 1053v13M1281 1045v13M1329 1010v13M1338 1012v13M1299 995v13M1292 1003v13M1401 1126v13M1393 1140v13M1402 1236v13M1394 1036v13M1383 1017v13M1383 1026v13M1395 1022v13M1398 1024v13M1355 999v13M1362 1004v13M1390 981v13M1355 958v13M1360 967v13M1396 939v13M1382 919v13M1392 903v13M1406 903v13M1263 1033v13M431 1312v13M428 1320v13M438 1322v13M442 1328v13M346 1327v13M357 1324v13M368 1324v13M403 1323v13M355 1338v13M354 1344v13M337 1351v13M362 1357v13M367 1364v13M399 1344v13M409 1344v13M422 1348v13M424 1350v13M431 1365v13M440 1364v13M306 1366v13M308 1371v13M334 1371v13M345 1378v13M379 1376v13M365 1382v13M402 1371v13M419 1375v13M325 1385v13M321 1392v13M324 1397v13M329 1401v13M401 1385v13M400 1391v13M390 1396v13M437 1387v13M424 1396v13M425 1402v13M253 1392v13M250 1396v13M248 1405v13M252 1411v13M273 1406v13M310 1416v13M340 1414v13M336 1427v13M380 1416v13M381 1420v13M394 1409v13M394 1417v13M397 1421v13M400 1426v13M431 1416v13M432 1417v13M415 1435v13M424 1434v13M208 1422v13M220 1437v13M225 1458v13M285 1428v13M287 1438v13M297 1434v13M302 1440v13M288 1444v13M286 1452v13M260 1440v13M251 1447v13M261 1452v13M274 1448v13M274 1449v13M266 1460v13M320 1436v13M324 1435v13M316 1440v13M327 1443v13M305 1448v13M315 1449v13M342 1446v13M358 1436v13M374 1440v13M385 1440v13M398 1436v13M399 1443v13M375 1454v13M393 1456v13M402 1451v13M406 1454v13M437 1445v13M442 1445v13M297 1464v13M326 1471v13M319 1475v13M344 1473v13M413 1467v13M422 1470v13M403 1478v13M406 1479v13M229 1477v13M230 1478v13M240 1482v13M298 1474v13M299 1483v13M251 1489v13M257 1489v13M279 1487v13M274 1491v13M311 1486v13M339 1487v13M352 1491v13M364 1492v13M438 1479v13M427 1484v13M435 1493v13M409 1497v13M415 1507v13M216 1496v13M228 1494v13M213 1501v13M209 1504v13M227 1504v13M271 1505v13M277 1508v13M295 1501v13M298 1501v13M306 1508v13M331 1508v13M327 1509v13M350 1508v13M352 1510v13M367 1505v13M369 1508v13M384 1505v13M217 1517v13M240 1517v13M253 1512v13M280 1519v13M295 1518v13M343 1518v13M255 1522v13M329 1526v13M331 1525v13M358 1525v13M371 1529v13M238 1529v13M246 1532v13M295 1530v13M415 1532v13M437 1529v13M211 1545v13M224 1536v13M234 1536v13M242 1540v13M245 1543v13M249 1548v13M256 1539v13M273 1538v13M285 1537v13M292 1543v13M294 1544v13M318 1542v13M324 1543v13M333 1550v13M349 1536v13M347 1548v13M360 1536v13M366 1540v13M368 1536v13M385 1543v13M390 1546v13M429 1538v13M415 1536v13M234 1553v13M245 1560v13M243 1566v13M266 1554v13M264 1563v13M283 1555v13M310 1554v13M300 1564v13M337 1564v13M334 1568v13M352 1557v13M389 1556v13M390 1559v13M404 1557v13M231 1575v13M271 1574v13M284 1577v13M246 1582v13M259 1584v13M414 1574v13M415 1575v13M429 1572v13M434 1568v13M438 1567v13M362 1580v13M345 1584v13M214 1584v13M220 1584v13M231 1588v13M233 1592v13M219 1598v13M286 1593v13M376 1591v13M378 1592v13M338 1593v13M413 1595v13M437 1584v13M442 1579v13M277 1602v13M281 1605v13M229 1605v13M226 1611v13M312 1599v13M291 1612v13M360 1604v13M367 1604v13M377 1604v13M377 1614v13M393 1610v13M238 1618v13M211 1624v13M222 1627v13M270 1619v13M258 1627v13M348 1621v13M352 1624v13M378 1618v13M384 1625v13M385 1627v13M395 1624v13M420 1618v13M421 1622v13M419 1629v13M443 1622v13M242 1630v13M232 1636v13M227 1636v13M263 1640v13M301 1634v13M315 1632v13M334 1633v13M434 1690v13M664 1092v13M682 1105v13M600 1111v13M607 1117v13M602 1123v13M629 1121v13M652 1136v13M662 1135v13M649 1143v13M662 1143v13M587 1153v13M623 1159v13M616 1170v13M642 1169v13M634 1176v13M675 1153v13M669 1159v13M678 1176v13M493 1208v13M592 1181v13M599 1187v13M596 1191v13M599 1196v13M636 1189v13M672 1185v13M646 1202v13M632 1209v13M555 1202v13M534 1208v13M594 1214v13M499 1223v13M503 1225v13M510 1231v13M541 1222v13M543 1227v13M540 1236v13M552 1239v13M550 1248v13M628 1230v13M614 1236v13M629 1240v13M637 1237v13M632 1234v13M467 1241v13M491 1238v13M487 1248v13M522 1241v13M450 1248v13M447 1259v13M467 1262v13M467 1263v13M479 1262v13M655 1245v13M649 1254v13M654 1261v13M669 1256v13M679 1255v13M669 1264v13M668 1266v13M680 1262v13M574 1260v13M612 1257v13M593 1263v13M604 1263v13M514 1266v13M511 1272v13M534 1270v13M539 1269v13M546 1278v13M584 1270v13M578 1273v13M586 1279v13M617 1275v13M613 1278v13M632 1276v13M605 1281v13M597 1284v13M486 1279v13M501 1280v13M506 1283v13M489 1290v13M472 1287v13M469 1294v13M458 1295v13M559 1289v13M587 1293v13M678 1280v13M679 1281v13M682 1284v13M663 1293v13M665 1295v13M664 1300v13M515 1302v13M558 1307v13M569 1305v13M577 1304v13M582 1308v13M612 1306v13M627 1301v13M635 1304v13M639 1311v13M645 1315v13M649 1306v13M653 1305v13M524 1314v13M533 1317v13M488 1321v13M514 1321v13M555 1322v13M617 1320v13M656 1325v13M675 1320v13M483 1334v13M506 1330v13M508 1334v13M504 1336v13M524 1336v13M538 1337v13M544 1338v13M564 1332v13M561 1337v13M596 1332v13M625 1332v13M620 1336v13M641 1336v13M646 1339v13M451 1337v13M447 1342v13M465 1342v13M492 1342v13M590 1342v13M669 1342v13M449 1349v13M453 1351v13M464 1346v13M456 1358v13M449 1363v13M456 1368v13M499 1347v13M501 1351v13M510 1356v13M539 1346v13M544 1355v13M547 1356v13M558 1348v13M566 1346v13M569 1346v13M592 1355v13M594 1356v13M590 1346v13M621 1356v13M621 1358v13M646 1346v13M658 1347v13M666 1346v13M567 1368v13M498 1373v13M506 1372v13M505 1382v13M534 1375v13M536 1377v13M590 1378v13M602 1373v13M642 1364v13M646 1363v13M631 1368v13M628 1382v13M659 1378v13M572 1387v13M449 1389v13M456 1392v13M526 1391v13M531 1394v13M603 1388v13M681 1390v13M460 1401v13M481 1403v13M482 1406v13M478 1413v13M494 1414v13M529 1404v13M516 1413v13M513 1416v13M621 1394v13M633 1396v13M635 1396v13M642 1394v13M649 1394v13M651 1405v13M582 1402v13M588 1399v13M582 1406v13M617 1417v13M474 1422v13M495 1424v13M528 1421v13M521 1421v13M546 1417v13M585 1421v13M634 1430v13M643 1427v13M649 1435v13M664 1436v13M671 1425v13M682 1422v13M482 1434v13M467 1439v13M471 1440v13M450 1442v13M567 1432v13M552 1438v13M572 1438v13M576 1442v13M577 1444v13M575 1441v13M598 1440v13M624 1442v13M481 1450v13M519 1446v13M526 1454v13M485 1460v13M573 1452v13M569 1457v13M561 1458v13M598 1453v13M610 1452v13M614 1454v13M617 1453v13M639 1453v13M657 1448v13M671 1446v13M683 1446v13M463 1467v13M476 1469v13M496 1469v13M496 1472v13M532 1465v13M552 1465v13M549 1474v13M550 1479v13M570 1464v13M581 1467v13M608 1471v13M607 1474v13M609 1472v13M629 1470v13M642 1468v13M652 1469v13M660 1467v13M662 1468v13M647 1478v13M653 1482v13M678 1471v13M451 1477v13M449 1481v13M460 1478v13M474 1478v13M460 1489v13M479 1488v13M483 1496v13M486 1499v13M482 1504v13M460 1503v13M532 1488v13M539 1491v13M509 1499v13M504 1505v13M521 1501v13M537 1505v13M547 1502v13M573 1500v13M567 1505v13M585 1508v13M600 1485v13M610 1487v13M598 1492v13M610 1492v13M682 1500v13M455 1521v13M475 1521v13M493 1524v13M564 1514v13M556 1517v13M551 1522v13M589 1520v13M520 1524v13M511 1527v13M514 1532v13M536 1528v13M533 1532v13M553 1530v13M464 1538v13M468 1545v13M517 1541v13M580 1533v13M582 1534v13M568 1542v13M585 1551v13M460 1555v13M478 1562v13M507 1556v13M514 1559v13M516 1560v13M563 1556v13M571 1557v13M574 1560v13M541 1564v13M546 1578v13M474 1583v13M492 1582v13M555 1584v13M542 1591v13M456 1598v13M503 1599v13M519 1599v13M508 1614v13M535 1615v13M479 1619v13M447 1622v13M562 1623v13M561 1627v13M486 1629v13M506 1634v13M503 1636v13M547 1633v13M830 982v13M804 1004v13M798 1012v13M825 1002v13M891 1002v13M895 1004v13M845 1011v13M851 1010v13M852 1013v13M879 1013v13M916 1000v13M922 993v13M922 1006v13M923 1011v13M854 1023v13M851 1027v13M831 1032v13M913 1021v13M919 1018v13M896 1029v13M889 1034v13M905 1032v13M909 1036v13M922 1036v13M848 1036v13M846 1040v13M850 1043v13M836 1047v13M820 1050v13M819 1061v13M910 1046v13M722 1063v13M735 1066v13M742 1066v13M781 1071v13M888 1068v13M892 1080v13M714 1079v13M718 1087v13M736 1089v13M772 1088v13M722 1096v13M702 1099v13M709 1108v13M783 1102v13M793 1103v13M796 1102v13M796 1111v13M873 1098v13M874 1101v13M882 1101v13M889 1102v13M900 1109v13M922 1107v13M865 1112v13M872 1115v13M877 1111v13M881 1115v13M840 1115v13M846 1116v13M847 1118v13M815 1120v13M829 1124v13M738 1122v13M752 1121v13M782 1124v13M714 1126v13M759 1132v13M904 1122v13M900 1126v13M890 1128v13M710 1137v13M707 1142v13M729 1142v13M781 1137v13M786 1139v13M792 1140v13M784 1142v13M868 1133v13M878 1138v13M907 1139v13M843 1142v13M806 1143v13M687 1159v13M698 1153v13M701 1154v13M720 1155v13M716 1162v13M729 1146v13M769 1154v13M761 1161v13M781 1146v13M792 1146v13M799 1145v13M809 1146v13M809 1153v13M822 1153v13M839 1152v13M843 1146v13M778 1167v13M793 1163v13M802 1162v13M807 1159v13M861 1156v13M857 1160v13M865 1159v13M889 1155v13M892 1161v13M912 1154v13M914 1162v13M914 1166v13M743 1171v13M739 1177v13M754 1171v13M818 1174v13M833 1171v13M865 1174v13M879 1178v13M893 1177v13M904 1170v13M910 1185v13M907 1188v13M880 1188v13M761 1186v13M788 1181v13M782 1185v13M800 1183v13M810 1182v13M795 1189v13M802 1193v13M826 1191v13M692 1191v13M686 1194v13M728 1197v13M776 1196v13M773 1200v13M811 1196v13M814 1198v13M832 1196v13M836 1198v13M842 1197v13M854 1195v13M863 1199v13M861 1208v13M896 1200v13M918 1196v13M886 1207v13M876 1211v13M907 1206v13M918 1213v13M762 1211v13M730 1214v13M744 1214v13M740 1215v13M779 1218v13M800 1219v13M830 1211v13M843 1215v13M696 1224v13M704 1224v13M725 1219v13M723 1224v13M725 1226v13M765 1227v13M767 1232v13M797 1230v13M827 1223v13M839 1221v13M854 1230v13M870 1233v13M882 1239v13M902 1216v13M900 1234v13M909 1232v13M914 1236v13M740 1236v13M736 1243v13M723 1242v13M753 1242v13M756 1244v13M807 1234v13M807 1240v13M818 1232v13M822 1237v13M701 1243v13M704 1251v13M700 1256v13M693 1260v13M686 1261v13M689 1267v13M768 1251v13M770 1256v13M767 1253v13M756 1260v13M789 1244v13M786 1253v13M787 1261v13M793 1262v13M844 1248v13M836 1263v13M861 1262v13M857 1268v13M887 1261v13M894 1263v13M711 1268v13M696 1274v13M760 1274v13M786 1274v13M779 1279v13M778 1282v13M820 1273v13M832 1274v13M831 1280v13M825 1286v13M817 1290v13M822 1288v13M823 1285v13M877 1271v13M875 1282v13M880 1282v13M851 1284v13M897 1287v13M743 1285v13M750 1292v13M734 1294v13M691 1292v13M771 1291v13M775 1298v13M776 1299v13M799 1289v13M797 1292v13M877 1290v13M912 1294v13M920 1294v13M839 1303v13M732 1308v13M786 1310v13M825 1312v13M695 1314v13M707 1313v13M715 1314v13M730 1318v13M775 1318v13M757 1323v13M741 1325v13M858 1319v13M923 1314v13M912 1328v13M920 1329v13M689 1338v13M693 1344v13M696 1347v13M704 1348v13M741 1342v13M737 1353v13M725 1353v13M726 1354v13M809 1345v13M811 1349v13M819 1342v13M804 1356v13M812 1356v13M816 1359v13M850 1341v13M873 1348v13M856 1356v13M904 1341v13M748 1359v13M751 1360v13M756 1360v13M742 1366v13M710 1367v13M718 1367v13M779 1368v13M826 1374v13M800 1380v13M813 1383v13M692 1382v13M691 1386v13M721 1382v13M718 1385v13M762 1383v13M757 1387v13M770 1383v13M693 1393v13M700 1400v13M712 1399v13M709 1408v13M746 1404v13M747 1408v13M733 1413v13M694 1424v13M746 1429v13M751 1430v13M756 1426v13M749 1446v13M744 1453v13M737 1457v13M701 1456v13M707 1462v13M706 1466v13M706 1471v13M686 1502v13M1149 740v13M1103 756v13M1109 758v13M1112 753v13M1122 751v13M1095 764v13M1126 771v13M1154 769v13M1157 765v13M1162 764v13M1013 773v13M1087 778v13M1082 788v13M1051 791v13M1122 789v13M1130 788v13M1113 794v13M1119 796v13M1154 793v13M1163 792v13M1013 804v13M1014 807v13M1025 816v13M1118 811v13M1158 808v13M1077 816v13M1081 819v13M1093 817v13M1106 823v13M1127 822v13M1131 824v13M1133 826v13M1162 818v13M1162 823v13M1019 835v13M1039 838v13M1072 838v13M1102 838v13M1129 841v13M1142 842v13M1151 846v13M1062 847v13M1059 851v13M1074 848v13M1087 848v13M1136 858v13M1127 864v13M1162 861v13M994 859v13M1040 863v13M1053 874v13M1145 870v13M1143 874v13M1147 878v13M1012 875v13M1049 889v13M1058 891v13M1085 881v13M1086 890v13M1102 886v13M1111 887v13M1114 889v13M1126 892v13M1004 891v13M1008 890v13M984 902v13M985 904v13M1021 903v13M1076 904v13M1106 897v13M1101 905v13M1143 898v13M1147 900v13M1157 905v13M969 912v13M969 915v13M972 918v13M976 922v13M999 925v13M1015 917v13M1022 918v13M1032 916v13M1036 916v13M1041 914v13M1047 913v13M1027 927v13M1061 910v13M1067 909v13M1055 922v13M1057 930v13M1086 912v13M1076 925v13M1090 926v13M1134 912v13M1136 918v13M1115 922v13M1123 927v13M1104 931v13M1136 932v13M960 940v13M971 953v13M1004 945v13M1002 955v13M989 956v13M1026 949v13M1030 954v13M1040 951v13M1054 950v13M1057 936v13M1063 943v13M1071 948v13M1078 946v13M1080 947v13M1066 957v13M1098 947v13M1111 940v13M1137 939v13M1150 937v13M1154 946v13M1114 961v13M1080 964v13M1082 967v13M935 968v13M948 972v13M965 972v13M1056 975v13M1053 984v13M1070 984v13M1111 974v13M1113 983v13M1115 968v13M1136 972v13M1140 981v13M1162 984v13M947 986v13M1009 982v13M1019 983v13M1039 986v13M927 992v13M966 993v13M976 997v13M979 999v13M986 994v13M991 994v13M996 998v13M999 1003v13M1122 1002v13M1140 1002v13M1135 1006v13M1131 1009v13M1156 996v13M1159 998v13M944 1003v13M946 1004v13M1040 1004v13M1061 1008v13M927 1007v13M945 1018v13M966 1015v13M990 1017v13M1001 1020v13M1020 1022v13M1119 1019v13M1144 1018v13M1046 1029v13M1042 1034v13M1049 1031v13M1052 1033v13M1044 1032v13M938 1032v13M936 1038v13M1092 1036v13M1101 1032v13M1104 1040v13M1125 1036v13M1151 1036v13M1160 1032v13M929 1046v13M939 1047v13M1016 1040v13M1057 1043v13M989 1047v13M1086 1046v13M1094 1050v13M1099 1054v13M1103 1054v13M1120 1050v13M1135 1046v13M1140 1053v13M1158 1044v13M1154 1050v13M1036 1054v13M1004 1058v13M976 1058v13M981 1068v13M1024 1059v13M1020 1064v13M1073 1064v13M1092 1064v13M1118 1064v13M1126 1064v13M1130 1062v13M1140 1064v13M1146 1061v13M1054 1069v13M1044 1072v13M997 1074v13M1028 1079v13M1033 1083v13M955 1083v13M1040 1086v13M1044 1090v13M1051 1098v13M1058 1093v13M1073 1083v13M1079 1090v13M1118 1090v13M1147 1081v13M1143 1089v13M1144 1086v13M1162 1090v13M944 1091v13M948 1095v13M932 1103v13M938 1103v13M955 1096v13M976 1097v13M989 1099v13M1012 1102v13M1012 1108v13M973 1107v13M991 1107v13M1097 1106v13M1097 1111v13M1108 1107v13M1069 1111v13M984 1115v13M974 1119v13M938 1124v13M954 1124v13M993 1124v13M929 1137v13M984 1137v13M1001 1134v13M1000 1139v13M1008 1134v13M1015 1142v13M1025 1141v13M961 1140v13M962 1144v13M960 1143v13M943 1150v13M955 1152v13M956 1159v13M966 1153v13M971 1154v13M930 1157v13M996 1156v13M1006 1154v13M1002 1161v13M978 1169v13M987 1175v13M937 1175v13M954 1179v13M952 1185v13M950 1190v13M940 1197v13M960 1199v13M971 1200v13M979 1202v13M982 1203v13M941 1209v13M930 1220v13M933 1224v13M944 1225v13M931 1232v13M926 1248v13M947 1246v13M965 1249v13M965 1256v13M980 1265v13M976 1270v13M954 1292v13M953 1296v13M931 1309v13M926 1314v13M927 1316v13M934 1320v13M947 1313v13M970 1306v13M958 1329v13M964 1336v13M926 1336v13M982 1336v13M952 1345v13M1399 618v13M1406 619v13M1332 626v13M1346 629v13M1357 626v13M1355 639v13M1381 641v13M1317 645v13M1308 653v13M1278 657v13M1292 661v13M1292 664v13M1259 662v13M1242 664v13M1323 662v13M1338 658v13M1343 653v13M1390 666v13M1271 683v13M1315 685v13M1322 692v13M1399 685v13M1298 691v13M1237 693v13M1227 702v13M1252 704v13M1290 703v13M1298 707v13M1306 700v13M1330 702v13M1256 714v13M1256 717v13M1368 710v13M1381 710v13M1390 702v13M1311 717v13M1319 718v13M1326 724v13M1284 719v13M1288 719v13M1275 724v13M1287 728v13M1295 732v13M1335 731v13M1331 736v13M1361 723v13M1375 724v13M1388 723v13M1213 728v13M1194 735v13M1185 738v13M1241 737v13M1252 740v13M1266 736v13M1220 740v13M1287 742v13M1331 742v13M1338 750v13M1317 752v13M1305 755v13M1277 752v13M1211 746v13M1229 750v13M1206 757v13M1222 753v13M1364 741v13M1378 742v13M1379 744v13M1364 755v13M1372 753v13M1378 753v13M1400 756v13M1408 757v13M1268 761v13M1274 768v13M1295 765v13M1180 763v13M1195 767v13M1222 767v13M1235 767v13M1370 766v13M1384 771v13M1388 771v13M1392 768v13M1352 768v13M1348 774v13M1313 776v13M1209 781v13M1233 784v13M1273 781v13M1344 781v13M1175 782v13M1176 787v13M1189 784v13M1192 789v13M1197 796v13M1210 797v13M1277 789v13M1318 790v13M1322 794v13M1353 790v13M1406 785v13M1395 796v13M1392 802v13M1252 799v13M1267 797v13M1259 806v13M1275 806v13M1292 803v13M1300 803v13M1303 803v13M1326 808v13M1183 814v13M1188 812v13M1206 814v13M1207 816v13M1229 813v13M1234 812v13M1227 817v13M1228 819v13M1401 812v13M1304 813v13M1336 816v13M1352 817v13M1382 817v13M1264 816v13M1253 828v13M1243 829v13M1239 834v13M1294 825v13M1288 832v13M1287 834v13M1320 823v13M1316 824v13M1338 824v13M1337 828v13M1359 825v13M1348 832v13M1367 830v13M1379 831v13M1375 838v13M1206 830v13M1179 834v13M1214 838v13M1179 842v13M1202 844v13M1263 839v13M1249 846v13M1259 846v13M1280 847v13M1309 848v13M1310 850v13M1324 841v13M1335 840v13M1338 842v13M1351 838v13M1356 843v13M1360 847v13M1374 844v13M1345 852v13M1344 854v13M1397 845v13M1402 841v13M1188 853v13M1238 859v13M1271 861v13M1393 859v13M1209 864v13M1254 865v13M1281 868v13M1273 873v13M1331 863v13M1334 867v13M1345 867v13M1356 866v13M1302 872v13M1399 872v13M1388 875v13M1199 880v13M1252 882v13M1248 885v13M1258 885v13M1270 881v13M1369 881v13M1363 886v13M1304 886v13M1299 889v13M1218 890v13M1182 890v13M1245 895v13M1249 901v13M1328 896v13M1342 899v13M1357 899v13M1176 900v13M1313 906v13M1192 910v13M1202 912v13M1212 910v13M1225 913v13M1227 915v13M1270 912v13M1348 911v13M1349 914v13M1185 918v13M1203 921v13M1231 921v13M1217 921v13M1352 920v13M1327 921v13M1331 923v13M1339 922v13M1195 925v13M1188 932v13M1217 929v13M1266 930v13M1301 932v13M1282 935v13M1363 928v13M1364 929v13M1349 932v13M1324 938v13M1327 939v13M1311 935v13M1245 938v13M1243 940v13M1286 943v13M1298 945v13M1214 938v13M1177 942v13M1188 946v13M1206 946v13M1224 943v13M1209 951v13M1234 949v13M1329 947v13M1302 949v13M1181 961v13M1195 957v13M1174 970v13M1176 970v13M1214 964v13M1226 963v13M1203 970v13M1305 956v13M1318 960v13M1288 966v13M1263 972v13M1221 980v13M1231 981v13M1194 987v13M1257 983v13M1182 994v13M1240 995v13M1274 993v13M1270 997v13M1224 1005v13M1254 1003v13M1262 1007v13M1274 1008v13M1279 1014v13M1249 1012v13M1245 1016v13M1240 1020v13M1237 1024v13M1250 1023v13M1249 1031v13M1247 1038v13M1256 1036v13M1202 1021v13M1220 1031v13M1212 1036v13M1190 1044v13M1177 1052v13M1174 1077v13M920 1154v13M1257 643v13M1146 862v13M968 1287v13M502 1386v13M1200 1052v13M302 1774v13M617 1364v13M1127 792v13M539 1394v13M505 1482v13M1018 1047v13M1286 807v13M726 1311v13M599 1599v13M842 1067v13M558 1631v13M256 1676v13M1209 706v13M671 1260v13M752 1353v13M665 1156v13M896 980v13M1362 826v13M679 1339v13M883 1161v13M1273 839v13M785 1248v13M1159 898v13M843 1019v13M1045 1002v13M445 1305v13M326 1648v13M231 1673v13M792 1027v13M1079 1190v13M302 1682v13M704 1374v13M1065 953v13M532 1388v13M1358 876v13M901 1106v13M1364 896v13M1214 1068v13M438 1473v13M923 932v13M343 1506v13M1373 793v13M1122 1017v13M827 1192v13M559 1630v13M371 1601v13M1245 929v13M633 1344v13M237 1592v13M856 1353v13M1374 673v13M868 1277v13M1110 1132v13M457 1469v13M816 1187v13M773 1268v13M329 1532v13M458 1414v13M1104 883v13M1261 778v13M876 1273v13M1339 931v13M1174 1106v13M1102 883v13M287 1640v13M1216 749v13M744 1250v13M920 1196v13M592 1459v13M611 1336v13M1104 986v13M346 1573v13M585 1258v13M1096 1103v13M393 1524v13M346 1542v13M1126 948v13M682 1278v13M269 1831v13M824 1139v13M970 1082v13M1075 959v13M770 1067v13M1356 757v13M513 1461v13M648 1399v13M1145 1125v13M232 1805v13M528 1563v13M560 1438v13"/><path stroke="#000" stroke-width="1" fill="none" d="M518 895.5h12M517 896.5h13M381 943.5h12M380 944.5h13M452 975.5h12M451 976.5h13M364 981.5h12M363 982.5h13M512 1014.5h12M511 1015.5h13M515 1035.5h12M514 1036.5h13M365 1037.5h12M364 1038.5h13M570 1028.5h12M569 1029.5h13M578 1028.5h12M577 1029.5h13M351 1128.5h12M350 1129.5h13M430 1139.5h12M429 1140.5h13M459 1144.5h12M458 1145.5h13M384 1154.5h12M383 1155.5h13M313 1165.5h12M312 1166.5h13M297 1172.5h12M296 1173.5h13M306 1178.5h12M305 1179.5h13M414 1179.5h12M413 1180.5h13M219 1185.5h12M218 1186.5h13M555 1110.5h12M554 1111.5h13M553 1121.5h12M552 1122.5h13M582 1115.5h12M581 1116.5h13M572 1129.5h12M571 1130.5h13M538 1169.5h12M537 1170.5h13M479 1180.5h12M478 1181.5h13M522 1180.5h12M521 1181.5h13M465 1193.5h12M464 1194.5h13M514 1195.5h12M513 1196.5h13M452 1210.5h12M451 1211.5h13M484 1202.5h12M483 1203.5h13M369 1233.5h12M368 1234.5h13M392 1239.5h12M391 1240.5h13M406 1244.5h12M405 1245.5h13M375 1247.5h12M374 1248.5h13M386 1251.5h12M385 1252.5h13M314 1260.5h12M313 1261.5h13M323 1260.5h12M322 1261.5h13M308 1272.5h12M307 1273.5h13M368 1270.5h12M367 1271.5h13M402 1277.5h12M401 1278.5h13M311 1295.5h12M310 1296.5h13M333 1291.5h12M332 1292.5h13M320 1306.5h12M319 1307.5h13M343 1306.5h12M342 1307.5h13M392 1291.5h12M391 1292.5h13M401 1296.5h12M400 1297.5h13M272 1333.5h12M271 1334.5h13M299 1328.5h12M298 1329.5h13M259 1341.5h12M258 1342.5h13M266 1349.5h12M265 1350.5h13M278 1350.5h12M277 1351.5h13M203 1359.5h12M202 1360.5h13M222 1356.5h12M221 1357.5h13M231 1363.5h12M230 1364.5h13M251 1362.5h12M250 1363.5h13M262 1360.5h12M261 1361.5h13M936 664.5h12M935 665.5h13M897 720.5h12M896 721.5h13M951 734.5h12M950 735.5h13M976 735.5h12M975 736.5h13M981 729.5h12M980 730.5h13M923 760.5h12M922 761.5h13M875 804.5h12M874 805.5h13M694 939.5h12M693 940.5h13M741 939.5h12M740 940.5h13M768 937.5h12M767 938.5h13M721 952.5h12M720 953.5h13M759 949.5h12M758 950.5h13M785 947.5h12M784 948.5h13M910 841.5h12M909 842.5h13M967 837.5h12M966 838.5h13M864 857.5h12M863 858.5h13M893 879.5h12M892 880.5h13M906 878.5h12M905 879.5h13M914 876.5h12M913 877.5h13M963 881.5h12M962 882.5h13M948 893.5h12M947 894.5h13M974 890.5h12M973 891.5h13M932 904.5h12M931 905.5h13M823 897.5h12M822 898.5h13M829 902.5h12M828 903.5h13M882 917.5h12M881 918.5h13M811 927.5h12M810 928.5h13M853 927.5h12M852 928.5h13M935 928.5h12M934 929.5h13M754 975.5h12M753 976.5h13M861 961.5h12M860 962.5h13M880 965.5h12M879 966.5h13M915 955.5h12M914 956.5h13M844 975.5h12M843 976.5h13M822 981.5h12M821 982.5h13M831 989.5h12M830 990.5h13M709 998.5h12M708 999.5h13M654 1018.5h12M653 1019.5h13M729 1015.5h12M728 1016.5h13M770 1009.5h12M769 1010.5h13M681 1033.5h12M680 1034.5h13M733 1036.5h12M732 1037.5h13M764 1029.5h12M763 1030.5h13M669 1055.5h12M668 1056.5h13M682 1049.5h12M681 1050.5h13M707 1057.5h12M706 1058.5h13M715 1051.5h12M714 1052.5h13M746 1049.5h12M745 1050.5h13M755 1047.5h12M754 1048.5h13M649 1078.5h12M648 1079.5h13M655 1083.5h12M654 1084.5h13M668 1085.5h12M667 1086.5h13M683 1077.5h12M682 1078.5h13M602 1100.5h12M601 1101.5h13M621 1100.5h12M620 1101.5h13M1236 395.5h12M1235 396.5h13M1060 587.5h12M1059 588.5h13M1270 474.5h12M1269 475.5h13M1126 608.5h12M1125 609.5h13M1007 685.5h12M1006 686.5h13M1028 678.5h12M1027 679.5h13M993 711.5h12M992 712.5h13M988 718.5h12M987 719.5h13M1278 496.5h12M1277 497.5h13M1240 516.5h12M1239 517.5h13M1368 459.5h12M1367 460.5h13M1367 485.5h12M1366 486.5h13M1330 498.5h12M1329 499.5h13M1346 523.5h12M1345 524.5h13M1366 526.5h12M1365 527.5h13M1342 544.5h12M1341 545.5h13M1354 541.5h12M1353 542.5h13M1297 567.5h12M1296 568.5h13M1307 573.5h12M1306 574.5h13M1315 573.5h12M1314 574.5h13M1322 571.5h12M1321 572.5h13M1337 563.5h12M1336 564.5h13M1355 565.5h12M1354 566.5h13M1374 572.5h12M1373 573.5h13M1381 579.5h12M1380 580.5h13M1282 588.5h12M1281 589.5h13M1277 595.5h12M1276 596.5h13M1299 586.5h12M1298 587.5h13M1206 595.5h12M1205 596.5h13M1231 601.5h12M1230 602.5h13M1214 611.5h12M1213 612.5h13M1256 614.5h12M1255 615.5h13M1163 620.5h12M1162 621.5h13M1211 631.5h12M1210 632.5h13M1202 640.5h12M1201 641.5h13M1303 624.5h12M1302 625.5h13M1361 596.5h12M1360 597.5h13M1364 603.5h12M1363 604.5h13M1369 604.5h12M1368 605.5h13M1370 615.5h12M1369 616.5h13M1080 661.5h12M1079 662.5h13M1062 674.5h12M1061 675.5h13M1119 671.5h12M1118 672.5h13M1172 675.5h12M1171 676.5h13M1163 687.5h12M1162 688.5h13M1047 742.5h12M1046 743.5h13M992 754.5h12M991 755.5h13M1159 707.5h12M1158 708.5h13M1160 722.5h12M1159 723.5h13M1132 733.5h12M1131 734.5h13M1195 720.5h12M1194 721.5h13M1314 228.5h12M1313 229.5h13M1401 425.5h12M1400 426.5h13M1398 476.5h12M1397 477.5h13M1399 559.5h12M1398 560.5h13M1381 576.5h12M1380 577.5h13M1382 583.5h12M1381 584.5h13M298 2021.5h12M297 2022.5h13M406 1892.5h12M405 1893.5h13M376 1905.5h12M375 1906.5h13M339 1910.5h12M338 1911.5h13M578 1843.5h12M577 1844.5h13M521 1802.5h12M520 1803.5h13M284 1938.5h12M283 1939.5h13M271 1928.5h12M270 1929.5h13M264 1907.5h12M263 1908.5h13M200 1877.5h12M199 1878.5h13M216 1870.5h12M215 1871.5h13M326 1862.5h12M325 1863.5h13M330 1854.5h12M329 1855.5h13M242 1849.5h12M241 1850.5h13M354 1832.5h12M353 1833.5h13M428 1832.5h12M427 1833.5h13M316 1825.5h12M315 1826.5h13M412 1821.5h12M411 1822.5h13M346 1816.5h12M345 1817.5h13M442 1813.5h12M441 1814.5h13M239 1810.5h12M238 1811.5h13M270 1808.5h12M269 1809.5h13M282 1804.5h12M281 1805.5h13M317 1806.5h12M316 1807.5h13M339 1806.5h12M338 1807.5h13M208 1803.5h12M207 1804.5h13M486 1799.5h12M485 1800.5h13M304 1797.5h12M303 1798.5h13M337 1796.5h12M336 1797.5h13M413 1793.5h12M412 1794.5h13M405 1788.5h12M404 1789.5h13M205 1790.5h12M204 1791.5h13M211 1786.5h12M210 1787.5h13M456 1781.5h12M455 1782.5h13M327 1777.5h12M326 1778.5h13M337 1773.5h12M336 1774.5h13M378 1772.5h12M377 1773.5h13M367 1767.5h12M366 1768.5h13M295 1760.5h12M294 1761.5h13M318 1759.5h12M317 1760.5h13M479 1757.5h12M478 1758.5h13M204 1751.5h12M203 1752.5h13M263 1751.5h12M262 1752.5h13M270 1750.5h12M269 1751.5h13M235 1747.5h12M234 1748.5h13M237 1744.5h12M236 1745.5h13M243 1743.5h12M242 1744.5h13M218 1744.5h12M217 1745.5h13M303 1743.5h12M302 1744.5h13M309 1743.5h12M308 1744.5h13M367 1744.5h12M366 1745.5h13M492 1742.5h12M491 1743.5h13M210 1739.5h12M209 1740.5h13M283 1737.5h12M282 1738.5h13M247 1736.5h12M246 1737.5h13M407 1734.5h12M406 1735.5h13M233 1730.5h12M232 1731.5h13M243 1731.5h12M242 1732.5h13M253 1731.5h12M252 1732.5h13M261 1731.5h12M260 1732.5h13M469 1728.5h12M468 1729.5h13M494 1729.5h12M493 1730.5h13M274 1724.5h12M273 1725.5h13M214 1723.5h12M213 1724.5h13M263 1716.5h12M262 1717.5h13M231 1715.5h12M230 1716.5h13M238 1719.5h12M237 1720.5h13M208 1709.5h12M207 1710.5h13M215 1705.5h12M214 1706.5h13M356 1708.5h12M355 1709.5h13M356 1700.5h12M355 1701.5h13M303 1704.5h12M302 1705.5h13M302 1696.5h12M301 1697.5h13M383 1702.5h12M382 1703.5h13M429 1699.5h12M428 1700.5h13M492 1698.5h12M491 1699.5h13M218 1698.5h12M217 1699.5h13M334 1694.5h12M333 1695.5h13M324 1689.5h12M323 1690.5h13M278 1692.5h12M277 1693.5h13M423 1688.5h12M422 1689.5h13M423 1690.5h12M422 1691.5h13M380 1685.5h12M379 1686.5h13M471 1683.5h12M470 1684.5h13M201 1686.5h12M200 1687.5h13M205 1687.5h12M204 1688.5h13M201 1691.5h12M200 1692.5h13M213 1686.5h12M212 1687.5h13M227 1686.5h12M226 1687.5h13M253 1679.5h12M252 1680.5h13M260 1679.5h12M259 1680.5h13M266 1684.5h12M265 1685.5h13M289 1678.5h12M288 1679.5h13M290 1673.5h12M289 1674.5h13M276 1665.5h12M275 1666.5h13M346 1681.5h12M345 1682.5h13M352 1677.5h12M351 1678.5h13M344 1672.5h12M343 1673.5h13M358 1665.5h12M357 1666.5h13M401 1679.5h12M400 1680.5h13M402 1664.5h12M401 1665.5h13M415 1669.5h12M414 1670.5h13M421 1669.5h12M420 1670.5h13M425 1668.5h12M424 1669.5h13M448 1662.5h12M447 1663.5h13M525 1662.5h12M524 1663.5h13M552 1665.5h12M551 1666.5h13M312 1665.5h12M311 1666.5h13M315 1660.5h12M314 1661.5h13M255 1655.5h12M254 1656.5h13M367 1653.5h12M366 1654.5h13M372 1650.5h12M371 1651.5h13M386 1653.5h12M385 1654.5h13M404 1649.5h12M403 1650.5h13M208 1649.5h12M207 1650.5h13M228 1648.5h12M227 1649.5h13M245 1648.5h12M244 1649.5h13M297 1649.5h12M296 1650.5h13M307 1649.5h12M306 1650.5h13M465 1646.5h12M464 1647.5h13M487 1648.5h12M486 1649.5h13M493 1651.5h12M492 1652.5h13M520 1643.5h12M519 1644.5h13M330 1642.5h12M329 1643.5h13M610 1853.5h12M609 1854.5h13M722 1794.5h12M721 1795.5h13M670 1724.5h12M669 1725.5h13M646 1696.5h12M645 1697.5h13M700 1685.5h12M699 1686.5h13M702 1696.5h12M701 1697.5h13M760 1684.5h12M759 1685.5h13M710 1658.5h12M709 1659.5h13M758 1639.5h12M757 1640.5h13M852 1623.5h12M851 1624.5h13M928 1654.5h12M927 1655.5h13M850 1566.5h12M849 1567.5h13M858 1539.5h12M857 1540.5h13M841 1529.5h12M840 1530.5h13M809 1546.5h12M808 1547.5h13M946 1457.5h12M945 1458.5h13M973 1450.5h12M972 1451.5h13M661 1666.5h12M660 1667.5h13M631 1651.5h12M630 1652.5h13M661 1638.5h12M660 1639.5h13M662 1643.5h12M661 1644.5h13M675 1616.5h12M674 1617.5h13M597 1619.5h12M596 1620.5h13M601 1619.5h12M600 1620.5h13M614 1609.5h12M613 1610.5h13M692 1601.5h12M691 1602.5h13M727 1597.5h12M726 1598.5h13M618 1594.5h12M617 1595.5h13M618 1593.5h12M617 1594.5h13M650 1583.5h12M649 1584.5h13M716 1582.5h12M715 1583.5h13M697 1575.5h12M696 1576.5h13M590 1572.5h12M589 1573.5h13M715 1564.5h12M714 1565.5h13M618 1565.5h12M617 1566.5h13M714 1552.5h12M713 1553.5h13M599 1556.5h12M598 1557.5h13M614 1555.5h12M613 1556.5h13M635 1549.5h12M634 1550.5h13M588 1542.5h12M587 1543.5h13M711 1530.5h12M710 1531.5h13M725 1533.5h12M724 1534.5h13M603 1517.5h12M602 1518.5h13M727 1513.5h12M726 1514.5h13M782 1499.5h12M781 1500.5h13M741 1498.5h12M740 1499.5h13M748 1494.5h12M747 1495.5h13M674 1501.5h12M673 1502.5h13M677 1498.5h12M676 1499.5h13M681 1503.5h12M680 1504.5h13M724 1487.5h12M723 1488.5h13M799 1479.5h12M798 1480.5h13M808 1474.5h12M807 1475.5h13M816 1479.5h12M815 1480.5h13M760 1473.5h12M759 1474.5h13M797 1449.5h12M796 1450.5h13M763 1447.5h12M762 1448.5h13M863 1434.5h12M862 1435.5h13M903 1423.5h12M902 1424.5h13M838 1413.5h12M837 1414.5h13M862 1414.5h12M861 1415.5h13M879 1406.5h12M878 1407.5h13M915 1398.5h12M914 1399.5h13M796 1415.5h12M795 1416.5h13M799 1408.5h12M798 1409.5h13M879 1399.5h12M878 1400.5h13M866 1392.5h12M865 1393.5h13M893 1390.5h12M892 1391.5h13M944 1382.5h12M943 1383.5h13M956 1375.5h12M955 1376.5h13M981 1375.5h12M980 1376.5h13M896 1381.5h12M895 1382.5h13M890 1371.5h12M889 1372.5h13M877 1382.5h12M876 1383.5h13M841 1385.5h12M840 1386.5h13M855 1384.5h12M854 1385.5h13M1129 1512.5h12M1128 1513.5h13M1003 1413.5h12M1002 1414.5h13M1018 1393.5h12M1017 1394.5h13M1085 1396.5h12M1084 1397.5h13M1074 1382.5h12M1073 1383.5h13M1109 1379.5h12M1108 1380.5h13M1186 1354.5h12M1185 1355.5h13M1186 1289.5h12M1185 1290.5h13M1193 1277.5h12M1192 1278.5h13M1176 1271.5h12M1175 1272.5h13M1137 1280.5h12M1136 1281.5h13M1151 1252.5h12M1150 1253.5h13M1178 1248.5h12M1177 1249.5h13M1214 1251.5h12M1213 1252.5h13M1230 1250.5h12M1229 1251.5h13M1211 1218.5h12M1210 1219.5h13M1179 1221.5h12M1178 1222.5h13M1292 1240.5h12M1291 1241.5h13M1305 1229.5h12M1304 1230.5h13M1316 1216.5h12M1315 1217.5h13M1380 1225.5h12M1379 1226.5h13M1368 1175.5h12M1367 1176.5h13M1367 1150.5h12M1366 1151.5h13M1363 1131.5h12M1362 1132.5h13M1374 1120.5h12M1373 1121.5h13M1379 1064.5h12M1378 1065.5h13M1277 1149.5h12M1276 1150.5h13M1288 1141.5h12M1287 1142.5h13M1308 1114.5h12M1307 1115.5h13M1279 1124.5h12M1278 1125.5h13M998 1368.5h12M997 1369.5h13M989 1335.5h12M988 1336.5h13M1011 1321.5h12M1010 1322.5h13M1062 1314.5h12M1061 1315.5h13M1064 1310.5h12M1063 1311.5h13M1002 1306.5h12M1001 1307.5h13M1025 1307.5h12M1024 1308.5h13M1044 1297.5h12M1043 1298.5h13M1057 1296.5h12M1056 1297.5h13M1003 1293.5h12M1002 1294.5h13M1004 1292.5h12M1003 1293.5h13M1078 1286.5h12M1077 1287.5h13M1024 1282.5h12M1023 1283.5h13M1031 1288.5h12M1030 1289.5h13M1041 1277.5h12M1040 1278.5h13M1084 1271.5h12M1083 1272.5h13M1089 1273.5h12M1088 1274.5h13M1025 1271.5h12M1024 1272.5h13M1091 1261.5h12M1090 1262.5h13M1019 1258.5h12M1018 1259.5h13M1027 1258.5h12M1026 1259.5h13M1060 1255.5h12M1059 1256.5h13M1087 1250.5h12M1086 1251.5h13M1014 1248.5h12M1013 1249.5h13M1040 1246.5h12M1039 1247.5h13M986 1252.5h12M985 1253.5h13M1094 1237.5h12M1093 1238.5h13M1102 1237.5h12M1101 1238.5h13M1024 1237.5h12M1023 1238.5h13M1040 1230.5h12M1039 1231.5h13M992 1232.5h12M991 1233.5h13M992 1237.5h12M991 1238.5h13M1097 1224.5h12M1096 1225.5h13M1124 1222.5h12M1123 1223.5h13M1000 1215.5h12M999 1216.5h13M1012 1213.5h12M1011 1214.5h13M1018 1215.5h12M1017 1216.5h13M1024 1208.5h12M1023 1209.5h13M1065 1208.5h12M1064 1209.5h13M1084 1202.5h12M1083 1203.5h13M1156 1212.5h12M1155 1213.5h13M1167 1202.5h12M1166 1203.5h13M1012 1198.5h12M1011 1199.5h13M1043 1192.5h12M1042 1193.5h13M1070 1190.5h12M1069 1191.5h13M1118 1190.5h12M1117 1191.5h13M1031 1181.5h12M1030 1182.5h13M1162 1176.5h12M1161 1177.5h13M1055 1169.5h12M1054 1170.5h13M1063 1174.5h12M1062 1175.5h13M1068 1178.5h12M1067 1179.5h13M1076 1177.5h12M1075 1178.5h13M1077 1176.5h12M1076 1177.5h13M1101 1173.5h12M1100 1174.5h13M1103 1170.5h12M1102 1171.5h13M1146 1160.5h12M1145 1161.5h13M1184 1156.5h12M1183 1157.5h13M1115 1157.5h12M1114 1158.5h13M1059 1157.5h12M1058 1158.5h13M1227 1152.5h12M1226 1153.5h13M1228 1148.5h12M1227 1149.5h13M1133 1150.5h12M1132 1151.5h13M1150 1151.5h12M1149 1152.5h13M1156 1144.5h12M1155 1145.5h13M1170 1149.5h12M1169 1150.5h13M1092 1150.5h12M1091 1151.5h13M1100 1146.5h12M1099 1147.5h13M1064 1146.5h12M1063 1147.5h13M1195 1141.5h12M1194 1142.5h13M1256 1137.5h12M1255 1138.5h13M1226 1133.5h12M1225 1134.5h13M1143 1133.5h12M1142 1134.5h13M1165 1129.5h12M1164 1130.5h13M1084 1133.5h12M1083 1134.5h13M1050 1133.5h12M1049 1134.5h13M1033 1126.5h12M1032 1127.5h13M1221 1109.5h12M1220 1110.5h13M1223 1107.5h12M1222 1108.5h13M1232 1105.5h12M1231 1106.5h13M1240 1113.5h12M1239 1114.5h13M1253 1107.5h12M1252 1108.5h13M1193 1094.5h12M1192 1095.5h13M1234 1090.5h12M1233 1091.5h13M1262 1083.5h12M1261 1084.5h13M1264 1084.5h12M1263 1085.5h13M1219 1071.5h12M1218 1072.5h13M1273 1068.5h12M1272 1069.5h13M1301 1062.5h12M1300 1063.5h13M1310 1056.5h12M1309 1057.5h13M1244 1058.5h12M1243 1059.5h13M1276 1050.5h12M1275 1051.5h13M1324 1015.5h12M1323 1016.5h13M1333 1017.5h12M1332 1018.5h13M1294 1000.5h12M1293 1001.5h13M1287 1008.5h12M1286 1009.5h13M1396 1131.5h12M1395 1132.5h13M1388 1145.5h12M1387 1146.5h13M1397 1241.5h12M1396 1242.5h13M1389 1041.5h12M1388 1042.5h13M1378 1022.5h12M1377 1023.5h13M1378 1031.5h12M1377 1032.5h13M1390 1027.5h12M1389 1028.5h13M1393 1029.5h12M1392 1030.5h13M1350 1004.5h12M1349 1005.5h13M1357 1009.5h12M1356 1010.5h13M1385 986.5h12M1384 987.5h13M1350 963.5h12M1349 964.5h13M1355 972.5h12M1354 973.5h13M1391 944.5h12M1390 945.5h13M1377 924.5h12M1376 925.5h13M1387 908.5h12M1386 909.5h13M1401 908.5h12M1400 909.5h13M1258 1038.5h12M1257 1039.5h13M426 1317.5h12M425 1318.5h13M423 1325.5h12M422 1326.5h13M433 1327.5h12M432 1328.5h13M437 1333.5h12M436 1334.5h13M341 1332.5h12M340 1333.5h13M352 1329.5h12M351 1330.5h13M363 1329.5h12M362 1330.5h13M398 1328.5h12M397 1329.5h13M350 1343.5h12M349 1344.5h13M349 1349.5h12M348 1350.5h13M332 1356.5h12M331 1357.5h13M357 1362.5h12M356 1363.5h13M362 1369.5h12M361 1370.5h13M394 1349.5h12M393 1350.5h13M404 1349.5h12M403 1350.5h13M417 1353.5h12M416 1354.5h13M419 1355.5h12M418 1356.5h13M426 1370.5h12M425 1371.5h13M435 1369.5h12M434 1370.5h13M301 1371.5h12M300 1372.5h13M303 1376.5h12M302 1377.5h13M329 1376.5h12M328 1377.5h13M340 1383.5h12M339 1384.5h13M374 1381.5h12M373 1382.5h13M360 1387.5h12M359 1388.5h13M397 1376.5h12M396 1377.5h13M414 1380.5h12M413 1381.5h13M320 1390.5h12M319 1391.5h13M316 1397.5h12M315 1398.5h13M319 1402.5h12M318 1403.5h13M324 1406.5h12M323 1407.5h13M396 1390.5h12M395 1391.5h13M395 1396.5h12M394 1397.5h13M385 1401.5h12M384 1402.5h13M432 1392.5h12M431 1393.5h13M419 1401.5h12M418 1402.5h13M420 1407.5h12M419 1408.5h13M248 1397.5h12M247 1398.5h13M245 1401.5h12M244 1402.5h13M243 1410.5h12M242 1411.5h13M247 1416.5h12M246 1417.5h13M268 1411.5h12M267 1412.5h13M305 1421.5h12M304 1422.5h13M335 1419.5h12M334 1420.5h13M331 1432.5h12M330 1433.5h13M375 1421.5h12M374 1422.5h13M376 1425.5h12M375 1426.5h13M389 1414.5h12M388 1415.5h13M389 1422.5h12M388 1423.5h13M392 1426.5h12M391 1427.5h13M395 1431.5h12M394 1432.5h13M426 1421.5h12M425 1422.5h13M427 1422.5h12M426 1423.5h13M410 1440.5h12M409 1441.5h13M419 1439.5h12M418 1440.5h13M203 1427.5h12M202 1428.5h13M215 1442.5h12M214 1443.5h13M220 1463.5h12M219 1464.5h13M280 1433.5h12M279 1434.5h13M282 1443.5h12M281 1444.5h13M292 1439.5h12M291 1440.5h13M297 1445.5h12M296 1446.5h13M283 1449.5h12M282 1450.5h13M281 1457.5h12M280 1458.5h13M255 1445.5h12M254 1446.5h13M246 1452.5h12M245 1453.5h13M256 1457.5h12M255 1458.5h13M269 1453.5h12M268 1454.5h13M269 1454.5h12M268 1455.5h13M261 1465.5h12M260 1466.5h13M315 1441.5h12M314 1442.5h13M319 1440.5h12M318 1441.5h13M311 1445.5h12M310 1446.5h13M322 1448.5h12M321 1449.5h13M300 1453.5h12M299 1454.5h13M310 1454.5h12M309 1455.5h13M337 1451.5h12M336 1452.5h13M353 1441.5h12M352 1442.5h13M369 1445.5h12M368 1446.5h13M380 1445.5h12M379 1446.5h13M393 1441.5h12M392 1442.5h13M394 1448.5h12M393 1449.5h13M370 1459.5h12M369 1460.5h13M388 1461.5h12M387 1462.5h13M397 1456.5h12M396 1457.5h13M401 1459.5h12M400 1460.5h13M432 1450.5h12M431 1451.5h13M437 1450.5h12M436 1451.5h13M292 1469.5h12M291 1470.5h13M321 1476.5h12M320 1477.5h13M314 1480.5h12M313 1481.5h13M339 1478.5h12M338 1479.5h13M408 1472.5h12M407 1473.5h13M417 1475.5h12M416 1476.5h13M398 1483.5h12M397 1484.5h13M401 1484.5h12M400 1485.5h13M224 1482.5h12M223 1483.5h13M225 1483.5h12M224 1484.5h13M235 1487.5h12M234 1488.5h13M293 1479.5h12M292 1480.5h13M294 1488.5h12M293 1489.5h13M246 1494.5h12M245 1495.5h13M252 1494.5h12M251 1495.5h13M274 1492.5h12M273 1493.5h13M269 1496.5h12M268 1497.5h13M306 1491.5h12M305 1492.5h13M334 1492.5h12M333 1493.5h13M347 1496.5h12M346 1497.5h13M359 1497.5h12M358 1498.5h13M433 1484.5h12M432 1485.5h13M422 1489.5h12M421 1490.5h13M430 1498.5h12M429 1499.5h13M404 1502.5h12M403 1503.5h13M410 1512.5h12M409 1513.5h13M211 1501.5h12M210 1502.5h13M223 1499.5h12M222 1500.5h13M208 1506.5h12M207 1507.5h13M204 1509.5h12M203 1510.5h13M222 1509.5h12M221 1510.5h13M266 1510.5h12M265 1511.5h13M272 1513.5h12M271 1514.5h13M290 1506.5h12M289 1507.5h13M293 1506.5h12M292 1507.5h13M301 1513.5h12M300 1514.5h13M326 1513.5h12M325 1514.5h13M322 1514.5h12M321 1515.5h13M345 1513.5h12M344 1514.5h13M347 1515.5h12M346 1516.5h13M362 1510.5h12M361 1511.5h13M364 1513.5h12M363 1514.5h13M379 1510.5h12M378 1511.5h13M212 1522.5h12M211 1523.5h13M235 1522.5h12M234 1523.5h13M248 1517.5h12M247 1518.5h13M275 1524.5h12M274 1525.5h13M290 1523.5h12M289 1524.5h13M338 1523.5h12M337 1524.5h13M250 1527.5h12M249 1528.5h13M324 1531.5h12M323 1532.5h13M326 1530.5h12M325 1531.5h13M353 1530.5h12M352 1531.5h13M366 1534.5h12M365 1535.5h13M233 1534.5h12M232 1535.5h13M241 1537.5h12M240 1538.5h13M290 1535.5h12M289 1536.5h13M410 1537.5h12M409 1538.5h13M432 1534.5h12M431 1535.5h13M206 1550.5h12M205 1551.5h13M219 1541.5h12M218 1542.5h13M229 1541.5h12M228 1542.5h13M237 1545.5h12M236 1546.5h13M240 1548.5h12M239 1549.5h13M244 1553.5h12M243 1554.5h13M251 1544.5h12M250 1545.5h13M268 1543.5h12M267 1544.5h13M280 1542.5h12M279 1543.5h13M287 1548.5h12M286 1549.5h13M289 1549.5h12M288 1550.5h13M313 1547.5h12M312 1548.5h13M319 1548.5h12M318 1549.5h13M328 1555.5h12M327 1556.5h13M344 1541.5h12M343 1542.5h13M342 1553.5h12M341 1554.5h13M355 1541.5h12M354 1542.5h13M361 1545.5h12M360 1546.5h13M363 1541.5h12M362 1542.5h13M380 1548.5h12M379 1549.5h13M385 1551.5h12M384 1552.5h13M424 1543.5h12M423 1544.5h13M410 1541.5h12M409 1542.5h13M229 1558.5h12M228 1559.5h13M240 1565.5h12M239 1566.5h13M238 1571.5h12M237 1572.5h13M261 1559.5h12M260 1560.5h13M259 1568.5h12M258 1569.5h13M278 1560.5h12M277 1561.5h13M305 1559.5h12M304 1560.5h13M295 1569.5h12M294 1570.5h13M332 1569.5h12M331 1570.5h13M329 1573.5h12M328 1574.5h13M347 1562.5h12M346 1563.5h13M384 1561.5h12M383 1562.5h13M385 1564.5h12M384 1565.5h13M399 1562.5h12M398 1563.5h13M226 1580.5h12M225 1581.5h13M266 1579.5h12M265 1580.5h13M279 1582.5h12M278 1583.5h13M241 1587.5h12M240 1588.5h13M254 1589.5h12M253 1590.5h13M409 1579.5h12M408 1580.5h13M410 1580.5h12M409 1581.5h13M424 1577.5h12M423 1578.5h13M429 1573.5h12M428 1574.5h13M433 1572.5h12M432 1573.5h13M357 1585.5h12M356 1586.5h13M340 1589.5h12M339 1590.5h13M209 1589.5h12M208 1590.5h13M215 1589.5h12M214 1590.5h13M226 1593.5h12M225 1594.5h13M228 1597.5h12M227 1598.5h13M214 1603.5h12M213 1604.5h13M281 1598.5h12M280 1599.5h13M371 1596.5h12M370 1597.5h13M373 1597.5h12M372 1598.5h13M333 1598.5h12M332 1599.5h13M408 1600.5h12M407 1601.5h13M432 1589.5h12M431 1590.5h13M437 1584.5h12M436 1585.5h13M272 1607.5h12M271 1608.5h13M276 1610.5h12M275 1611.5h13M224 1610.5h12M223 1611.5h13M221 1616.5h12M220 1617.5h13M307 1604.5h12M306 1605.5h13M286 1617.5h12M285 1618.5h13M355 1609.5h12M354 1610.5h13M362 1609.5h12M361 1610.5h13M372 1609.5h12M371 1610.5h13M372 1619.5h12M371 1620.5h13M388 1615.5h12M387 1616.5h13M233 1623.5h12M232 1624.5h13M206 1629.5h12M205 1630.5h13M217 1632.5h12M216 1633.5h13M265 1624.5h12M264 1625.5h13M253 1632.5h12M252 1633.5h13M343 1626.5h12M342 1627.5h13M347 1629.5h12M346 1630.5h13M373 1623.5h12M372 1624.5h13M379 1630.5h12M378 1631.5h13M380 1632.5h12M379 1633.5h13M390 1629.5h12M389 1630.5h13M415 1623.5h12M414 1624.5h13M416 1627.5h12M415 1628.5h13M414 1634.5h12M413 1635.5h13M438 1627.5h12M437 1628.5h13M237 1635.5h12M236 1636.5h13M227 1641.5h12M226 1642.5h13M222 1641.5h12M221 1642.5h13M258 1645.5h12M257 1646.5h13M296 1639.5h12M295 1640.5h13M310 1637.5h12M309 1638.5h13M329 1638.5h12M328 1639.5h13M429 1695.5h12M428 1696.5h13M659 1097.5h12M658 1098.5h13M677 1110.5h12M676 1111.5h13M595 1116.5h12M594 1117.5h13M602 1122.5h12M601 1123.5h13M597 1128.5h12M596 1129.5h13M624 1126.5h12M623 1127.5h13M647 1141.5h12M646 1142.5h13M657 1140.5h12M656 1141.5h13M644 1148.5h12M643 1149.5h13M657 1148.5h12M656 1149.5h13M582 1158.5h12M581 1159.5h13M618 1164.5h12M617 1165.5h13M611 1175.5h12M610 1176.5h13M637 1174.5h12M636 1175.5h13M629 1181.5h12M628 1182.5h13M670 1158.5h12M669 1159.5h13M664 1164.5h12M663 1165.5h13M673 1181.5h12M672 1182.5h13M488 1213.5h12M487 1214.5h13M587 1186.5h12M586 1187.5h13M594 1192.5h12M593 1193.5h13M591 1196.5h12M590 1197.5h13M594 1201.5h12M593 1202.5h13M631 1194.5h12M630 1195.5h13M667 1190.5h12M666 1191.5h13M641 1207.5h12M640 1208.5h13M627 1214.5h12M626 1215.5h13M550 1207.5h12M549 1208.5h13M529 1213.5h12M528 1214.5h13M589 1219.5h12M588 1220.5h13M494 1228.5h12M493 1229.5h13M498 1230.5h12M497 1231.5h13M505 1236.5h12M504 1237.5h13M536 1227.5h12M535 1228.5h13M538 1232.5h12M537 1233.5h13M535 1241.5h12M534 1242.5h13M547 1244.5h12M546 1245.5h13M545 1253.5h12M544 1254.5h13M623 1235.5h12M622 1236.5h13M609 1241.5h12M608 1242.5h13M624 1245.5h12M623 1246.5h13M632 1242.5h12M631 1243.5h13M627 1239.5h12M626 1240.5h13M462 1246.5h12M461 1247.5h13M486 1243.5h12M485 1244.5h13M482 1253.5h12M481 1254.5h13M517 1246.5h12M516 1247.5h13M445 1253.5h12M444 1254.5h13M442 1264.5h12M441 1265.5h13M462 1267.5h12M461 1268.5h13M462 1268.5h12M461 1269.5h13M474 1267.5h12M473 1268.5h13M650 1250.5h12M649 1251.5h13M644 1259.5h12M643 1260.5h13M649 1266.5h12M648 1267.5h13M664 1261.5h12M663 1262.5h13M674 1260.5h12M673 1261.5h13M664 1269.5h12M663 1270.5h13M663 1271.5h12M662 1272.5h13M675 1267.5h12M674 1268.5h13M569 1265.5h12M568 1266.5h13M607 1262.5h12M606 1263.5h13M588 1268.5h12M587 1269.5h13M599 1268.5h12M598 1269.5h13M509 1271.5h12M508 1272.5h13M506 1277.5h12M505 1278.5h13M529 1275.5h12M528 1276.5h13M534 1274.5h12M533 1275.5h13M541 1283.5h12M540 1284.5h13M579 1275.5h12M578 1276.5h13M573 1278.5h12M572 1279.5h13M581 1284.5h12M580 1285.5h13M612 1280.5h12M611 1281.5h13M608 1283.5h12M607 1284.5h13M627 1281.5h12M626 1282.5h13M600 1286.5h12M599 1287.5h13M592 1289.5h12M591 1290.5h13M481 1284.5h12M480 1285.5h13M496 1285.5h12M495 1286.5h13M501 1288.5h12M500 1289.5h13M484 1295.5h12M483 1296.5h13M467 1292.5h12M466 1293.5h13M464 1299.5h12M463 1300.5h13M453 1300.5h12M452 1301.5h13M554 1294.5h12M553 1295.5h13M582 1298.5h12M581 1299.5h13M673 1285.5h12M672 1286.5h13M674 1286.5h12M673 1287.5h13M677 1289.5h12M676 1290.5h13M658 1298.5h12M657 1299.5h13M660 1300.5h12M659 1301.5h13M659 1305.5h12M658 1306.5h13M510 1307.5h12M509 1308.5h13M553 1312.5h12M552 1313.5h13M564 1310.5h12M563 1311.5h13M572 1309.5h12M571 1310.5h13M577 1313.5h12M576 1314.5h13M607 1311.5h12M606 1312.5h13M622 1306.5h12M621 1307.5h13M630 1309.5h12M629 1310.5h13M634 1316.5h12M633 1317.5h13M640 1320.5h12M639 1321.5h13M644 1311.5h12M643 1312.5h13M648 1310.5h12M647 1311.5h13M519 1319.5h12M518 1320.5h13M528 1322.5h12M527 1323.5h13M483 1326.5h12M482 1327.5h13M509 1326.5h12M508 1327.5h13M550 1327.5h12M549 1328.5h13M612 1325.5h12M611 1326.5h13M651 1330.5h12M650 1331.5h13M670 1325.5h12M669 1326.5h13M478 1339.5h12M477 1340.5h13M501 1335.5h12M500 1336.5h13M503 1339.5h12M502 1340.5h13M499 1341.5h12M498 1342.5h13M519 1341.5h12M518 1342.5h13M533 1342.5h12M532 1343.5h13M539 1343.5h12M538 1344.5h13M559 1337.5h12M558 1338.5h13M556 1342.5h12M555 1343.5h13M591 1337.5h12M590 1338.5h13M620 1337.5h12M619 1338.5h13M615 1341.5h12M614 1342.5h13M636 1341.5h12M635 1342.5h13M641 1344.5h12M640 1345.5h13M446 1342.5h12M445 1343.5h13M442 1347.5h12M441 1348.5h13M460 1347.5h12M459 1348.5h13M487 1347.5h12M486 1348.5h13M585 1347.5h12M584 1348.5h13M664 1347.5h12M663 1348.5h13M444 1354.5h12M443 1355.5h13M448 1356.5h12M447 1357.5h13M459 1351.5h12M458 1352.5h13M451 1363.5h12M450 1364.5h13M444 1368.5h12M443 1369.5h13M451 1373.5h12M450 1374.5h13M494 1352.5h12M493 1353.5h13M496 1356.5h12M495 1357.5h13M505 1361.5h12M504 1362.5h13M534 1351.5h12M533 1352.5h13M539 1360.5h12M538 1361.5h13M542 1361.5h12M541 1362.5h13M553 1353.5h12M552 1354.5h13M561 1351.5h12M560 1352.5h13M564 1351.5h12M563 1352.5h13M587 1360.5h12M586 1361.5h13M589 1361.5h12M588 1362.5h13M585 1351.5h12M584 1352.5h13M616 1361.5h12M615 1362.5h13M616 1363.5h12M615 1364.5h13M641 1351.5h12M640 1352.5h13M653 1352.5h12M652 1353.5h13M661 1351.5h12M660 1352.5h13M562 1373.5h12M561 1374.5h13M493 1378.5h12M492 1379.5h13M501 1377.5h12M500 1378.5h13M500 1387.5h12M499 1388.5h13M529 1380.5h12M528 1381.5h13M531 1382.5h12M530 1383.5h13M585 1383.5h12M584 1384.5h13M597 1378.5h12M596 1379.5h13M637 1369.5h12M636 1370.5h13M641 1368.5h12M640 1369.5h13M626 1373.5h12M625 1374.5h13M623 1387.5h12M622 1388.5h13M654 1383.5h12M653 1384.5h13M567 1392.5h12M566 1393.5h13M444 1394.5h12M443 1395.5h13M451 1397.5h12M450 1398.5h13M521 1396.5h12M520 1397.5h13M526 1399.5h12M525 1400.5h13M598 1393.5h12M597 1394.5h13M676 1395.5h12M675 1396.5h13M455 1406.5h12M454 1407.5h13M476 1408.5h12M475 1409.5h13M477 1411.5h12M476 1412.5h13M473 1418.5h12M472 1419.5h13M489 1419.5h12M488 1420.5h13M524 1409.5h12M523 1410.5h13M511 1418.5h12M510 1419.5h13M508 1421.5h12M507 1422.5h13M616 1399.5h12M615 1400.5h13M628 1401.5h12M627 1402.5h13M630 1401.5h12M629 1402.5h13M637 1399.5h12M636 1400.5h13M644 1399.5h12M643 1400.5h13M646 1410.5h12M645 1411.5h13M577 1407.5h12M576 1408.5h13M583 1404.5h12M582 1405.5h13M577 1411.5h12M576 1412.5h13M612 1422.5h12M611 1423.5h13M469 1427.5h12M468 1428.5h13M490 1429.5h12M489 1430.5h13M523 1426.5h12M522 1427.5h13M516 1426.5h12M515 1427.5h13M541 1422.5h12M540 1423.5h13M580 1426.5h12M579 1427.5h13M629 1435.5h12M628 1436.5h13M638 1432.5h12M637 1433.5h13M644 1440.5h12M643 1441.5h13M659 1441.5h12M658 1442.5h13M666 1430.5h12M665 1431.5h13M677 1427.5h12M676 1428.5h13M477 1439.5h12M476 1440.5h13M462 1444.5h12M461 1445.5h13M466 1445.5h12M465 1446.5h13M445 1447.5h12M444 1448.5h13M562 1437.5h12M561 1438.5h13M547 1443.5h12M546 1444.5h13M567 1443.5h12M566 1444.5h13M571 1447.5h12M570 1448.5h13M572 1449.5h12M571 1450.5h13M570 1446.5h12M569 1447.5h13M593 1445.5h12M592 1446.5h13M619 1447.5h12M618 1448.5h13M476 1455.5h12M475 1456.5h13M514 1451.5h12M513 1452.5h13M521 1459.5h12M520 1460.5h13M480 1465.5h12M479 1466.5h13M568 1457.5h12M567 1458.5h13M564 1462.5h12M563 1463.5h13M556 1463.5h12M555 1464.5h13M593 1458.5h12M592 1459.5h13M605 1457.5h12M604 1458.5h13M609 1459.5h12M608 1460.5h13M612 1458.5h12M611 1459.5h13M634 1458.5h12M633 1459.5h13M652 1453.5h12M651 1454.5h13M666 1451.5h12M665 1452.5h13M678 1451.5h12M677 1452.5h13M458 1472.5h12M457 1473.5h13M471 1474.5h12M470 1475.5h13M491 1474.5h12M490 1475.5h13M491 1477.5h12M490 1478.5h13M527 1470.5h12M526 1471.5h13M547 1470.5h12M546 1471.5h13M544 1479.5h12M543 1480.5h13M545 1484.5h12M544 1485.5h13M565 1469.5h12M564 1470.5h13M576 1472.5h12M575 1473.5h13M603 1476.5h12M602 1477.5h13M602 1479.5h12M601 1480.5h13M604 1477.5h12M603 1478.5h13M624 1475.5h12M623 1476.5h13M637 1473.5h12M636 1474.5h13M647 1474.5h12M646 1475.5h13M655 1472.5h12M654 1473.5h13M657 1473.5h12M656 1474.5h13M642 1483.5h12M641 1484.5h13M648 1487.5h12M647 1488.5h13M673 1476.5h12M672 1477.5h13M446 1482.5h12M445 1483.5h13M444 1486.5h12M443 1487.5h13M455 1483.5h12M454 1484.5h13M469 1483.5h12M468 1484.5h13M455 1494.5h12M454 1495.5h13M474 1493.5h12M473 1494.5h13M478 1501.5h12M477 1502.5h13M481 1504.5h12M480 1505.5h13M477 1509.5h12M476 1510.5h13M455 1508.5h12M454 1509.5h13M527 1493.5h12M526 1494.5h13M534 1496.5h12M533 1497.5h13M504 1504.5h12M503 1505.5h13M499 1510.5h12M498 1511.5h13M516 1506.5h12M515 1507.5h13M532 1510.5h12M531 1511.5h13M542 1507.5h12M541 1508.5h13M568 1505.5h12M567 1506.5h13M562 1510.5h12M561 1511.5h13M580 1513.5h12M579 1514.5h13M595 1490.5h12M594 1491.5h13M605 1492.5h12M604 1493.5h13M593 1497.5h12M592 1498.5h13M605 1497.5h12M604 1498.5h13M677 1505.5h12M676 1506.5h13M450 1526.5h12M449 1527.5h13M470 1526.5h12M469 1527.5h13M488 1529.5h12M487 1530.5h13M559 1519.5h12M558 1520.5h13M551 1522.5h12M550 1523.5h13M546 1527.5h12M545 1528.5h13M584 1525.5h12M583 1526.5h13M515 1529.5h12M514 1530.5h13M506 1532.5h12M505 1533.5h13M509 1537.5h12M508 1538.5h13M531 1533.5h12M530 1534.5h13M528 1537.5h12M527 1538.5h13M548 1535.5h12M547 1536.5h13M459 1543.5h12M458 1544.5h13M463 1550.5h12M462 1551.5h13M512 1546.5h12M511 1547.5h13M575 1538.5h12M574 1539.5h13M577 1539.5h12M576 1540.5h13M563 1547.5h12M562 1548.5h13M580 1556.5h12M579 1557.5h13M455 1560.5h12M454 1561.5h13M473 1567.5h12M472 1568.5h13M502 1561.5h12M501 1562.5h13M509 1564.5h12M508 1565.5h13M511 1565.5h12M510 1566.5h13M558 1561.5h12M557 1562.5h13M566 1562.5h12M565 1563.5h13M569 1565.5h12M568 1566.5h13M536 1569.5h12M535 1570.5h13M541 1583.5h12M540 1584.5h13M469 1588.5h12M468 1589.5h13M487 1587.5h12M486 1588.5h13M550 1589.5h12M549 1590.5h13M537 1596.5h12M536 1597.5h13M451 1603.5h12M450 1604.5h13M498 1604.5h12M497 1605.5h13M514 1604.5h12M513 1605.5h13M503 1619.5h12M502 1620.5h13M530 1620.5h12M529 1621.5h13M474 1624.5h12M473 1625.5h13M442 1627.5h12M441 1628.5h13M557 1628.5h12M556 1629.5h13M556 1632.5h12M555 1633.5h13M481 1634.5h12M480 1635.5h13M501 1639.5h12M500 1640.5h13M498 1641.5h12M497 1642.5h13M542 1638.5h12M541 1639.5h13M825 987.5h12M824 988.5h13M799 1009.5h12M798 1010.5h13M793 1017.5h12M792 1018.5h13M820 1007.5h12M819 1008.5h13M886 1007.5h12M885 1008.5h13M890 1009.5h12M889 1010.5h13M840 1016.5h12M839 1017.5h13M846 1015.5h12M845 1016.5h13M847 1018.5h12M846 1019.5h13M874 1018.5h12M873 1019.5h13M911 1005.5h12M910 1006.5h13M917 998.5h12M916 999.5h13M917 1011.5h12M916 1012.5h13M918 1016.5h12M917 1017.5h13M849 1028.5h12M848 1029.5h13M846 1032.5h12M845 1033.5h13M826 1037.5h12M825 1038.5h13M908 1026.5h12M907 1027.5h13M914 1023.5h12M913 1024.5h13M891 1034.5h12M890 1035.5h13M884 1039.5h12M883 1040.5h13M900 1037.5h12M899 1038.5h13M904 1041.5h12M903 1042.5h13M917 1041.5h12M916 1042.5h13M843 1041.5h12M842 1042.5h13M841 1045.5h12M840 1046.5h13M845 1048.5h12M844 1049.5h13M831 1052.5h12M830 1053.5h13M815 1055.5h12M814 1056.5h13M814 1066.5h12M813 1067.5h13M905 1051.5h12M904 1052.5h13M717 1068.5h12M716 1069.5h13M730 1071.5h12M729 1072.5h13M737 1071.5h12M736 1072.5h13M776 1076.5h12M775 1077.5h13M883 1073.5h12M882 1074.5h13M887 1085.5h12M886 1086.5h13M709 1084.5h12M708 1085.5h13M713 1092.5h12M712 1093.5h13M731 1094.5h12M730 1095.5h13M767 1093.5h12M766 1094.5h13M717 1101.5h12M716 1102.5h13M697 1104.5h12M696 1105.5h13M704 1113.5h12M703 1114.5h13M778 1107.5h12M777 1108.5h13M788 1108.5h12M787 1109.5h13M791 1107.5h12M790 1108.5h13M791 1116.5h12M790 1117.5h13M868 1103.5h12M867 1104.5h13M869 1106.5h12M868 1107.5h13M877 1106.5h12M876 1107.5h13M884 1107.5h12M883 1108.5h13M895 1114.5h12M894 1115.5h13M917 1112.5h12M916 1113.5h13M860 1117.5h12M859 1118.5h13M867 1120.5h12M866 1121.5h13M872 1116.5h12M871 1117.5h13M876 1120.5h12M875 1121.5h13M835 1120.5h12M834 1121.5h13M841 1121.5h12M840 1122.5h13M842 1123.5h12M841 1124.5h13M810 1125.5h12M809 1126.5h13M824 1129.5h12M823 1130.5h13M733 1127.5h12M732 1128.5h13M747 1126.5h12M746 1127.5h13M777 1129.5h12M776 1130.5h13M709 1131.5h12M708 1132.5h13M754 1137.5h12M753 1138.5h13M899 1127.5h12M898 1128.5h13M895 1131.5h12M894 1132.5h13M885 1133.5h12M884 1134.5h13M705 1142.5h12M704 1143.5h13M702 1147.5h12M701 1148.5h13M724 1147.5h12M723 1148.5h13M776 1142.5h12M775 1143.5h13M781 1144.5h12M780 1145.5h13M787 1145.5h12M786 1146.5h13M779 1147.5h12M778 1148.5h13M863 1138.5h12M862 1139.5h13M873 1143.5h12M872 1144.5h13M902 1144.5h12M901 1145.5h13M838 1147.5h12M837 1148.5h13M801 1148.5h12M800 1149.5h13M682 1164.5h12M681 1165.5h13M693 1158.5h12M692 1159.5h13M696 1159.5h12M695 1160.5h13M715 1160.5h12M714 1161.5h13M711 1167.5h12M710 1168.5h13M724 1151.5h12M723 1152.5h13M764 1159.5h12M763 1160.5h13M756 1166.5h12M755 1167.5h13M776 1151.5h12M775 1152.5h13M787 1151.5h12M786 1152.5h13M794 1150.5h12M793 1151.5h13M804 1151.5h12M803 1152.5h13M804 1158.5h12M803 1159.5h13M817 1158.5h12M816 1159.5h13M834 1157.5h12M833 1158.5h13M838 1151.5h12M837 1152.5h13M773 1172.5h12M772 1173.5h13M788 1168.5h12M787 1169.5h13M797 1167.5h12M796 1168.5h13M802 1164.5h12M801 1165.5h13M856 1161.5h12M855 1162.5h13M852 1165.5h12M851 1166.5h13M860 1164.5h12M859 1165.5h13M884 1160.5h12M883 1161.5h13M887 1166.5h12M886 1167.5h13M907 1159.5h12M906 1160.5h13M909 1167.5h12M908 1168.5h13M909 1171.5h12M908 1172.5h13M738 1176.5h12M737 1177.5h13M734 1182.5h12M733 1183.5h13M749 1176.5h12M748 1177.5h13M813 1179.5h12M812 1180.5h13M828 1176.5h12M827 1177.5h13M860 1179.5h12M859 1180.5h13M874 1183.5h12M873 1184.5h13M888 1182.5h12M887 1183.5h13M899 1175.5h12M898 1176.5h13M905 1190.5h12M904 1191.5h13M902 1193.5h12M901 1194.5h13M875 1193.5h12M874 1194.5h13M756 1191.5h12M755 1192.5h13M783 1186.5h12M782 1187.5h13M777 1190.5h12M776 1191.5h13M795 1188.5h12M794 1189.5h13M805 1187.5h12M804 1188.5h13M790 1194.5h12M789 1195.5h13M797 1198.5h12M796 1199.5h13M821 1196.5h12M820 1197.5h13M687 1196.5h12M686 1197.5h13M681 1199.5h12M680 1200.5h13M723 1202.5h12M722 1203.5h13M771 1201.5h12M770 1202.5h13M768 1205.5h12M767 1206.5h13M806 1201.5h12M805 1202.5h13M809 1203.5h12M808 1204.5h13M827 1201.5h12M826 1202.5h13M831 1203.5h12M830 1204.5h13M837 1202.5h12M836 1203.5h13M849 1200.5h12M848 1201.5h13M858 1204.5h12M857 1205.5h13M856 1213.5h12M855 1214.5h13M891 1205.5h12M890 1206.5h13M913 1201.5h12M912 1202.5h13M881 1212.5h12M880 1213.5h13M871 1216.5h12M870 1217.5h13M902 1211.5h12M901 1212.5h13M913 1218.5h12M912 1219.5h13M757 1216.5h12M756 1217.5h13M725 1219.5h12M724 1220.5h13M739 1219.5h12M738 1220.5h13M735 1220.5h12M734 1221.5h13M774 1223.5h12M773 1224.5h13M795 1224.5h12M794 1225.5h13M825 1216.5h12M824 1217.5h13M838 1220.5h12M837 1221.5h13M691 1229.5h12M690 1230.5h13M699 1229.5h12M698 1230.5h13M720 1224.5h12M719 1225.5h13M718 1229.5h12M717 1230.5h13M720 1231.5h12M719 1232.5h13M760 1232.5h12M759 1233.5h13M762 1237.5h12M761 1238.5h13M792 1235.5h12M791 1236.5h13M822 1228.5h12M821 1229.5h13M834 1226.5h12M833 1227.5h13M849 1235.5h12M848 1236.5h13M865 1238.5h12M864 1239.5h13M877 1244.5h12M876 1245.5h13M897 1221.5h12M896 1222.5h13M895 1239.5h12M894 1240.5h13M904 1237.5h12M903 1238.5h13M909 1241.5h12M908 1242.5h13M735 1241.5h12M734 1242.5h13M731 1248.5h12M730 1249.5h13M718 1247.5h12M717 1248.5h13M748 1247.5h12M747 1248.5h13M751 1249.5h12M750 1250.5h13M802 1239.5h12M801 1240.5h13M802 1245.5h12M801 1246.5h13M813 1237.5h12M812 1238.5h13M817 1242.5h12M816 1243.5h13M696 1248.5h12M695 1249.5h13M699 1256.5h12M698 1257.5h13M695 1261.5h12M694 1262.5h13M688 1265.5h12M687 1266.5h13M681 1266.5h12M680 1267.5h13M684 1272.5h12M683 1273.5h13M763 1256.5h12M762 1257.5h13M765 1261.5h12M764 1262.5h13M762 1258.5h12M761 1259.5h13M751 1265.5h12M750 1266.5h13M784 1249.5h12M783 1250.5h13M781 1258.5h12M780 1259.5h13M782 1266.5h12M781 1267.5h13M788 1267.5h12M787 1268.5h13M839 1253.5h12M838 1254.5h13M831 1268.5h12M830 1269.5h13M856 1267.5h12M855 1268.5h13M852 1273.5h12M851 1274.5h13M882 1266.5h12M881 1267.5h13M889 1268.5h12M888 1269.5h13M706 1273.5h12M705 1274.5h13M691 1279.5h12M690 1280.5h13M755 1279.5h12M754 1280.5h13M781 1279.5h12M780 1280.5h13M774 1284.5h12M773 1285.5h13M773 1287.5h12M772 1288.5h13M815 1278.5h12M814 1279.5h13M827 1279.5h12M826 1280.5h13M826 1285.5h12M825 1286.5h13M820 1291.5h12M819 1292.5h13M812 1295.5h12M811 1296.5h13M817 1293.5h12M816 1294.5h13M818 1290.5h12M817 1291.5h13M872 1276.5h12M871 1277.5h13M870 1287.5h12M869 1288.5h13M875 1287.5h12M874 1288.5h13M846 1289.5h12M845 1290.5h13M892 1292.5h12M891 1293.5h13M738 1290.5h12M737 1291.5h13M745 1297.5h12M744 1298.5h13M729 1299.5h12M728 1300.5h13M686 1297.5h12M685 1298.5h13M766 1296.5h12M765 1297.5h13M770 1303.5h12M769 1304.5h13M771 1304.5h12M770 1305.5h13M794 1294.5h12M793 1295.5h13M792 1297.5h12M791 1298.5h13M872 1295.5h12M871 1296.5h13M907 1299.5h12M906 1300.5h13M915 1299.5h12M914 1300.5h13M834 1308.5h12M833 1309.5h13M727 1313.5h12M726 1314.5h13M781 1315.5h12M780 1316.5h13M820 1317.5h12M819 1318.5h13M690 1319.5h12M689 1320.5h13M702 1318.5h12M701 1319.5h13M710 1319.5h12M709 1320.5h13M725 1323.5h12M724 1324.5h13M770 1323.5h12M769 1324.5h13M752 1328.5h12M751 1329.5h13M736 1330.5h12M735 1331.5h13M853 1324.5h12M852 1325.5h13M918 1319.5h12M917 1320.5h13M907 1333.5h12M906 1334.5h13M915 1334.5h12M914 1335.5h13M684 1343.5h12M683 1344.5h13M688 1349.5h12M687 1350.5h13M691 1352.5h12M690 1353.5h13M699 1353.5h12M698 1354.5h13M736 1347.5h12M735 1348.5h13M732 1358.5h12M731 1359.5h13M720 1358.5h12M719 1359.5h13M721 1359.5h12M720 1360.5h13M804 1350.5h12M803 1351.5h13M806 1354.5h12M805 1355.5h13M814 1347.5h12M813 1348.5h13M799 1361.5h12M798 1362.5h13M807 1361.5h12M806 1362.5h13M811 1364.5h12M810 1365.5h13M845 1346.5h12M844 1347.5h13M868 1353.5h12M867 1354.5h13M851 1361.5h12M850 1362.5h13M899 1346.5h12M898 1347.5h13M743 1364.5h12M742 1365.5h13M746 1365.5h12M745 1366.5h13M751 1365.5h12M750 1366.5h13M737 1371.5h12M736 1372.5h13M705 1372.5h12M704 1373.5h13M713 1372.5h12M712 1373.5h13M774 1373.5h12M773 1374.5h13M821 1379.5h12M820 1380.5h13M795 1385.5h12M794 1386.5h13M808 1388.5h12M807 1389.5h13M687 1387.5h12M686 1388.5h13M686 1391.5h12M685 1392.5h13M716 1387.5h12M715 1388.5h13M713 1390.5h12M712 1391.5h13M757 1388.5h12M756 1389.5h13M752 1392.5h12M751 1393.5h13M765 1388.5h12M764 1389.5h13M688 1398.5h12M687 1399.5h13M695 1405.5h12M694 1406.5h13M707 1404.5h12M706 1405.5h13M704 1413.5h12M703 1414.5h13M741 1409.5h12M740 1410.5h13M742 1413.5h12M741 1414.5h13M728 1418.5h12M727 1419.5h13M689 1429.5h12M688 1430.5h13M741 1434.5h12M740 1435.5h13M746 1435.5h12M745 1436.5h13M751 1431.5h12M750 1432.5h13M744 1451.5h12M743 1452.5h13M739 1458.5h12M738 1459.5h13M732 1462.5h12M731 1463.5h13M696 1461.5h12M695 1462.5h13M702 1467.5h12M701 1468.5h13M701 1471.5h12M700 1472.5h13M701 1476.5h12M700 1477.5h13M681 1507.5h12M680 1508.5h13M1144 745.5h12M1143 746.5h13M1098 761.5h12M1097 762.5h13M1104 763.5h12M1103 764.5h13M1107 758.5h12M1106 759.5h13M1117 756.5h12M1116 757.5h13M1090 769.5h12M1089 770.5h13M1121 776.5h12M1120 777.5h13M1149 774.5h12M1148 775.5h13M1152 770.5h12M1151 771.5h13M1157 769.5h12M1156 770.5h13M1008 778.5h12M1007 779.5h13M1082 783.5h12M1081 784.5h13M1077 793.5h12M1076 794.5h13M1046 796.5h12M1045 797.5h13M1117 794.5h12M1116 795.5h13M1125 793.5h12M1124 794.5h13M1108 799.5h12M1107 800.5h13M1114 801.5h12M1113 802.5h13M1149 798.5h12M1148 799.5h13M1158 797.5h12M1157 798.5h13M1008 809.5h12M1007 810.5h13M1009 812.5h12M1008 813.5h13M1020 821.5h12M1019 822.5h13M1113 816.5h12M1112 817.5h13M1153 813.5h12M1152 814.5h13M1072 821.5h12M1071 822.5h13M1076 824.5h12M1075 825.5h13M1088 822.5h12M1087 823.5h13M1101 828.5h12M1100 829.5h13M1122 827.5h12M1121 828.5h13M1126 829.5h12M1125 830.5h13M1128 831.5h12M1127 832.5h13M1157 823.5h12M1156 824.5h13M1157 828.5h12M1156 829.5h13M1014 840.5h12M1013 841.5h13M1034 843.5h12M1033 844.5h13M1067 843.5h12M1066 844.5h13M1097 843.5h12M1096 844.5h13M1124 846.5h12M1123 847.5h13M1137 847.5h12M1136 848.5h13M1146 851.5h12M1145 852.5h13M1057 852.5h12M1056 853.5h13M1054 856.5h12M1053 857.5h13M1069 853.5h12M1068 854.5h13M1082 853.5h12M1081 854.5h13M1131 863.5h12M1130 864.5h13M1122 869.5h12M1121 870.5h13M1157 866.5h12M1156 867.5h13M989 864.5h12M988 865.5h13M1035 868.5h12M1034 869.5h13M1048 879.5h12M1047 880.5h13M1140 875.5h12M1139 876.5h13M1138 879.5h12M1137 880.5h13M1142 883.5h12M1141 884.5h13M1007 880.5h12M1006 881.5h13M1044 894.5h12M1043 895.5h13M1053 896.5h12M1052 897.5h13M1080 886.5h12M1079 887.5h13M1081 895.5h12M1080 896.5h13M1097 891.5h12M1096 892.5h13M1106 892.5h12M1105 893.5h13M1109 894.5h12M1108 895.5h13M1121 897.5h12M1120 898.5h13M999 896.5h12M998 897.5h13M1003 895.5h12M1002 896.5h13M979 907.5h12M978 908.5h13M980 909.5h12M979 910.5h13M1016 908.5h12M1015 909.5h13M1071 909.5h12M1070 910.5h13M1101 902.5h12M1100 903.5h13M1096 910.5h12M1095 911.5h13M1138 903.5h12M1137 904.5h13M1142 905.5h12M1141 906.5h13M1152 910.5h12M1151 911.5h13M964 917.5h12M963 918.5h13M964 920.5h12M963 921.5h13M967 923.5h12M966 924.5h13M971 927.5h12M970 928.5h13M994 930.5h12M993 931.5h13M1010 922.5h12M1009 923.5h13M1017 923.5h12M1016 924.5h13M1027 921.5h12M1026 922.5h13M1031 921.5h12M1030 922.5h13M1036 919.5h12M1035 920.5h13M1042 918.5h12M1041 919.5h13M1022 932.5h12M1021 933.5h13M1056 915.5h12M1055 916.5h13M1062 914.5h12M1061 915.5h13M1050 927.5h12M1049 928.5h13M1052 935.5h12M1051 936.5h13M1081 917.5h12M1080 918.5h13M1071 930.5h12M1070 931.5h13M1085 931.5h12M1084 932.5h13M1129 917.5h12M1128 918.5h13M1131 923.5h12M1130 924.5h13M1110 927.5h12M1109 928.5h13M1118 932.5h12M1117 933.5h13M1099 936.5h12M1098 937.5h13M1131 937.5h12M1130 938.5h13M955 945.5h12M954 946.5h13M966 958.5h12M965 959.5h13M999 950.5h12M998 951.5h13M997 960.5h12M996 961.5h13M984 961.5h12M983 962.5h13M1021 954.5h12M1020 955.5h13M1025 959.5h12M1024 960.5h13M1035 956.5h12M1034 957.5h13M1049 955.5h12M1048 956.5h13M1052 941.5h12M1051 942.5h13M1058 948.5h12M1057 949.5h13M1066 953.5h12M1065 954.5h13M1073 951.5h12M1072 952.5h13M1075 952.5h12M1074 953.5h13M1061 962.5h12M1060 963.5h13M1093 952.5h12M1092 953.5h13M1106 945.5h12M1105 946.5h13M1132 944.5h12M1131 945.5h13M1145 942.5h12M1144 943.5h13M1149 951.5h12M1148 952.5h13M1109 966.5h12M1108 967.5h13M1075 969.5h12M1074 970.5h13M1077 972.5h12M1076 973.5h13M930 973.5h12M929 974.5h13M943 977.5h12M942 978.5h13M960 977.5h12M959 978.5h13M1051 980.5h12M1050 981.5h13M1048 989.5h12M1047 990.5h13M1065 989.5h12M1064 990.5h13M1106 979.5h12M1105 980.5h13M1108 988.5h12M1107 989.5h13M1110 973.5h12M1109 974.5h13M1131 977.5h12M1130 978.5h13M1135 986.5h12M1134 987.5h13M1157 989.5h12M1156 990.5h13M942 991.5h12M941 992.5h13M1004 987.5h12M1003 988.5h13M1014 988.5h12M1013 989.5h13M1034 991.5h12M1033 992.5h13M922 997.5h12M921 998.5h13M961 998.5h12M960 999.5h13M971 1002.5h12M970 1003.5h13M974 1004.5h12M973 1005.5h13M981 999.5h12M980 1000.5h13M986 999.5h12M985 1000.5h13M991 1003.5h12M990 1004.5h13M994 1008.5h12M993 1009.5h13M1117 1007.5h12M1116 1008.5h13M1135 1007.5h12M1134 1008.5h13M1130 1011.5h12M1129 1012.5h13M1126 1014.5h12M1125 1015.5h13M1151 1001.5h12M1150 1002.5h13M1154 1003.5h12M1153 1004.5h13M939 1008.5h12M938 1009.5h13M941 1009.5h12M940 1010.5h13M1035 1009.5h12M1034 1010.5h13M1056 1013.5h12M1055 1014.5h13M922 1012.5h12M921 1013.5h13M940 1023.5h12M939 1024.5h13M961 1020.5h12M960 1021.5h13M985 1022.5h12M984 1023.5h13M996 1025.5h12M995 1026.5h13M1015 1027.5h12M1014 1028.5h13M1114 1024.5h12M1113 1025.5h13M1139 1023.5h12M1138 1024.5h13M1041 1034.5h12M1040 1035.5h13M1037 1039.5h12M1036 1040.5h13M1044 1036.5h12M1043 1037.5h13M1047 1038.5h12M1046 1039.5h13M1039 1037.5h12M1038 1038.5h13M933 1037.5h12M932 1038.5h13M931 1043.5h12M930 1044.5h13M1087 1041.5h12M1086 1042.5h13M1096 1037.5h12M1095 1038.5h13M1099 1045.5h12M1098 1046.5h13M1120 1041.5h12M1119 1042.5h13M1146 1041.5h12M1145 1042.5h13M1155 1037.5h12M1154 1038.5h13M924 1051.5h12M923 1052.5h13M934 1052.5h12M933 1053.5h13M1011 1045.5h12M1010 1046.5h13M1052 1048.5h12M1051 1049.5h13M984 1052.5h12M983 1053.5h13M1081 1051.5h12M1080 1052.5h13M1089 1055.5h12M1088 1056.5h13M1094 1059.5h12M1093 1060.5h13M1098 1059.5h12M1097 1060.5h13M1115 1055.5h12M1114 1056.5h13M1130 1051.5h12M1129 1052.5h13M1135 1058.5h12M1134 1059.5h13M1153 1049.5h12M1152 1050.5h13M1149 1055.5h12M1148 1056.5h13M1031 1059.5h12M1030 1060.5h13M999 1063.5h12M998 1064.5h13M971 1063.5h12M970 1064.5h13M976 1073.5h12M975 1074.5h13M1019 1064.5h12M1018 1065.5h13M1015 1069.5h12M1014 1070.5h13M1068 1069.5h12M1067 1070.5h13M1087 1069.5h12M1086 1070.5h13M1113 1069.5h12M1112 1070.5h13M1121 1069.5h12M1120 1070.5h13M1125 1067.5h12M1124 1068.5h13M1135 1069.5h12M1134 1070.5h13M1141 1066.5h12M1140 1067.5h13M1049 1074.5h12M1048 1075.5h13M1039 1077.5h12M1038 1078.5h13M992 1079.5h12M991 1080.5h13M1023 1084.5h12M1022 1085.5h13M1028 1088.5h12M1027 1089.5h13M950 1088.5h12M949 1089.5h13M1035 1091.5h12M1034 1092.5h13M1039 1095.5h12M1038 1096.5h13M1046 1103.5h12M1045 1104.5h13M1053 1098.5h12M1052 1099.5h13M1068 1088.5h12M1067 1089.5h13M1074 1095.5h12M1073 1096.5h13M1113 1095.5h12M1112 1096.5h13M1142 1086.5h12M1141 1087.5h13M1138 1094.5h12M1137 1095.5h13M1139 1091.5h12M1138 1092.5h13M1157 1095.5h12M1156 1096.5h13M939 1096.5h12M938 1097.5h13M943 1100.5h12M942 1101.5h13M927 1108.5h12M926 1109.5h13M933 1108.5h12M932 1109.5h13M950 1101.5h12M949 1102.5h13M971 1102.5h12M970 1103.5h13M984 1104.5h12M983 1105.5h13M1007 1107.5h12M1006 1108.5h13M1007 1113.5h12M1006 1114.5h13M968 1112.5h12M967 1113.5h13M986 1112.5h12M985 1113.5h13M1092 1111.5h12M1091 1112.5h13M1092 1116.5h12M1091 1117.5h13M1103 1112.5h12M1102 1113.5h13M1064 1116.5h12M1063 1117.5h13M979 1120.5h12M978 1121.5h13M969 1124.5h12M968 1125.5h13M933 1129.5h12M932 1130.5h13M949 1129.5h12M948 1130.5h13M988 1129.5h12M987 1130.5h13M924 1142.5h12M923 1143.5h13M979 1142.5h12M978 1143.5h13M996 1139.5h12M995 1140.5h13M995 1144.5h12M994 1145.5h13M1003 1139.5h12M1002 1140.5h13M1010 1147.5h12M1009 1148.5h13M1020 1146.5h12M1019 1147.5h13M956 1145.5h12M955 1146.5h13M957 1149.5h12M956 1150.5h13M955 1148.5h12M954 1149.5h13M938 1155.5h12M937 1156.5h13M950 1157.5h12M949 1158.5h13M951 1164.5h12M950 1165.5h13M961 1158.5h12M960 1159.5h13M966 1159.5h12M965 1160.5h13M925 1162.5h12M924 1163.5h13M991 1161.5h12M990 1162.5h13M1001 1159.5h12M1000 1160.5h13M997 1166.5h12M996 1167.5h13M973 1174.5h12M972 1175.5h13M982 1180.5h12M981 1181.5h13M932 1180.5h12M931 1181.5h13M949 1184.5h12M948 1185.5h13M947 1190.5h12M946 1191.5h13M945 1195.5h12M944 1196.5h13M935 1202.5h12M934 1203.5h13M955 1204.5h12M954 1205.5h13M966 1205.5h12M965 1206.5h13M974 1207.5h12M973 1208.5h13M977 1208.5h12M976 1209.5h13M936 1214.5h12M935 1215.5h13M925 1225.5h12M924 1226.5h13M928 1229.5h12M927 1230.5h13M939 1230.5h12M938 1231.5h13M926 1237.5h12M925 1238.5h13M921 1253.5h12M920 1254.5h13M942 1251.5h12M941 1252.5h13M960 1254.5h12M959 1255.5h13M960 1261.5h12M959 1262.5h13M975 1270.5h12M974 1271.5h13M971 1275.5h12M970 1276.5h13M949 1297.5h12M948 1298.5h13M948 1301.5h12M947 1302.5h13M926 1314.5h12M925 1315.5h13M921 1319.5h12M920 1320.5h13M922 1321.5h12M921 1322.5h13M929 1325.5h12M928 1326.5h13M942 1318.5h12M941 1319.5h13M965 1311.5h12M964 1312.5h13M953 1334.5h12M952 1335.5h13M959 1341.5h12M958 1342.5h13M921 1341.5h12M920 1342.5h13M977 1341.5h12M976 1342.5h13M947 1350.5h12M946 1351.5h13M1394 623.5h12M1393 624.5h13M1401 624.5h12M1400 625.5h13M1327 631.5h12M1326 632.5h13M1341 634.5h12M1340 635.5h13M1352 631.5h12M1351 632.5h13M1350 644.5h12M1349 645.5h13M1376 646.5h12M1375 647.5h13M1312 650.5h12M1311 651.5h13M1303 658.5h12M1302 659.5h13M1273 662.5h12M1272 663.5h13M1287 666.5h12M1286 667.5h13M1287 669.5h12M1286 670.5h13M1254 667.5h12M1253 668.5h13M1237 669.5h12M1236 670.5h13M1318 667.5h12M1317 668.5h13M1333 663.5h12M1332 664.5h13M1338 658.5h12M1337 659.5h13M1385 671.5h12M1384 672.5h13M1266 688.5h12M1265 689.5h13M1310 690.5h12M1309 691.5h13M1317 697.5h12M1316 698.5h13M1394 690.5h12M1393 691.5h13M1293 696.5h12M1292 697.5h13M1232 698.5h12M1231 699.5h13M1222 707.5h12M1221 708.5h13M1247 709.5h12M1246 710.5h13M1285 708.5h12M1284 709.5h13M1293 712.5h12M1292 713.5h13M1301 705.5h12M1300 706.5h13M1325 707.5h12M1324 708.5h13M1251 719.5h12M1250 720.5h13M1251 722.5h12M1250 723.5h13M1363 715.5h12M1362 716.5h13M1376 715.5h12M1375 716.5h13M1385 707.5h12M1384 708.5h13M1306 722.5h12M1305 723.5h13M1314 723.5h12M1313 724.5h13M1321 729.5h12M1320 730.5h13M1279 724.5h12M1278 725.5h13M1283 724.5h12M1282 725.5h13M1270 729.5h12M1269 730.5h13M1282 733.5h12M1281 734.5h13M1290 737.5h12M1289 738.5h13M1330 736.5h12M1329 737.5h13M1326 741.5h12M1325 742.5h13M1356 728.5h12M1355 729.5h13M1370 729.5h12M1369 730.5h13M1383 728.5h12M1382 729.5h13M1208 733.5h12M1207 734.5h13M1189 740.5h12M1188 741.5h13M1180 743.5h12M1179 744.5h13M1236 742.5h12M1235 743.5h13M1247 745.5h12M1246 746.5h13M1261 741.5h12M1260 742.5h13M1215 745.5h12M1214 746.5h13M1282 747.5h12M1281 748.5h13M1326 747.5h12M1325 748.5h13M1333 755.5h12M1332 756.5h13M1312 757.5h12M1311 758.5h13M1300 760.5h12M1299 761.5h13M1272 757.5h12M1271 758.5h13M1206 751.5h12M1205 752.5h13M1224 755.5h12M1223 756.5h13M1201 762.5h12M1200 763.5h13M1217 758.5h12M1216 759.5h13M1359 746.5h12M1358 747.5h13M1373 747.5h12M1372 748.5h13M1374 749.5h12M1373 750.5h13M1359 760.5h12M1358 761.5h13M1367 758.5h12M1366 759.5h13M1373 758.5h12M1372 759.5h13M1395 761.5h12M1394 762.5h13M1403 762.5h12M1402 763.5h13M1263 766.5h12M1262 767.5h13M1269 773.5h12M1268 774.5h13M1290 770.5h12M1289 771.5h13M1175 768.5h12M1174 769.5h13M1190 772.5h12M1189 773.5h13M1217 772.5h12M1216 773.5h13M1230 772.5h12M1229 773.5h13M1365 771.5h12M1364 772.5h13M1379 776.5h12M1378 777.5h13M1383 776.5h12M1382 777.5h13M1387 773.5h12M1386 774.5h13M1347 773.5h12M1346 774.5h13M1343 779.5h12M1342 780.5h13M1308 781.5h12M1307 782.5h13M1204 786.5h12M1203 787.5h13M1228 789.5h12M1227 790.5h13M1268 786.5h12M1267 787.5h13M1339 786.5h12M1338 787.5h13M1170 787.5h12M1169 788.5h13M1171 792.5h12M1170 793.5h13M1184 789.5h12M1183 790.5h13M1187 794.5h12M1186 795.5h13M1192 801.5h12M1191 802.5h13M1205 802.5h12M1204 803.5h13M1272 794.5h12M1271 795.5h13M1313 795.5h12M1312 796.5h13M1317 799.5h12M1316 800.5h13M1348 795.5h12M1347 796.5h13M1401 790.5h12M1400 791.5h13M1390 801.5h12M1389 802.5h13M1387 807.5h12M1386 808.5h13M1247 804.5h12M1246 805.5h13M1262 802.5h12M1261 803.5h13M1254 811.5h12M1253 812.5h13M1270 811.5h12M1269 812.5h13M1287 808.5h12M1286 809.5h13M1295 808.5h12M1294 809.5h13M1298 808.5h12M1297 809.5h13M1321 813.5h12M1320 814.5h13M1178 819.5h12M1177 820.5h13M1183 817.5h12M1182 818.5h13M1201 819.5h12M1200 820.5h13M1202 821.5h12M1201 822.5h13M1224 818.5h12M1223 819.5h13M1229 817.5h12M1228 818.5h13M1222 822.5h12M1221 823.5h13M1223 824.5h12M1222 825.5h13M1396 817.5h12M1395 818.5h13M1299 818.5h12M1298 819.5h13M1331 821.5h12M1330 822.5h13M1347 822.5h12M1346 823.5h13M1377 822.5h12M1376 823.5h13M1259 821.5h12M1258 822.5h13M1248 833.5h12M1247 834.5h13M1238 834.5h12M1237 835.5h13M1234 839.5h12M1233 840.5h13M1289 830.5h12M1288 831.5h13M1283 837.5h12M1282 838.5h13M1282 839.5h12M1281 840.5h13M1315 828.5h12M1314 829.5h13M1311 829.5h12M1310 830.5h13M1333 829.5h12M1332 830.5h13M1332 833.5h12M1331 834.5h13M1354 830.5h12M1353 831.5h13M1343 837.5h12M1342 838.5h13M1362 835.5h12M1361 836.5h13M1374 836.5h12M1373 837.5h13M1370 843.5h12M1369 844.5h13M1201 835.5h12M1200 836.5h13M1174 839.5h12M1173 840.5h13M1209 843.5h12M1208 844.5h13M1174 847.5h12M1173 848.5h13M1197 849.5h12M1196 850.5h13M1258 844.5h12M1257 845.5h13M1244 851.5h12M1243 852.5h13M1254 851.5h12M1253 852.5h13M1275 852.5h12M1274 853.5h13M1304 853.5h12M1303 854.5h13M1305 855.5h12M1304 856.5h13M1319 846.5h12M1318 847.5h13M1330 845.5h12M1329 846.5h13M1333 847.5h12M1332 848.5h13M1346 843.5h12M1345 844.5h13M1351 848.5h12M1350 849.5h13M1355 852.5h12M1354 853.5h13M1369 849.5h12M1368 850.5h13M1340 857.5h12M1339 858.5h13M1339 859.5h12M1338 860.5h13M1392 850.5h12M1391 851.5h13M1397 846.5h12M1396 847.5h13M1183 858.5h12M1182 859.5h13M1233 864.5h12M1232 865.5h13M1266 866.5h12M1265 867.5h13M1388 864.5h12M1387 865.5h13M1204 869.5h12M1203 870.5h13M1249 870.5h12M1248 871.5h13M1276 873.5h12M1275 874.5h13M1268 878.5h12M1267 879.5h13M1326 868.5h12M1325 869.5h13M1329 872.5h12M1328 873.5h13M1340 872.5h12M1339 873.5h13M1351 871.5h12M1350 872.5h13M1297 877.5h12M1296 878.5h13M1394 877.5h12M1393 878.5h13M1383 880.5h12M1382 881.5h13M1194 885.5h12M1193 886.5h13M1247 887.5h12M1246 888.5h13M1243 890.5h12M1242 891.5h13M1253 890.5h12M1252 891.5h13M1265 886.5h12M1264 887.5h13M1364 886.5h12M1363 887.5h13M1358 891.5h12M1357 892.5h13M1299 891.5h12M1298 892.5h13M1294 894.5h12M1293 895.5h13M1213 895.5h12M1212 896.5h13M1177 895.5h12M1176 896.5h13M1240 900.5h12M1239 901.5h13M1244 906.5h12M1243 907.5h13M1323 901.5h12M1322 902.5h13M1337 904.5h12M1336 905.5h13M1352 904.5h12M1351 905.5h13M1171 905.5h12M1170 906.5h13M1308 911.5h12M1307 912.5h13M1187 915.5h12M1186 916.5h13M1197 917.5h12M1196 918.5h13M1207 915.5h12M1206 916.5h13M1220 918.5h12M1219 919.5h13M1222 920.5h12M1221 921.5h13M1265 917.5h12M1264 918.5h13M1343 916.5h12M1342 917.5h13M1344 919.5h12M1343 920.5h13M1180 923.5h12M1179 924.5h13M1198 926.5h12M1197 927.5h13M1226 926.5h12M1225 927.5h13M1212 926.5h12M1211 927.5h13M1347 925.5h12M1346 926.5h13M1322 926.5h12M1321 927.5h13M1326 928.5h12M1325 929.5h13M1334 927.5h12M1333 928.5h13M1190 930.5h12M1189 931.5h13M1183 937.5h12M1182 938.5h13M1212 934.5h12M1211 935.5h13M1261 935.5h12M1260 936.5h13M1296 937.5h12M1295 938.5h13M1277 940.5h12M1276 941.5h13M1358 933.5h12M1357 934.5h13M1359 934.5h12M1358 935.5h13M1344 937.5h12M1343 938.5h13M1319 943.5h12M1318 944.5h13M1322 944.5h12M1321 945.5h13M1306 940.5h12M1305 941.5h13M1240 943.5h12M1239 944.5h13M1238 945.5h12M1237 946.5h13M1281 948.5h12M1280 949.5h13M1293 950.5h12M1292 951.5h13M1209 943.5h12M1208 944.5h13M1172 947.5h12M1171 948.5h13M1183 951.5h12M1182 952.5h13M1201 951.5h12M1200 952.5h13M1219 948.5h12M1218 949.5h13M1204 956.5h12M1203 957.5h13M1229 954.5h12M1228 955.5h13M1324 952.5h12M1323 953.5h13M1297 954.5h12M1296 955.5h13M1176 966.5h12M1175 967.5h13M1190 962.5h12M1189 963.5h13M1169 975.5h12M1168 976.5h13M1171 975.5h12M1170 976.5h13M1209 969.5h12M1208 970.5h13M1221 968.5h12M1220 969.5h13M1198 975.5h12M1197 976.5h13M1300 961.5h12M1299 962.5h13M1313 965.5h12M1312 966.5h13M1283 971.5h12M1282 972.5h13M1258 977.5h12M1257 978.5h13M1216 985.5h12M1215 986.5h13M1226 986.5h12M1225 987.5h13M1189 992.5h12M1188 993.5h13M1252 988.5h12M1251 989.5h13M1177 999.5h12M1176 1000.5h13M1235 1000.5h12M1234 1001.5h13M1269 998.5h12M1268 999.5h13M1265 1002.5h12M1264 1003.5h13M1219 1010.5h12M1218 1011.5h13M1249 1008.5h12M1248 1009.5h13M1257 1012.5h12M1256 1013.5h13M1269 1013.5h12M1268 1014.5h13M1274 1019.5h12M1273 1020.5h13M1244 1017.5h12M1243 1018.5h13M1240 1021.5h12M1239 1022.5h13M1235 1025.5h12M1234 1026.5h13M1232 1029.5h12M1231 1030.5h13M1245 1028.5h12M1244 1029.5h13M1244 1036.5h12M1243 1037.5h13M1242 1043.5h12M1241 1044.5h13M1251 1041.5h12M1250 1042.5h13M1197 1026.5h12M1196 1027.5h13M1215 1036.5h12M1214 1037.5h13M1207 1041.5h12M1206 1042.5h13M1185 1049.5h12M1184 1050.5h13M1172 1057.5h12M1171 1058.5h13M1169 1082.5h12M1168 1083.5h13M915 1159.5h12M914 1160.5h13M1252 648.5h12M1251 649.5h13M1141 867.5h12M1140 868.5h13M963 1292.5h12M962 1293.5h13M497 1391.5h12M496 1392.5h13M1195 1057.5h12M1194 1058.5h13M297 1779.5h12M296 1780.5h13M612 1369.5h12M611 1370.5h13M1122 797.5h12M1121 798.5h13M534 1399.5h12M533 1400.5h13M500 1487.5h12M499 1488.5h13M1013 1052.5h12M1012 1053.5h13M1281 812.5h12M1280 813.5h13M721 1316.5h12M720 1317.5h13M594 1604.5h12M593 1605.5h13M837 1072.5h12M836 1073.5h13M553 1636.5h12M552 1637.5h13M251 1681.5h12M250 1682.5h13M1204 711.5h12M1203 712.5h13M666 1265.5h12M665 1266.5h13M747 1358.5h12M746 1359.5h13M660 1161.5h12M659 1162.5h13M891 985.5h12M890 986.5h13M1357 831.5h12M1356 832.5h13M674 1344.5h12M673 1345.5h13M878 1166.5h12M877 1167.5h13M1268 844.5h12M1267 845.5h13M780 1253.5h12M779 1254.5h13M1154 903.5h12M1153 904.5h13M838 1024.5h12M837 1025.5h13M1040 1007.5h12M1039 1008.5h13M440 1310.5h12M439 1311.5h13M321 1653.5h12M320 1654.5h13M226 1678.5h12M225 1679.5h13M787 1032.5h12M786 1033.5h13M1074 1195.5h12M1073 1196.5h13M297 1687.5h12M296 1688.5h13M699 1379.5h12M698 1380.5h13M1060 958.5h12M1059 959.5h13M527 1393.5h12M526 1394.5h13M1353 881.5h12M1352 882.5h13M896 1111.5h12M895 1112.5h13M1359 901.5h12M1358 902.5h13M1209 1073.5h12M1208 1074.5h13M433 1478.5h12M432 1479.5h13M918 937.5h12M917 938.5h13M338 1511.5h12M337 1512.5h13M1368 798.5h12M1367 799.5h13M1117 1022.5h12M1116 1023.5h13M822 1197.5h12M821 1198.5h13M554 1635.5h12M553 1636.5h13M366 1606.5h12M365 1607.5h13M1240 934.5h12M1239 935.5h13M628 1349.5h12M627 1350.5h13M232 1597.5h12M231 1598.5h13M851 1358.5h12M850 1359.5h13M1369 678.5h12M1368 679.5h13M863 1282.5h12M862 1283.5h13M1105 1137.5h12M1104 1138.5h13M452 1474.5h12M451 1475.5h13M811 1192.5h12M810 1193.5h13M768 1273.5h12M767 1274.5h13M324 1537.5h12M323 1538.5h13M453 1419.5h12M452 1420.5h13M1099 888.5h12M1098 889.5h13M1256 783.5h12M1255 784.5h13M871 1278.5h12M870 1279.5h13M1334 936.5h12M1333 937.5h13M1169 1111.5h12M1168 1112.5h13M1097 888.5h12M1096 889.5h13M282 1645.5h12M281 1646.5h13M1211 754.5h12M1210 755.5h13M739 1255.5h12M738 1256.5h13M915 1201.5h12M914 1202.5h13M587 1464.5h12M586 1465.5h13M606 1341.5h12M605 1342.5h13M1099 991.5h12M1098 992.5h13M341 1578.5h12M340 1579.5h13M580 1263.5h12M579 1264.5h13M1091 1108.5h12M1090 1109.5h13M388 1529.5h12M387 1530.5h13M341 1547.5h12M340 1548.5h13M1121 953.5h12M1120 954.5h13M677 1283.5h12M676 1284.5h13M264 1836.5h12M263 1837.5h13M819 1144.5h12M818 1145.5h13M965 1087.5h12M964 1088.5h13M1070 964.5h12M1069 965.5h13M765 1072.5h12M764 1073.5h13M1351 762.5h12M1350 763.5h13M508 1466.5h12M507 1467.5h13M643 1404.5h12M642 1405.5h13M1140 1130.5h12M1139 1131.5h13M227 1810.5h12M226 1811.5h13M523 1568.5h12M522 1569.5h13M555 1443.5h12M554 1444.5h13"/>
<rect x="157.44" y="157.44" width="1297.9199999999998" height="1950.7199999999998" fill="none" stroke="#000" stroke-width="2"/><path stroke="#000" stroke-width="2" fill="none" d="M204.0 2108.16v19.2M497.75 2108.16v19.2M791.5 2108.16v19.2M1085.25 2108.16v19.2M1379.0 2108.16v19.2M157.44 2014.5h-19.2M157.44 1602.75h-19.2M157.44 1191.0h-19.2M157.44 779.25h-19.2M157.44 367.5h-19.2"/>
</g>
<g><text x="204.0" y="2177.5" text-anchor="middle">0</text><text x="497.75" y="2177.5" text-anchor="middle">500</text><text x="791.5" y="2177.5" text-anchor="middle">1000</text><text x="1085.25" y="2177.5" text-anchor="middle">1500</text><text x="1379.0" y="2177.5" text-anchor="middle">2000</text><text transform="translate(112.5 2014.5) rotate(-90)" text-anchor="middle">10</text><text transform="translate(112.5 1602.75) rotate(-90)" text-anchor="middle">15</text><text transform="translate(112.5 1191.0) rotate(-90)" text-anchor="middle">20</text><text transform="translate(112.5 779.25) rotate(-90)" text-anchor="middle">25</text><text transform="translate(112.5 367.5) rotate(-90)" text-anchor="middle">30</text><text x="806.4" y="2255" text-anchor="middle">Time</text><text transform="translate(34.7 1132.8) rotate(-90)" text-anchor="middle">Observed / predicted values</text><text x="806.4" y="92.5" text-anchor="middle" style="font-size:38.4px;font-weight:bold">Cs posterior predictive</text></g>
</svg></body></html>
